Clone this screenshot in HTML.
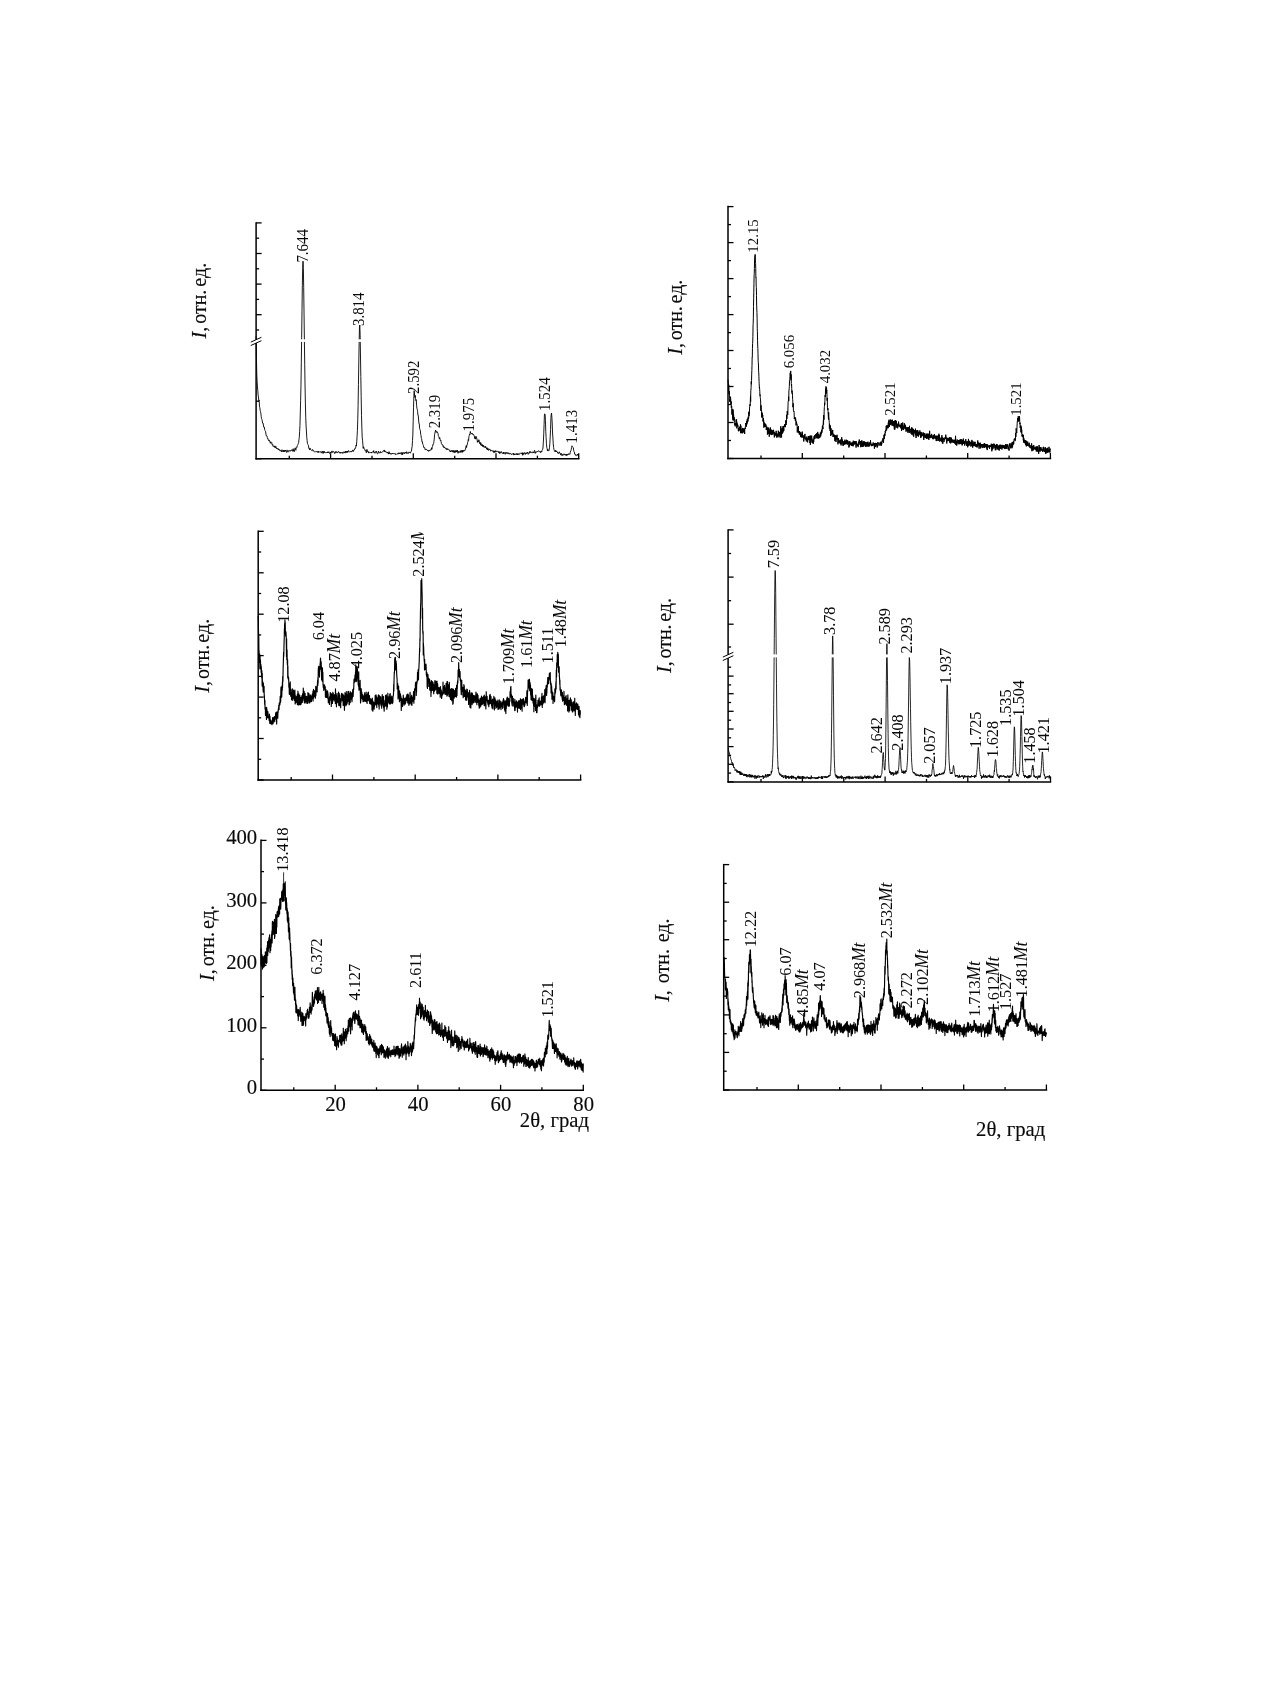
<!DOCTYPE html>
<html lang="ru"><head><meta charset="utf-8"><title>XRD</title>
<style>
html,body{margin:0;padding:0;background:#fff}
body{width:1270px;height:1683px;overflow:hidden}
svg{display:block;filter:blur(0.3px)}
text{font-family:"Liberation Serif","DejaVu Serif",serif;fill:#0a0a0a}
.yt,.tk{stroke:#0a0a0a;stroke-width:0.15px}
</style></head><body>
<svg width="1270" height="1683" viewBox="0 0 1270 1683">
<defs><clipPath id="c3"><rect x="250" y="532.2" width="340" height="260"/></clipPath></defs>
<rect width="1270" height="1683" fill="#fff"/>
<line x1="256.1" y1="222.2" x2="256.1" y2="459.4" stroke="#000" stroke-width="1.5"/>
<line x1="255.4" y1="458.7" x2="579.5" y2="458.7" stroke="#000" stroke-width="1.5"/>
<line x1="256.1" y1="222.9" x2="261.6" y2="222.9" stroke="#000" stroke-width="1.3"/>
<line x1="256.1" y1="238.2" x2="259.1" y2="238.2" stroke="#000" stroke-width="1.3"/>
<line x1="256.1" y1="253.5" x2="261.6" y2="253.5" stroke="#000" stroke-width="1.3"/>
<line x1="256.1" y1="268.8" x2="259.1" y2="268.8" stroke="#000" stroke-width="1.3"/>
<line x1="256.1" y1="284.1" x2="261.6" y2="284.1" stroke="#000" stroke-width="1.3"/>
<line x1="256.1" y1="299.4" x2="259.1" y2="299.4" stroke="#000" stroke-width="1.3"/>
<line x1="256.1" y1="314.7" x2="261.6" y2="314.7" stroke="#000" stroke-width="1.3"/>
<line x1="256.1" y1="330.0" x2="259.1" y2="330.0" stroke="#000" stroke-width="1.3"/>
<line x1="256.1" y1="401.2" x2="259.1" y2="401.2" stroke="#000" stroke-width="1.3"/>
<line x1="256.1" y1="458.7" x2="261.6" y2="458.7" stroke="#000" stroke-width="1.3"/>
<line x1="289.3" y1="458.7" x2="289.3" y2="455.7" stroke="#000" stroke-width="1.3"/>
<line x1="330.6" y1="458.7" x2="330.6" y2="453.2" stroke="#000" stroke-width="1.3"/>
<line x1="372.0" y1="458.7" x2="372.0" y2="455.7" stroke="#000" stroke-width="1.3"/>
<line x1="413.3" y1="458.7" x2="413.3" y2="453.2" stroke="#000" stroke-width="1.3"/>
<line x1="454.7" y1="458.7" x2="454.7" y2="455.7" stroke="#000" stroke-width="1.3"/>
<line x1="496.0" y1="458.7" x2="496.0" y2="453.2" stroke="#000" stroke-width="1.3"/>
<line x1="537.4" y1="458.7" x2="537.4" y2="455.7" stroke="#000" stroke-width="1.3"/>
<line x1="578.7" y1="458.7" x2="578.7" y2="453.2" stroke="#000" stroke-width="1.3"/>
<polyline fill="none" stroke="#000" stroke-width="0.9" stroke-linejoin="round" points="256.10,336.3 256.44,357.7 256.78,374.1 257.12,381.4 257.46,386.9 257.80,390.6 258.14,395.2 258.48,397.1 258.82,400.7 259.16,400.0 259.50,406.9 259.84,407.2 260.18,410.5 260.52,411.7 260.86,413.4 261.20,416.4 261.54,418.6 261.88,419.2 262.22,420.8 262.56,423.2 262.90,422.9 263.24,423.5 263.58,426.9 263.92,426.7 264.26,426.9 264.60,429.2 264.94,430.7 265.28,431.0 265.62,431.7 265.96,434.2 266.30,435.9 266.64,435.6 266.98,435.9 267.32,437.7 267.66,438.7 268.00,438.4 268.34,439.7 268.68,440.8 269.02,440.2 269.36,440.2 269.70,441.7 270.04,442.1 270.38,443.3 270.72,441.7 271.06,442.7 271.40,443.0 271.74,442.6 272.08,444.5 272.42,445.2 272.76,444.5 273.10,446.6 273.44,446.4 273.78,446.5 274.12,446.6 274.46,447.3 274.80,445.8 275.14,447.6 275.48,447.8 275.82,446.3 276.16,448.1 276.50,447.9 276.84,448.9 277.18,448.2 277.52,448.8 277.86,449.3 278.20,448.6 278.54,449.9 278.88,449.5 279.22,450.1 279.56,449.6 279.90,450.9 280.24,450.7 280.58,450.3 280.92,451.0 281.26,451.5 281.60,452.0 281.94,449.7 282.28,451.5 282.62,451.2 282.96,450.9 283.30,450.3 283.64,451.9 283.98,450.2 284.32,451.4 284.66,452.0 285.00,450.0 285.34,450.9 285.68,450.2 286.02,451.3 286.36,452.2 286.70,452.5 287.04,449.9 287.38,450.7 287.72,451.6 288.06,452.2 288.40,451.4 288.74,450.5 289.08,451.3 289.42,451.0 289.76,450.8 290.10,450.2 290.44,451.1 290.78,451.0 291.12,450.7 291.46,450.5 291.80,449.7 292.14,450.2 292.48,451.3 292.82,450.2 293.16,448.7 293.50,451.0 293.84,450.2 294.18,451.8 294.52,449.5 294.86,448.9 295.20,447.9 295.54,449.7 295.88,450.3 296.22,447.3 296.56,447.0 296.90,447.4 297.24,445.7 297.58,445.4 297.92,444.4 298.26,443.7 298.60,442.9 298.94,439.8 299.28,437.5 299.62,431.6 299.96,425.6 300.30,413.0 300.64,400.2 300.98,385.5 301.32,362.2 301.66,337.2 302.00,310.3 302.34,285.6 302.68,267.3 303.02,261.2 303.36,268.5 303.70,287.5 304.04,312.9 304.38,340.0 304.72,364.8 305.06,386.1 305.40,403.9 305.74,417.3 306.08,426.0 306.42,431.0 306.76,437.2 307.10,440.5 307.44,443.4 307.78,444.4 308.12,444.6 308.46,445.4 308.80,448.3 309.14,448.0 309.48,449.3 309.82,450.0 310.16,448.2 310.50,449.4 310.84,449.8 311.18,450.1 311.52,450.4 311.86,450.3 312.20,450.5 312.54,449.5 312.88,450.6 313.22,450.4 313.56,451.1 313.90,450.8 314.24,451.6 314.58,451.9 314.92,451.6 315.26,451.7 315.60,451.6 315.94,451.3 316.28,451.6 316.62,451.4 316.96,452.1 317.30,451.9 317.64,452.3 317.98,451.1 318.32,452.6 318.66,451.5 319.00,451.6 319.34,452.0 319.68,451.8 320.02,452.3 320.36,451.8 320.70,451.5 321.04,451.7 321.38,453.1 321.72,452.3 322.06,451.5 322.40,452.3 322.74,451.3 323.08,453.5 323.42,451.4 323.76,452.8 324.10,452.7 324.44,451.4 324.78,452.6 325.12,453.0 325.46,452.7 325.80,452.6 326.14,453.0 326.48,452.5 326.82,452.6 327.16,452.3 327.50,453.0 327.84,451.8 328.18,452.9 328.52,452.1 328.86,451.7 329.20,452.7 329.54,453.5 329.88,453.1 330.22,452.1 330.56,452.9 330.90,452.1 331.24,452.4 331.58,452.5 331.92,450.9 332.26,452.6 332.60,451.8 332.94,452.0 333.28,451.5 333.62,451.4 333.96,451.8 334.30,453.0 334.64,453.5 334.98,452.4 335.32,453.1 335.66,452.2 336.00,451.2 336.34,452.5 336.68,452.7 337.02,452.1 337.36,452.6 337.70,452.7 338.04,451.8 338.38,451.4 338.72,452.2 339.06,452.2 339.40,452.1 339.74,453.0 340.08,453.4 340.42,452.0 340.76,452.7 341.10,452.9 341.44,452.7 341.78,452.9 342.12,452.0 342.46,452.7 342.80,453.5 343.14,452.7 343.48,451.8 343.82,452.6 344.16,453.0 344.50,452.4 344.84,451.7 345.18,453.1 345.52,451.2 345.86,452.4 346.20,452.0 346.54,451.2 346.88,452.8 347.22,452.2 347.56,451.1 347.90,452.3 348.24,451.5 348.58,450.5 348.92,451.3 349.26,451.9 349.60,452.1 349.94,451.7 350.28,451.5 350.62,451.8 350.96,451.2 351.30,452.1 351.64,451.3 351.98,451.3 352.32,451.3 352.66,450.1 353.00,450.1 353.34,451.5 353.68,450.4 354.02,449.7 354.36,449.9 354.70,448.9 355.04,449.0 355.38,447.7 355.72,447.7 356.06,445.1 356.40,445.9 356.74,441.7 357.08,436.3 357.42,430.6 357.76,419.8 358.10,405.4 358.44,384.4 358.78,364.1 359.12,343.9 359.46,327.2 359.80,325.0 360.14,335.3 360.48,355.0 360.82,376.4 361.16,396.3 361.50,415.3 361.84,427.1 362.18,437.1 362.52,440.2 362.86,444.3 363.20,448.4 363.54,446.8 363.88,447.6 364.22,448.9 364.56,449.4 364.90,450.5 365.24,450.3 365.58,450.0 365.92,450.9 366.26,452.8 366.60,452.0 366.94,449.4 367.28,451.3 367.62,451.0 367.96,452.1 368.30,451.6 368.64,453.1 368.98,452.5 369.32,452.6 369.66,452.2 370.00,452.1 370.34,452.4 370.68,453.0 371.02,452.6 371.36,452.0 371.70,453.1 372.04,452.5 372.38,452.3 372.72,451.7 373.06,452.0 373.40,452.0 373.74,450.6 374.08,453.1 374.42,452.8 374.76,452.4 375.10,453.2 375.44,452.8 375.78,452.8 376.12,451.0 376.46,452.4 376.80,452.9 377.14,453.6 377.48,453.8 377.82,453.5 378.16,451.8 378.50,451.2 378.84,452.9 379.18,452.6 379.52,453.2 379.86,452.5 380.20,452.7 380.54,451.5 380.88,452.7 381.22,452.1 381.56,452.5 381.90,452.4 382.24,451.8 382.58,451.8 382.92,451.3 383.26,451.5 383.60,451.0 383.94,450.0 384.28,450.0 384.62,451.8 384.96,450.8 385.30,451.9 385.64,451.9 385.98,451.6 386.32,451.8 386.66,452.6 387.00,452.9 387.34,453.2 387.68,452.1 388.02,452.6 388.36,453.0 388.70,454.1 389.04,451.7 389.38,453.5 389.72,452.9 390.06,453.6 390.40,453.0 390.74,453.6 391.08,454.4 391.42,453.7 391.76,453.7 392.10,453.8 392.44,453.1 392.78,453.9 393.12,453.5 393.46,453.1 393.80,453.6 394.14,453.5 394.48,454.1 394.82,453.7 395.16,453.4 395.50,454.6 395.84,454.3 396.18,454.5 396.52,454.1 396.86,453.7 397.20,453.5 397.54,453.6 397.88,454.3 398.22,453.8 398.56,452.8 398.90,453.7 399.24,452.9 399.58,453.8 399.92,452.9 400.26,452.9 400.60,453.7 400.94,453.5 401.28,452.5 401.62,453.9 401.96,454.8 402.30,452.5 402.64,454.5 402.98,452.9 403.32,453.0 403.66,453.1 404.00,452.3 404.34,454.0 404.68,453.4 405.02,452.6 405.36,452.8 405.70,452.0 406.04,452.7 406.38,453.5 406.72,451.7 407.06,452.5 407.40,452.8 407.74,453.3 408.08,453.8 408.42,452.3 408.76,452.0 409.10,452.7 409.44,452.1 409.78,452.0 410.12,452.8 410.46,453.1 410.80,451.9 411.14,451.3 411.48,451.1 411.82,448.0 412.16,446.6 412.50,440.4 412.84,435.0 413.18,421.6 413.52,407.2 413.86,396.3 414.20,390.7 414.54,395.4 414.88,397.4 415.22,395.3 415.56,398.7 415.90,400.6 416.24,399.7 416.58,405.2 416.92,408.2 417.26,409.3 417.60,411.7 417.94,415.4 418.28,415.4 418.62,420.0 418.96,423.8 419.30,423.8 419.64,428.7 419.98,429.6 420.32,430.2 420.66,434.2 421.00,435.4 421.34,438.4 421.68,438.7 422.02,442.1 422.36,441.9 422.70,444.0 423.04,444.3 423.38,445.5 423.72,447.5 424.06,447.5 424.40,447.6 424.74,447.5 425.08,449.8 425.42,449.8 425.76,449.4 426.10,450.0 426.44,449.4 426.78,449.5 427.12,449.8 427.46,450.7 427.80,450.7 428.14,450.0 428.48,451.3 428.82,451.1 429.16,450.6 429.50,451.1 429.84,450.0 430.18,450.0 430.52,450.2 430.86,449.5 431.20,449.8 431.54,447.8 431.88,449.3 432.22,446.9 432.56,446.5 432.90,444.4 433.24,444.6 433.58,443.6 433.92,441.5 434.26,439.1 434.60,434.4 434.94,432.9 435.28,431.4 435.62,430.1 435.96,432.2 436.30,431.5 436.64,431.6 436.98,432.6 437.32,431.8 437.66,432.6 438.00,433.4 438.34,435.6 438.68,436.4 439.02,437.5 439.36,438.8 439.70,437.5 440.04,439.1 440.38,440.5 440.72,440.0 441.06,441.5 441.40,443.5 441.74,444.3 442.08,444.8 442.42,444.6 442.76,444.9 443.10,446.5 443.44,445.8 443.78,446.8 444.12,448.0 444.46,447.0 444.80,447.2 445.14,448.0 445.48,448.8 445.82,448.9 446.16,449.0 446.50,449.5 446.84,448.1 447.18,448.9 447.52,449.8 447.86,449.2 448.20,449.1 448.54,449.3 448.88,449.7 449.22,450.3 449.56,449.9 449.90,450.9 450.24,452.0 450.58,450.8 450.92,451.9 451.26,451.3 451.60,450.4 451.94,451.1 452.28,450.6 452.62,451.9 452.96,450.6 453.30,452.4 453.64,451.9 453.98,450.2 454.32,452.1 454.66,452.7 455.00,451.1 455.34,452.4 455.68,450.5 456.02,451.9 456.36,450.6 456.70,452.1 457.04,450.6 457.38,450.0 457.72,452.0 458.06,453.3 458.40,451.4 458.74,452.3 459.08,451.8 459.42,451.5 459.76,452.1 460.10,452.7 460.44,450.7 460.78,451.9 461.12,451.6 461.46,450.4 461.80,452.3 462.14,452.5 462.48,450.3 462.82,452.1 463.16,450.7 463.50,450.4 463.84,451.3 464.18,450.2 464.52,450.0 464.86,450.5 465.20,449.9 465.54,449.2 465.88,446.9 466.22,445.7 466.56,447.5 466.90,445.0 467.24,444.9 467.58,442.6 467.92,442.0 468.26,439.5 468.60,440.5 468.94,436.3 469.28,435.5 469.62,434.0 469.96,434.5 470.30,431.5 470.64,433.0 470.98,432.9 471.32,433.7 471.66,433.9 472.00,433.1 472.34,434.1 472.68,433.8 473.02,434.9 473.36,434.7 473.70,434.6 474.04,435.6 474.38,436.4 474.72,438.6 475.06,436.5 475.40,437.7 475.74,439.2 476.08,436.4 476.42,437.2 476.76,438.1 477.10,439.6 477.44,442.3 477.78,440.9 478.12,442.1 478.46,441.2 478.80,439.7 479.14,440.2 479.48,443.5 479.82,443.2 480.16,442.3 480.50,444.7 480.84,442.8 481.18,445.4 481.52,445.9 481.86,444.4 482.20,444.4 482.54,446.3 482.88,445.0 483.22,446.9 483.56,445.5 483.90,447.3 484.24,447.0 484.58,446.8 484.92,446.7 485.26,447.8 485.60,446.3 485.94,447.8 486.28,447.9 486.62,448.9 486.96,447.6 487.30,450.0 487.64,448.6 487.98,448.2 488.32,450.2 488.66,450.5 489.00,449.3 489.34,448.9 489.68,449.7 490.02,449.3 490.36,449.7 490.70,451.2 491.04,450.5 491.38,450.4 491.72,450.6 492.06,450.5 492.40,451.2 492.74,451.3 493.08,450.5 493.42,451.0 493.76,452.6 494.10,451.3 494.44,451.0 494.78,452.6 495.12,451.3 495.46,450.6 495.80,451.9 496.14,450.9 496.48,451.2 496.82,451.9 497.16,451.6 497.50,451.3 497.84,451.5 498.18,451.5 498.52,452.7 498.86,451.5 499.20,451.7 499.54,453.5 499.88,451.8 500.22,453.2 500.56,453.1 500.90,452.2 501.24,451.5 501.58,452.7 501.92,452.9 502.26,453.2 502.60,452.7 502.94,453.8 503.28,453.6 503.62,452.1 503.96,453.8 504.30,453.0 504.64,452.6 504.98,452.8 505.32,454.3 505.66,453.8 506.00,452.1 506.34,453.3 506.68,453.2 507.02,453.3 507.36,453.1 507.70,452.6 508.04,454.1 508.38,452.8 508.72,453.4 509.06,453.3 509.40,453.3 509.74,454.2 510.08,454.1 510.42,453.5 510.76,453.4 511.10,453.7 511.44,454.6 511.78,454.1 512.12,454.2 512.46,453.9 512.80,454.0 513.14,454.3 513.48,453.1 513.82,455.1 514.16,453.8 514.50,453.9 514.84,455.0 515.18,454.4 515.52,454.3 515.86,453.9 516.20,453.4 516.54,454.4 516.88,455.0 517.22,453.7 517.56,455.0 517.90,453.6 518.24,453.6 518.58,454.5 518.92,454.2 519.26,454.5 519.60,453.7 519.94,453.5 520.28,452.9 520.62,453.3 520.96,453.3 521.30,453.1 521.64,454.1 521.98,453.5 522.32,452.6 522.66,455.3 523.00,453.0 523.34,452.9 523.68,454.4 524.02,454.3 524.36,452.8 524.70,452.6 525.04,452.8 525.38,454.4 525.72,453.2 526.06,452.8 526.40,453.2 526.74,453.9 527.08,452.3 527.42,452.8 527.76,452.2 528.10,454.4 528.44,454.1 528.78,453.5 529.12,452.8 529.46,453.2 529.80,451.4 530.14,452.9 530.48,451.8 530.82,451.8 531.16,452.1 531.50,452.3 531.84,452.9 532.18,452.9 532.52,452.6 532.86,451.7 533.20,452.7 533.54,452.2 533.88,453.0 534.22,451.5 534.56,450.3 534.90,451.7 535.24,453.4 535.58,452.2 535.92,451.7 536.26,452.4 536.60,452.0 536.94,452.0 537.28,451.2 537.62,451.6 537.96,451.6 538.30,451.0 538.64,450.6 538.98,451.4 539.32,451.9 539.66,451.6 540.00,451.5 540.34,451.6 540.68,452.8 541.02,451.1 541.36,451.5 541.70,452.0 542.04,450.4 542.38,449.9 542.72,449.2 543.06,447.0 543.40,441.1 543.74,433.8 544.08,424.6 544.42,415.0 544.76,413.8 545.10,414.6 545.44,420.4 545.78,431.2 546.12,437.6 546.46,443.8 546.80,447.8 547.14,448.7 547.48,450.8 547.82,449.3 548.16,450.5 548.50,450.7 548.84,451.0 549.18,449.7 549.52,447.2 549.86,443.2 550.20,436.8 550.54,429.6 550.88,418.9 551.22,414.2 551.56,413.1 551.90,417.7 552.24,424.0 552.58,434.0 552.92,438.0 553.26,443.9 553.60,447.3 553.94,449.5 554.28,450.5 554.62,451.1 554.96,451.8 555.30,450.3 555.64,451.5 555.98,450.8 556.32,451.8 556.66,451.0 557.00,451.3 557.34,452.0 557.68,453.1 558.02,452.9 558.36,452.8 558.70,453.6 559.04,452.3 559.38,451.8 559.72,453.0 560.06,453.3 560.40,454.3 560.74,455.0 561.08,453.1 561.42,455.4 561.76,455.0 562.10,454.6 562.44,454.4 562.78,455.7 563.12,454.4 563.46,454.2 563.80,454.6 564.14,453.8 564.48,454.9 564.82,454.6 565.16,454.9 565.50,455.0 565.84,454.2 566.18,455.6 566.52,454.3 566.86,455.4 567.20,454.0 567.54,455.1 567.88,454.4 568.22,454.9 568.56,454.4 568.90,453.5 569.24,453.9 569.58,454.4 569.92,454.3 570.26,452.4 570.60,451.0 570.94,450.5 571.28,449.4 571.62,447.4 571.96,445.8 572.30,446.4 572.64,446.7 572.98,447.5 573.32,447.8 573.66,450.3 574.00,451.5 574.34,451.9 574.68,454.2 575.02,454.2 575.36,454.2 575.70,455.5 576.04,455.2 576.38,455.3 576.72,455.6 577.06,455.3 577.40,454.0 577.74,454.8 578.08,455.6 578.42,454.6"/>
<rect x="262" y="339.3" width="318" height="2.6" fill="#fff"/>
<rect x="254.1" y="339.7" width="4" height="3.4" fill="#fff"/>
<line x1="250.8" y1="342.1" x2="261.4" y2="337.3" stroke="#000" stroke-width="1.0"/>
<line x1="250.8" y1="345.5" x2="261.4" y2="340.7" stroke="#000" stroke-width="1.0"/>
<text class="pl" transform="translate(307.5,262.6) rotate(-90) scale(1,1.05)" font-size="14.9">7.644</text>
<text class="pl" transform="translate(364.2,326.0) rotate(-90) scale(1,1.05)" font-size="14.9">3.814</text>
<text class="pl" transform="translate(418.5,394.0) rotate(-90) scale(1,1.05)" font-size="14.9">2.592</text>
<text class="pl" transform="translate(439.5,428.3) rotate(-90) scale(1,1.05)" font-size="14.9">2.319</text>
<text class="pl" transform="translate(474.3,431.4) rotate(-90) scale(1,1.05)" font-size="14.9">1.975</text>
<text class="pl" transform="translate(549.9,410.9) rotate(-90) scale(1,1.05)" font-size="14.9">1.524</text>
<text class="pl" transform="translate(576.5,443.4) rotate(-90) scale(1,1.05)" font-size="14.9">1.413</text>
<text class="yt" transform="translate(205.8,338.5) rotate(-90) scale(0.94,1)" font-size="21.3" word-spacing="-2.14"><tspan font-style="italic">I</tspan>, отн. ед.</text>
<line x1="728.0" y1="205.8" x2="728.0" y2="459.2" stroke="#000" stroke-width="1.5"/>
<line x1="727.2" y1="458.5" x2="1051.2" y2="458.5" stroke="#000" stroke-width="1.5"/>
<line x1="728.0" y1="206.6" x2="733.5" y2="206.6" stroke="#000" stroke-width="1.3"/>
<line x1="728.0" y1="224.6" x2="731.0" y2="224.6" stroke="#000" stroke-width="1.3"/>
<line x1="728.0" y1="242.6" x2="733.5" y2="242.6" stroke="#000" stroke-width="1.3"/>
<line x1="728.0" y1="260.6" x2="731.0" y2="260.6" stroke="#000" stroke-width="1.3"/>
<line x1="728.0" y1="278.6" x2="733.5" y2="278.6" stroke="#000" stroke-width="1.3"/>
<line x1="728.0" y1="296.6" x2="731.0" y2="296.6" stroke="#000" stroke-width="1.3"/>
<line x1="728.0" y1="314.6" x2="733.5" y2="314.6" stroke="#000" stroke-width="1.3"/>
<line x1="728.0" y1="332.6" x2="731.0" y2="332.6" stroke="#000" stroke-width="1.3"/>
<line x1="728.0" y1="350.5" x2="733.5" y2="350.5" stroke="#000" stroke-width="1.3"/>
<line x1="728.0" y1="368.5" x2="731.0" y2="368.5" stroke="#000" stroke-width="1.3"/>
<line x1="728.0" y1="386.5" x2="733.5" y2="386.5" stroke="#000" stroke-width="1.3"/>
<line x1="728.0" y1="404.5" x2="731.0" y2="404.5" stroke="#000" stroke-width="1.3"/>
<line x1="728.0" y1="422.5" x2="733.5" y2="422.5" stroke="#000" stroke-width="1.3"/>
<line x1="728.0" y1="440.5" x2="731.0" y2="440.5" stroke="#000" stroke-width="1.3"/>
<line x1="728.0" y1="458.5" x2="733.5" y2="458.5" stroke="#000" stroke-width="1.3"/>
<line x1="761.0" y1="458.5" x2="761.0" y2="455.5" stroke="#000" stroke-width="1.3"/>
<line x1="802.3" y1="458.5" x2="802.3" y2="453.0" stroke="#000" stroke-width="1.3"/>
<line x1="843.7" y1="458.5" x2="843.7" y2="455.5" stroke="#000" stroke-width="1.3"/>
<line x1="885.0" y1="458.5" x2="885.0" y2="453.0" stroke="#000" stroke-width="1.3"/>
<line x1="926.4" y1="458.5" x2="926.4" y2="455.5" stroke="#000" stroke-width="1.3"/>
<line x1="967.7" y1="458.5" x2="967.7" y2="453.0" stroke="#000" stroke-width="1.3"/>
<line x1="1009.1" y1="458.5" x2="1009.1" y2="455.5" stroke="#000" stroke-width="1.3"/>
<line x1="1050.4" y1="458.5" x2="1050.4" y2="453.0" stroke="#000" stroke-width="1.3"/>
<polyline fill="none" stroke="#000" stroke-width="1.0" stroke-linejoin="round" points="728.00,379.7 728.15,381.3 728.30,382.2 728.45,385.0 728.60,391.3 728.75,384.7 728.90,392.2 729.05,394.1 729.20,391.1 729.35,391.3 729.50,395.2 729.65,398.1 729.80,401.5 729.95,399.3 730.10,402.1 730.25,398.0 730.40,397.9 730.55,396.7 730.70,399.1 730.85,402.0 731.00,404.3 731.15,401.4 731.30,407.7 731.45,406.3 731.60,405.9 731.75,406.5 731.90,414.5 732.05,410.7 732.20,408.9 732.35,409.6 732.50,417.4 732.65,412.0 732.80,417.1 732.95,419.8 733.10,409.5 733.25,420.6 733.40,415.8 733.55,414.2 733.70,416.0 733.85,419.2 734.00,419.2 734.15,419.8 734.30,417.4 734.45,422.7 734.60,423.6 734.75,424.8 734.90,423.1 735.05,425.6 735.20,426.4 735.35,423.5 735.50,424.2 735.65,423.9 735.80,424.1 735.95,425.1 736.10,419.5 736.25,423.0 736.40,425.1 736.55,419.5 736.70,421.3 736.85,428.4 737.00,422.7 737.15,424.3 737.30,426.4 737.45,424.8 737.60,424.2 737.75,425.2 737.90,425.6 738.05,425.5 738.20,427.4 738.35,430.8 738.50,428.3 738.65,431.3 738.80,429.5 738.95,430.0 739.10,429.6 739.25,427.9 739.40,429.7 739.55,429.6 739.70,426.7 739.85,430.9 740.00,430.7 740.15,430.4 740.30,428.6 740.45,424.3 740.60,433.2 740.75,430.0 740.90,425.7 741.05,431.8 741.20,429.0 741.35,432.0 741.50,430.4 741.65,433.1 741.80,431.2 741.95,431.3 742.10,431.0 742.25,433.3 742.40,427.9 742.55,433.1 742.70,432.0 742.85,429.3 743.00,430.3 743.15,429.3 743.30,430.2 743.45,432.0 743.60,428.4 743.75,431.3 743.90,432.4 744.05,430.8 744.20,432.6 744.35,428.9 744.50,430.4 744.65,434.0 744.80,428.5 744.95,427.9 745.10,428.0 745.25,429.0 745.40,426.1 745.55,426.4 745.70,423.0 745.85,424.2 746.00,423.9 746.15,423.2 746.30,424.5 746.45,426.6 746.60,423.8 746.75,421.2 746.90,424.3 747.05,423.6 747.20,419.4 747.35,422.5 747.50,419.0 747.65,419.4 747.80,418.5 747.95,421.5 748.10,416.8 748.25,417.2 748.40,417.6 748.55,418.9 748.70,418.3 748.85,411.7 749.00,416.2 749.15,412.8 749.30,413.9 749.45,412.2 749.60,406.8 749.75,406.8 749.90,404.4 750.05,404.3 750.20,405.8 750.35,399.8 750.50,395.9 750.65,401.7 750.80,390.4 750.95,390.4 751.10,387.6 751.25,381.4 751.40,384.2 751.55,380.7 751.70,374.1 751.85,370.5 752.00,365.7 752.15,357.1 752.30,357.3 752.45,348.4 752.60,343.5 752.75,341.1 752.90,336.2 753.05,325.1 753.20,323.3 753.35,317.9 753.50,306.6 753.65,298.7 753.80,292.2 753.95,283.7 754.10,275.9 754.25,273.6 754.40,268.5 754.55,261.0 754.70,258.0 754.85,255.4 755.00,254.5 755.15,254.3 755.30,254.5 755.45,263.1 755.60,263.4 755.75,268.7 755.90,277.9 756.05,277.6 756.20,286.1 756.35,287.3 756.50,295.4 756.65,305.1 756.80,309.0 756.95,312.4 757.10,318.2 757.25,328.8 757.40,331.3 757.55,340.8 757.70,345.0 757.85,348.4 758.00,353.7 758.15,360.2 758.30,362.6 758.45,364.0 758.60,370.9 758.75,372.7 758.90,376.2 759.05,381.3 759.20,383.6 759.35,388.0 759.50,387.5 759.65,389.2 759.80,391.7 759.95,395.6 760.10,394.6 760.25,397.6 760.40,398.1 760.55,399.9 760.70,403.0 760.85,410.8 761.00,405.3 761.15,408.2 761.30,409.0 761.45,409.5 761.60,411.1 761.75,416.9 761.90,412.4 762.05,417.9 762.20,416.4 762.35,413.5 762.50,414.9 762.65,416.1 762.80,415.3 762.95,421.4 763.10,420.3 763.25,421.1 763.40,418.1 763.55,422.1 763.70,420.4 763.85,427.7 764.00,422.3 764.15,423.7 764.30,424.4 764.45,422.9 764.60,423.5 764.75,423.9 764.90,427.0 765.05,423.9 765.20,425.5 765.35,426.9 765.50,425.6 765.65,423.8 765.80,424.5 765.95,426.4 766.10,425.5 766.25,429.9 766.40,428.1 766.55,428.3 766.70,426.5 766.85,429.9 767.00,428.3 767.15,427.2 767.30,428.1 767.45,434.6 767.60,428.6 767.75,428.2 767.90,432.5 768.05,431.9 768.20,429.9 768.35,433.5 768.50,427.8 768.65,430.0 768.80,427.7 768.95,434.0 769.10,431.4 769.25,436.7 769.40,432.5 769.55,432.7 769.70,429.5 769.85,429.5 770.00,431.0 770.15,433.9 770.30,430.1 770.45,427.5 770.60,434.1 770.75,434.3 770.90,430.7 771.05,433.5 771.20,434.9 771.35,435.1 771.50,429.7 771.65,433.0 771.80,431.4 771.95,434.9 772.10,433.2 772.25,430.7 772.40,433.4 772.55,434.4 772.70,430.2 772.85,430.6 773.00,432.0 773.15,432.8 773.30,432.3 773.45,429.8 773.60,430.4 773.75,433.5 773.90,434.4 774.05,431.8 774.20,434.0 774.35,437.4 774.50,433.3 774.65,432.8 774.80,432.4 774.95,434.7 775.10,434.2 775.25,434.3 775.40,433.1 775.55,434.7 775.70,434.7 775.85,433.6 776.00,436.2 776.15,430.8 776.30,435.3 776.45,433.6 776.60,435.5 776.75,437.6 776.90,434.0 777.05,433.5 777.20,433.8 777.35,436.6 777.50,436.9 777.65,434.1 777.80,435.0 777.95,437.3 778.10,434.8 778.25,430.7 778.40,432.0 778.55,432.6 778.70,434.3 778.85,432.4 779.00,436.2 779.15,432.4 779.30,436.4 779.45,431.9 779.60,435.9 779.75,433.5 779.90,435.9 780.05,436.9 780.20,437.8 780.35,434.9 780.50,431.1 780.65,430.9 780.80,426.2 780.95,435.3 781.10,434.8 781.25,434.2 781.40,429.6 781.55,437.5 781.70,430.3 781.85,433.3 782.00,428.0 782.15,429.9 782.30,433.6 782.45,433.0 782.60,428.4 782.75,430.3 782.90,432.6 783.05,426.1 783.20,431.4 783.35,426.2 783.50,430.6 783.65,428.4 783.80,430.8 783.95,427.2 784.10,427.2 784.25,426.9 784.40,425.2 784.55,426.3 784.70,424.2 784.85,424.8 785.00,427.1 785.15,424.4 785.30,427.1 785.45,425.7 785.60,425.5 785.75,420.3 785.90,423.3 786.05,425.0 786.20,423.1 786.35,423.1 786.50,423.0 786.65,414.8 786.80,419.0 786.95,417.9 787.10,415.0 787.25,411.0 787.40,413.4 787.55,411.2 787.70,415.0 787.85,411.8 788.00,405.8 788.15,402.3 788.30,400.8 788.45,400.7 788.60,396.7 788.75,401.0 788.90,390.5 789.05,390.6 789.20,388.4 789.35,386.4 789.50,380.3 789.65,379.5 789.80,378.3 789.95,376.7 790.10,372.9 790.25,372.7 790.40,373.7 790.55,378.1 790.70,370.9 790.85,376.7 791.00,380.3 791.15,374.5 791.30,383.6 791.45,385.6 791.60,384.4 791.75,388.9 791.90,392.5 792.05,390.7 792.20,393.9 792.35,392.8 792.50,395.8 792.65,399.7 792.80,401.2 792.95,407.2 793.10,404.3 793.25,403.4 793.40,410.1 793.55,411.6 793.70,411.6 793.85,411.5 794.00,411.1 794.15,412.5 794.30,419.0 794.45,418.1 794.60,417.3 794.75,419.0 794.90,417.9 795.05,417.3 795.20,419.2 795.35,420.9 795.50,417.8 795.65,418.9 795.80,418.9 795.95,422.4 796.10,425.4 796.25,421.5 796.40,422.4 796.55,421.9 796.70,424.9 796.85,423.8 797.00,424.6 797.15,424.8 797.30,432.5 797.45,427.8 797.60,427.0 797.75,427.8 797.90,431.0 798.05,431.5 798.20,430.4 798.35,426.0 798.50,432.5 798.65,433.0 798.80,432.6 798.95,432.3 799.10,431.7 799.25,434.3 799.40,431.3 799.55,434.5 799.70,431.6 799.85,432.1 800.00,432.2 800.15,432.2 800.30,432.6 800.45,435.3 800.60,437.1 800.75,432.8 800.90,432.3 801.05,437.0 801.20,434.1 801.35,435.5 801.50,435.4 801.65,437.1 801.80,433.7 801.95,437.8 802.10,437.3 802.25,431.6 802.40,435.8 802.55,435.2 802.70,437.1 802.85,436.4 803.00,435.2 803.15,436.1 803.30,437.6 803.45,437.1 803.60,436.8 803.75,441.5 803.90,438.4 804.05,435.4 804.20,437.8 804.35,438.3 804.50,435.9 804.65,438.1 804.80,436.4 804.95,433.9 805.10,439.1 805.25,439.5 805.40,439.5 805.55,438.2 805.70,437.4 805.85,439.1 806.00,439.5 806.15,440.5 806.30,441.4 806.45,440.4 806.60,437.9 806.75,439.0 806.90,436.5 807.05,440.5 807.20,440.3 807.35,441.5 807.50,440.3 807.65,442.4 807.80,438.2 807.95,440.2 808.10,439.2 808.25,439.3 808.40,436.5 808.55,438.4 808.70,436.1 808.85,439.2 809.00,438.6 809.15,440.1 809.30,436.6 809.45,439.0 809.60,439.5 809.75,435.8 809.90,443.0 810.05,440.9 810.20,438.7 810.35,444.9 810.50,442.6 810.65,435.6 810.80,439.6 810.95,439.0 811.10,440.2 811.25,438.4 811.40,439.7 811.55,440.3 811.70,435.6 811.85,440.4 812.00,442.7 812.15,440.3 812.30,442.2 812.45,442.9 812.60,440.5 812.75,440.6 812.90,440.6 813.05,438.7 813.20,443.9 813.35,440.4 813.50,440.5 813.65,441.0 813.80,441.8 813.95,436.4 814.10,436.8 814.25,438.7 814.40,439.2 814.55,435.7 814.70,435.1 814.85,438.9 815.00,438.5 815.15,436.4 815.30,436.2 815.45,435.4 815.60,434.2 815.75,434.8 815.90,436.8 816.05,436.1 816.20,438.3 816.35,434.0 816.50,433.3 816.65,437.7 816.80,434.9 816.95,436.2 817.10,436.9 817.25,434.5 817.40,434.0 817.55,437.5 817.70,431.9 817.85,438.3 818.00,433.7 818.15,438.6 818.30,437.6 818.45,437.4 818.60,437.9 818.75,437.1 818.90,434.1 819.05,438.2 819.20,436.8 819.35,437.3 819.50,436.0 819.65,435.5 819.80,437.6 819.95,437.5 820.10,435.9 820.25,432.8 820.40,433.0 820.55,432.6 820.70,436.5 820.85,435.0 821.00,433.8 821.15,433.0 821.30,431.4 821.45,434.1 821.60,429.8 821.75,429.7 821.90,432.7 822.05,431.7 822.20,429.5 822.35,426.3 822.50,425.5 822.65,429.3 822.80,427.4 822.95,428.9 823.10,423.5 823.25,423.2 823.40,419.9 823.55,424.6 823.70,415.1 823.85,419.0 824.00,419.7 824.15,411.2 824.30,407.8 824.45,406.5 824.60,402.9 824.75,404.7 824.90,400.8 825.05,396.0 825.20,395.0 825.35,397.0 825.50,390.6 825.65,388.7 825.80,393.7 825.95,386.4 826.10,387.8 826.25,393.4 826.40,390.9 826.55,387.5 826.70,390.9 826.85,390.2 827.00,396.2 827.15,400.7 827.30,397.9 827.45,407.9 827.60,409.3 827.75,410.1 827.90,408.1 828.05,411.7 828.20,414.7 828.35,417.3 828.50,419.5 828.65,412.3 828.80,417.2 828.95,417.3 829.10,420.4 829.25,422.7 829.40,428.5 829.55,423.9 829.70,427.0 829.85,426.0 830.00,426.4 830.15,431.0 830.30,425.4 830.45,429.9 830.60,433.5 830.75,436.0 830.90,429.0 831.05,428.6 831.20,428.4 831.35,430.6 831.50,431.9 831.65,432.3 831.80,435.0 831.95,432.4 832.10,434.0 832.25,430.4 832.40,432.7 832.55,434.0 832.70,429.9 832.85,435.1 833.00,436.9 833.15,435.6 833.30,436.1 833.45,435.9 833.60,433.8 833.75,436.5 833.90,435.5 834.05,437.0 834.20,437.1 834.35,437.4 834.50,434.8 834.65,437.4 834.80,441.1 834.95,440.3 835.10,437.6 835.25,436.8 835.40,440.2 835.55,438.5 835.70,435.2 835.85,437.9 836.00,442.0 836.15,435.8 836.30,439.2 836.45,437.8 836.60,439.2 836.75,438.6 836.90,437.9 837.05,434.8 837.20,439.3 837.35,439.9 837.50,439.6 837.65,438.0 837.80,438.9 837.95,444.3 838.10,438.2 838.25,439.4 838.40,438.1 838.55,440.1 838.70,441.0 838.85,442.9 839.00,441.1 839.15,440.8 839.30,441.5 839.45,442.0 839.60,440.9 839.75,441.0 839.90,443.4 840.05,439.9 840.20,441.1 840.35,439.6 840.50,440.4 840.65,444.1 840.80,440.2 840.95,442.4 841.10,445.4 841.25,442.6 841.40,441.4 841.55,440.3 841.70,437.2 841.85,440.1 842.00,440.2 842.15,443.6 842.30,443.2 842.45,439.6 842.60,443.1 842.75,440.9 842.90,445.3 843.05,445.8 843.20,443.4 843.35,441.5 843.50,445.4 843.65,443.9 843.80,444.4 843.95,443.4 844.10,442.0 844.25,443.9 844.40,441.1 844.55,444.6 844.70,442.9 844.85,439.7 845.00,443.5 845.15,442.6 845.30,442.0 845.45,442.6 845.60,444.2 845.75,440.8 845.90,440.9 846.05,444.1 846.20,443.2 846.35,439.8 846.50,443.1 846.65,439.9 846.80,444.2 846.95,443.4 847.10,443.8 847.25,440.3 847.40,441.6 847.55,444.5 847.70,440.5 847.85,443.9 848.00,442.6 848.15,443.3 848.30,441.6 848.45,444.1 848.60,443.8 848.75,444.6 848.90,447.5 849.05,442.8 849.20,443.3 849.35,441.4 849.50,446.3 849.65,442.6 849.80,444.6 849.95,441.3 850.10,442.9 850.25,444.4 850.40,444.2 850.55,442.9 850.70,445.0 850.85,443.7 851.00,445.3 851.15,443.1 851.30,444.7 851.45,442.7 851.60,445.8 851.75,443.6 851.90,443.7 852.05,442.6 852.20,445.4 852.35,443.9 852.50,443.3 852.65,446.0 852.80,442.3 852.95,445.4 853.10,446.3 853.25,440.7 853.40,445.3 853.55,444.7 853.70,444.1 853.85,444.3 854.00,441.6 854.15,444.6 854.30,444.1 854.45,441.2 854.60,443.4 854.75,441.7 854.90,443.9 855.05,442.2 855.20,444.0 855.35,441.3 855.50,442.5 855.65,443.1 855.80,443.4 855.95,445.8 856.10,447.6 856.25,441.2 856.40,445.3 856.55,443.4 856.70,443.3 856.85,443.3 857.00,443.6 857.15,443.7 857.30,445.3 857.45,446.1 857.60,444.5 857.75,444.0 857.90,444.9 858.05,444.7 858.20,447.1 858.35,442.3 858.50,441.6 858.65,443.5 858.80,444.5 858.95,443.6 859.10,444.3 859.25,439.5 859.40,442.6 859.55,442.8 859.70,441.6 859.85,442.9 860.00,443.5 860.15,444.6 860.30,442.3 860.45,441.0 860.60,444.6 860.75,447.2 860.90,444.2 861.05,444.1 861.20,442.2 861.35,444.3 861.50,446.6 861.65,440.6 861.80,445.7 861.95,440.6 862.10,446.5 862.25,445.4 862.40,443.5 862.55,444.6 862.70,446.8 862.85,442.2 863.00,446.0 863.15,445.0 863.30,444.1 863.45,446.5 863.60,441.3 863.75,443.9 863.90,442.1 864.05,444.0 864.20,445.0 864.35,441.4 864.50,444.6 864.65,444.6 864.80,443.1 864.95,444.0 865.10,446.0 865.25,444.7 865.40,446.9 865.55,442.4 865.70,442.0 865.85,446.2 866.00,441.9 866.15,446.2 866.30,444.2 866.45,445.3 866.60,443.6 866.75,446.6 866.90,446.5 867.05,446.3 867.20,445.1 867.35,442.0 867.50,445.9 867.65,444.4 867.80,446.5 867.95,441.7 868.10,445.0 868.25,443.5 868.40,444.2 868.55,445.8 868.70,445.7 868.85,446.7 869.00,445.1 869.15,445.3 869.30,444.9 869.45,442.4 869.60,446.2 869.75,443.0 869.90,443.5 870.05,445.1 870.20,443.2 870.35,443.6 870.50,440.2 870.65,442.9 870.80,442.5 870.95,443.3 871.10,445.3 871.25,443.9 871.40,444.1 871.55,444.5 871.70,446.1 871.85,446.2 872.00,445.1 872.15,444.0 872.30,445.9 872.45,443.9 872.60,444.1 872.75,444.9 872.90,443.6 873.05,442.6 873.20,442.4 873.35,443.9 873.50,444.8 873.65,445.5 873.80,443.1 873.95,444.8 874.10,444.5 874.25,443.7 874.40,448.7 874.55,443.3 874.70,443.1 874.85,444.8 875.00,447.1 875.15,443.9 875.30,446.8 875.45,442.9 875.60,443.9 875.75,444.3 875.90,444.2 876.05,444.7 876.20,444.4 876.35,444.3 876.50,443.0 876.65,445.5 876.80,444.7 876.95,445.1 877.10,447.5 877.25,445.6 877.40,445.1 877.55,447.1 877.70,444.0 877.85,442.2 878.00,443.8 878.15,442.7 878.30,444.4 878.45,444.4 878.60,444.7 878.75,445.2 878.90,445.8 879.05,445.5 879.20,445.0 879.35,444.2 879.50,443.8 879.65,444.5 879.80,444.0 879.95,442.5 880.10,443.5 880.25,445.2 880.40,444.1 880.55,442.5 880.70,444.1 880.85,444.6 881.00,441.6 881.15,446.0 881.30,445.0 881.45,442.6 881.60,444.6 881.75,443.0 881.90,443.4 882.05,440.7 882.20,441.1 882.35,441.4 882.50,441.4 882.65,440.3 882.80,438.4 882.95,439.0 883.10,441.4 883.25,439.7 883.40,442.9 883.55,442.0 883.70,438.7 883.85,439.0 884.00,434.8 884.15,438.8 884.30,438.9 884.45,434.9 884.60,433.7 884.75,433.9 884.90,435.7 885.05,435.7 885.20,431.1 885.35,431.6 885.50,432.7 885.65,431.5 885.80,429.9 885.95,430.9 886.10,427.5 886.25,425.8 886.40,429.6 886.55,429.4 886.70,430.2 886.85,426.5 887.00,425.1 887.15,426.8 887.30,426.2 887.45,426.2 887.60,425.7 887.75,428.4 887.90,426.0 888.05,428.0 888.20,423.4 888.35,422.5 888.50,426.4 888.65,420.7 888.80,421.6 888.95,421.4 889.10,419.7 889.25,424.5 889.40,427.0 889.55,424.5 889.70,425.0 889.85,422.3 890.00,420.9 890.15,424.1 890.30,420.3 890.45,419.5 890.60,421.0 890.75,425.1 890.90,423.7 891.05,422.2 891.20,420.5 891.35,420.0 891.50,423.6 891.65,422.8 891.80,421.3 891.95,425.5 892.10,421.6 892.25,419.6 892.40,422.6 892.55,425.5 892.70,424.8 892.85,425.3 893.00,421.6 893.15,424.4 893.30,423.8 893.45,423.0 893.60,421.1 893.75,426.3 893.90,424.0 894.05,422.6 894.20,425.5 894.35,429.4 894.50,420.7 894.65,424.6 894.80,429.6 894.95,428.2 895.10,422.0 895.25,423.2 895.40,420.0 895.55,424.3 895.70,421.1 895.85,422.2 896.00,427.6 896.15,422.0 896.30,420.8 896.45,424.8 896.60,425.2 896.75,425.4 896.90,427.5 897.05,423.5 897.20,424.8 897.35,426.6 897.50,424.4 897.65,428.3 897.80,427.5 897.95,425.6 898.10,425.2 898.25,425.7 898.40,426.4 898.55,421.6 898.70,423.1 898.85,424.2 899.00,424.1 899.15,424.1 899.30,424.7 899.45,426.2 899.60,425.1 899.75,426.9 899.90,426.9 900.05,426.1 900.20,425.4 900.35,424.8 900.50,428.1 900.65,425.1 900.80,427.0 900.95,428.3 901.10,427.2 901.25,423.3 901.40,425.1 901.55,430.9 901.70,423.4 901.85,429.5 902.00,424.6 902.15,427.1 902.30,429.3 902.45,424.9 902.60,429.2 902.75,422.5 902.90,426.9 903.05,425.9 903.20,428.2 903.35,429.0 903.50,429.9 903.65,429.9 903.80,426.7 903.95,425.7 904.10,428.6 904.25,426.6 904.40,423.4 904.55,423.3 904.70,427.0 904.85,427.1 905.00,428.2 905.15,428.5 905.30,424.8 905.45,428.8 905.60,425.9 905.75,429.2 905.90,428.3 906.05,431.7 906.20,429.3 906.35,427.5 906.50,428.1 906.65,428.8 906.80,430.0 906.95,430.5 907.10,427.2 907.25,427.0 907.40,430.7 907.55,429.2 907.70,431.5 907.85,430.4 908.00,432.9 908.15,430.9 908.30,427.1 908.45,428.8 908.60,430.9 908.75,427.7 908.90,429.9 909.05,431.4 909.20,432.3 909.35,431.9 909.50,425.8 909.65,432.7 909.80,428.6 909.95,430.6 910.10,428.9 910.25,432.5 910.40,430.5 910.55,431.2 910.70,431.7 910.85,430.7 911.00,429.7 911.15,433.9 911.30,432.3 911.45,432.7 911.60,427.7 911.75,427.3 911.90,434.7 912.05,432.8 912.20,427.9 912.35,432.3 912.50,431.7 912.65,429.7 912.80,430.4 912.95,435.3 913.10,430.3 913.25,432.8 913.40,430.3 913.55,428.9 913.70,436.7 913.85,433.4 914.00,431.1 914.15,431.4 914.30,431.6 914.45,430.1 914.60,433.1 914.75,433.5 914.90,431.5 915.05,432.3 915.20,429.9 915.35,433.0 915.50,428.7 915.65,432.4 915.80,435.4 915.95,432.1 916.10,438.0 916.25,430.6 916.40,432.3 916.55,432.8 916.70,434.7 916.85,435.3 917.00,433.3 917.15,430.1 917.30,435.9 917.45,434.4 917.60,434.7 917.75,430.1 917.90,434.2 918.05,433.0 918.20,435.2 918.35,436.7 918.50,431.8 918.65,433.2 918.80,433.5 918.95,432.0 919.10,434.6 919.25,434.6 919.40,431.9 919.55,432.0 919.70,434.2 919.85,430.4 920.00,434.4 920.15,435.5 920.30,435.5 920.45,432.1 920.60,437.3 920.75,437.9 920.90,431.9 921.05,437.4 921.20,436.7 921.35,435.9 921.50,432.9 921.65,436.3 921.80,432.3 921.95,434.6 922.10,436.1 922.25,435.6 922.40,434.1 922.55,435.4 922.70,434.5 922.85,435.3 923.00,433.4 923.15,432.7 923.30,433.9 923.45,432.7 923.60,437.1 923.75,439.9 923.90,436.4 924.05,437.3 924.20,433.2 924.35,435.0 924.50,433.2 924.65,436.5 924.80,435.5 924.95,433.5 925.10,438.0 925.25,435.3 925.40,436.9 925.55,437.1 925.70,438.1 925.85,437.9 926.00,435.6 926.15,435.2 926.30,434.4 926.45,433.7 926.60,438.8 926.75,434.6 926.90,438.2 927.05,434.1 927.20,434.3 927.35,437.4 927.50,435.4 927.65,434.2 927.80,438.6 927.95,433.4 928.10,434.2 928.25,437.0 928.40,438.5 928.55,435.7 928.70,434.3 928.85,439.9 929.00,435.8 929.15,434.7 929.30,436.1 929.45,438.0 929.60,430.8 929.75,434.0 929.90,437.3 930.05,437.0 930.20,436.1 930.35,435.8 930.50,437.2 930.65,438.1 930.80,435.2 930.95,435.0 931.10,437.6 931.25,435.7 931.40,433.9 931.55,436.0 931.70,434.4 931.85,437.5 932.00,438.0 932.15,435.4 932.30,436.1 932.45,437.2 932.60,438.9 932.75,438.5 932.90,437.3 933.05,437.5 933.20,439.3 933.35,438.1 933.50,438.3 933.65,435.1 933.80,437.5 933.95,437.9 934.10,437.3 934.25,434.7 934.40,434.0 934.55,438.4 934.70,438.5 934.85,437.6 935.00,435.8 935.15,436.6 935.30,437.3 935.45,438.8 935.60,437.7 935.75,436.1 935.90,436.7 936.05,435.5 936.20,440.9 936.35,436.4 936.50,440.3 936.65,438.3 936.80,441.1 936.95,436.0 937.10,439.2 937.25,436.3 937.40,436.4 937.55,436.7 937.70,435.7 937.85,436.5 938.00,437.6 938.15,441.0 938.30,437.3 938.45,435.4 938.60,439.2 938.75,440.6 938.90,433.7 939.05,439.0 939.20,435.8 939.35,435.0 939.50,439.4 939.65,440.9 939.80,441.6 939.95,438.5 940.10,437.8 940.25,439.0 940.40,439.6 940.55,440.2 940.70,441.0 940.85,439.4 941.00,439.8 941.15,439.2 941.30,437.5 941.45,440.0 941.60,441.5 941.75,440.3 941.90,435.2 942.05,441.7 942.20,437.5 942.35,443.1 942.50,442.8 942.65,440.3 942.80,443.8 942.95,437.7 943.10,438.8 943.25,438.0 943.40,439.8 943.55,439.3 943.70,439.6 943.85,439.5 944.00,441.9 944.15,439.3 944.30,438.5 944.45,439.5 944.60,440.1 944.75,440.1 944.90,437.5 945.05,438.5 945.20,438.8 945.35,437.7 945.50,436.5 945.65,438.3 945.80,434.7 945.95,438.9 946.10,437.1 946.25,438.8 946.40,439.2 946.55,442.8 946.70,443.0 946.85,443.5 947.00,439.8 947.15,438.8 947.30,441.1 947.45,437.9 947.60,439.5 947.75,438.4 947.90,439.7 948.05,441.1 948.20,437.9 948.35,440.4 948.50,440.2 948.65,440.3 948.80,440.8 948.95,439.2 949.10,439.8 949.25,439.1 949.40,437.3 949.55,442.6 949.70,441.3 949.85,441.3 950.00,439.0 950.15,437.1 950.30,440.6 950.45,438.6 950.60,443.4 950.75,443.3 950.90,439.4 951.05,442.7 951.20,441.6 951.35,440.2 951.50,437.7 951.65,441.5 951.80,442.0 951.95,442.1 952.10,439.6 952.25,440.7 952.40,440.8 952.55,440.8 952.70,439.7 952.85,442.7 953.00,441.8 953.15,440.2 953.30,441.6 953.45,442.6 953.60,441.5 953.75,441.5 953.90,442.4 954.05,439.7 954.20,442.3 954.35,439.9 954.50,441.5 954.65,443.3 954.80,440.4 954.95,443.2 955.10,442.4 955.25,443.7 955.40,438.7 955.55,435.8 955.70,439.8 955.85,445.0 956.00,442.0 956.15,441.1 956.30,441.6 956.45,442.4 956.60,441.3 956.75,445.6 956.90,441.9 957.05,439.4 957.20,439.5 957.35,441.6 957.50,441.8 957.65,443.2 957.80,443.5 957.95,443.6 958.10,440.1 958.25,442.6 958.40,440.8 958.55,442.2 958.70,440.2 958.85,444.2 959.00,444.4 959.15,442.6 959.30,440.4 959.45,443.9 959.60,442.6 959.75,439.8 959.90,443.3 960.05,443.7 960.20,443.0 960.35,439.2 960.50,443.4 960.65,443.9 960.80,441.3 960.95,444.1 961.10,443.2 961.25,444.0 961.40,439.4 961.55,441.9 961.70,443.2 961.85,439.9 962.00,442.6 962.15,445.4 962.30,439.8 962.45,444.9 962.60,444.0 962.75,441.0 962.90,441.2 963.05,441.1 963.20,443.1 963.35,438.6 963.50,443.8 963.65,440.1 963.80,442.0 963.95,441.9 964.10,444.0 964.25,441.0 964.40,441.3 964.55,444.8 964.70,445.6 964.85,442.7 965.00,442.2 965.15,443.3 965.30,443.0 965.45,442.9 965.60,441.2 965.75,439.1 965.90,443.3 966.05,442.8 966.20,444.9 966.35,444.8 966.50,445.8 966.65,442.1 966.80,444.2 966.95,440.9 967.10,443.5 967.25,443.9 967.40,441.8 967.55,442.9 967.70,447.3 967.85,441.7 968.00,444.9 968.15,442.6 968.30,445.3 968.45,438.9 968.60,441.0 968.75,442.8 968.90,446.1 969.05,443.0 969.20,441.2 969.35,442.6 969.50,444.7 969.65,440.8 969.80,443.5 969.95,443.1 970.10,442.8 970.25,444.2 970.40,442.2 970.55,444.5 970.70,444.6 970.85,446.5 971.00,444.2 971.15,443.6 971.30,441.8 971.45,442.8 971.60,441.6 971.75,446.1 971.90,439.9 972.05,444.6 972.20,444.7 972.35,445.0 972.50,443.2 972.65,447.7 972.80,443.4 972.95,441.3 973.10,442.9 973.25,442.8 973.40,446.2 973.55,444.0 973.70,442.5 973.85,442.6 974.00,443.9 974.15,443.4 974.30,444.0 974.45,445.9 974.60,441.9 974.75,443.2 974.90,444.7 975.05,441.8 975.20,445.4 975.35,446.7 975.50,444.7 975.65,445.9 975.80,444.0 975.95,444.6 976.10,445.1 976.25,444.6 976.40,446.8 976.55,444.0 976.70,446.3 976.85,444.1 977.00,447.5 977.15,447.2 977.30,445.5 977.45,442.6 977.60,443.4 977.75,440.4 977.90,446.3 978.05,444.1 978.20,443.6 978.35,444.9 978.50,442.5 978.65,444.1 978.80,445.2 978.95,446.5 979.10,448.7 979.25,443.2 979.40,446.5 979.55,444.0 979.70,443.3 979.85,445.7 980.00,445.0 980.15,442.6 980.30,445.1 980.45,448.4 980.60,443.9 980.75,443.9 980.90,447.3 981.05,445.7 981.20,444.1 981.35,446.2 981.50,444.5 981.65,444.1 981.80,446.1 981.95,444.0 982.10,446.8 982.25,448.1 982.40,444.4 982.55,444.4 982.70,444.3 982.85,445.5 983.00,444.2 983.15,445.7 983.30,446.9 983.45,443.8 983.60,446.0 983.75,447.5 983.90,447.0 984.05,444.1 984.20,447.8 984.35,444.1 984.50,447.4 984.65,443.1 984.80,446.8 984.95,445.3 985.10,445.2 985.25,445.1 985.40,444.2 985.55,446.6 985.70,446.1 985.85,447.2 986.00,444.5 986.15,447.1 986.30,447.6 986.45,444.4 986.60,448.0 986.75,448.5 986.90,444.0 987.05,444.5 987.20,450.1 987.35,446.6 987.50,445.9 987.65,444.6 987.80,447.2 987.95,445.4 988.10,446.8 988.25,446.5 988.40,447.0 988.55,447.3 988.70,445.8 988.85,447.0 989.00,447.2 989.15,445.8 989.30,445.1 989.45,446.7 989.60,448.9 989.75,446.0 989.90,445.6 990.05,446.8 990.20,445.6 990.35,446.5 990.50,446.3 990.65,445.5 990.80,447.0 990.95,445.0 991.10,445.2 991.25,443.7 991.40,445.1 991.55,446.8 991.70,448.3 991.85,451.3 992.00,446.2 992.15,445.4 992.30,449.6 992.45,444.1 992.60,447.9 992.75,446.9 992.90,449.1 993.05,446.1 993.20,446.8 993.35,443.7 993.50,445.5 993.65,446.4 993.80,445.5 993.95,445.3 994.10,448.2 994.25,444.1 994.40,443.8 994.55,444.0 994.70,445.2 994.85,444.9 995.00,445.9 995.15,445.2 995.30,450.2 995.45,445.3 995.60,445.9 995.75,447.4 995.90,450.2 996.05,446.2 996.20,445.7 996.35,448.2 996.50,445.9 996.65,444.1 996.80,444.1 996.95,445.9 997.10,444.4 997.25,448.4 997.40,447.4 997.55,449.4 997.70,447.1 997.85,446.2 998.00,447.9 998.15,448.3 998.30,445.4 998.45,449.6 998.60,447.2 998.75,448.2 998.90,446.0 999.05,448.6 999.20,450.6 999.35,446.7 999.50,445.4 999.65,447.3 999.80,447.3 999.95,448.1 1000.10,444.5 1000.25,448.7 1000.40,447.5 1000.55,446.6 1000.70,445.1 1000.85,447.4 1001.00,448.8 1001.15,447.9 1001.30,447.9 1001.45,447.2 1001.60,447.6 1001.75,444.9 1001.90,449.5 1002.05,448.8 1002.20,446.7 1002.35,447.2 1002.50,444.9 1002.65,445.7 1002.80,447.8 1002.95,446.0 1003.10,445.3 1003.25,446.6 1003.40,448.1 1003.55,445.4 1003.70,447.8 1003.85,448.0 1004.00,448.1 1004.15,447.9 1004.30,447.2 1004.45,446.6 1004.60,448.6 1004.75,445.6 1004.90,449.1 1005.05,445.0 1005.20,446.7 1005.35,447.4 1005.50,444.1 1005.65,447.8 1005.80,448.8 1005.95,445.3 1006.10,446.7 1006.25,448.2 1006.40,448.2 1006.55,448.5 1006.70,444.4 1006.85,446.6 1007.00,448.8 1007.15,444.5 1007.30,444.8 1007.45,446.6 1007.60,446.6 1007.75,444.4 1007.90,445.1 1008.05,446.4 1008.20,446.8 1008.35,449.6 1008.50,448.1 1008.65,446.9 1008.80,446.5 1008.95,447.7 1009.10,450.7 1009.25,445.9 1009.40,444.9 1009.55,444.3 1009.70,446.2 1009.85,444.3 1010.00,443.0 1010.15,444.7 1010.30,444.6 1010.45,447.4 1010.60,448.3 1010.75,444.9 1010.90,444.8 1011.05,447.3 1011.20,445.4 1011.35,444.7 1011.50,446.6 1011.65,443.5 1011.80,446.0 1011.95,448.3 1012.10,442.2 1012.25,445.3 1012.40,443.9 1012.55,447.3 1012.70,445.6 1012.85,442.3 1013.00,443.2 1013.15,441.8 1013.30,444.8 1013.45,441.2 1013.60,442.2 1013.75,443.7 1013.90,440.9 1014.05,439.5 1014.20,438.9 1014.35,438.7 1014.50,439.8 1014.65,439.1 1014.80,439.9 1014.95,438.5 1015.10,441.1 1015.25,438.8 1015.40,439.4 1015.55,434.9 1015.70,432.9 1015.85,436.9 1016.00,434.3 1016.15,428.4 1016.30,430.3 1016.45,431.3 1016.60,431.7 1016.75,433.0 1016.90,429.2 1017.05,426.1 1017.20,423.2 1017.35,421.1 1017.50,420.3 1017.65,418.2 1017.80,419.8 1017.95,421.6 1018.10,419.9 1018.25,416.2 1018.40,420.1 1018.55,421.3 1018.70,418.5 1018.85,418.5 1019.00,419.5 1019.15,421.1 1019.30,416.0 1019.45,419.1 1019.60,417.5 1019.75,422.5 1019.90,424.2 1020.05,422.7 1020.20,427.9 1020.35,425.9 1020.50,426.8 1020.65,427.2 1020.80,425.4 1020.95,432.2 1021.10,429.8 1021.25,426.7 1021.40,432.5 1021.55,433.3 1021.70,429.6 1021.85,433.0 1022.00,436.5 1022.15,435.1 1022.30,434.8 1022.45,435.3 1022.60,436.5 1022.75,434.3 1022.90,435.9 1023.05,437.7 1023.20,437.6 1023.35,440.5 1023.50,435.1 1023.65,442.6 1023.80,438.3 1023.95,438.3 1024.10,439.8 1024.25,442.1 1024.40,440.1 1024.55,443.2 1024.70,443.2 1024.85,441.6 1025.00,441.5 1025.15,441.8 1025.30,442.7 1025.45,440.1 1025.60,445.1 1025.75,443.1 1025.90,443.7 1026.05,442.3 1026.20,442.6 1026.35,446.4 1026.50,440.8 1026.65,444.6 1026.80,443.1 1026.95,441.8 1027.10,445.8 1027.25,443.3 1027.40,446.0 1027.55,444.4 1027.70,441.6 1027.85,445.0 1028.00,443.4 1028.15,445.0 1028.30,445.0 1028.45,446.3 1028.60,445.8 1028.75,445.3 1028.90,444.9 1029.05,443.6 1029.20,442.7 1029.35,446.5 1029.50,444.3 1029.65,445.5 1029.80,447.4 1029.95,447.8 1030.10,447.9 1030.25,446.9 1030.40,447.7 1030.55,447.5 1030.70,447.3 1030.85,445.1 1031.00,447.5 1031.15,448.6 1031.30,447.1 1031.45,447.4 1031.60,443.4 1031.75,445.8 1031.90,451.2 1032.05,445.9 1032.20,448.4 1032.35,450.3 1032.50,449.2 1032.65,448.0 1032.80,447.7 1032.95,445.8 1033.10,450.5 1033.25,448.1 1033.40,449.8 1033.55,445.6 1033.70,445.0 1033.85,445.0 1034.00,449.4 1034.15,447.7 1034.30,447.8 1034.45,448.7 1034.60,448.4 1034.75,448.5 1034.90,447.3 1035.05,446.8 1035.20,448.6 1035.35,450.0 1035.50,447.6 1035.65,448.7 1035.80,448.0 1035.95,449.3 1036.10,446.8 1036.25,451.6 1036.40,451.4 1036.55,448.9 1036.70,448.6 1036.85,446.2 1037.00,450.2 1037.15,449.1 1037.30,449.2 1037.45,446.5 1037.60,450.1 1037.75,451.8 1037.90,447.4 1038.05,448.7 1038.20,451.0 1038.35,450.2 1038.50,450.2 1038.65,453.9 1038.80,452.3 1038.95,449.5 1039.10,445.0 1039.25,449.0 1039.40,447.2 1039.55,447.4 1039.70,451.3 1039.85,447.7 1040.00,449.2 1040.15,451.6 1040.30,448.3 1040.45,448.6 1040.60,447.7 1040.75,448.8 1040.90,447.0 1041.05,449.8 1041.20,448.5 1041.35,450.2 1041.50,450.5 1041.65,449.4 1041.80,449.8 1041.95,449.0 1042.10,450.4 1042.25,451.0 1042.40,450.3 1042.55,451.8 1042.70,450.1 1042.85,449.7 1043.00,450.6 1043.15,447.4 1043.30,449.1 1043.45,446.8 1043.60,450.2 1043.75,451.3 1043.90,448.0 1044.05,448.8 1044.20,449.0 1044.35,451.7 1044.50,450.6 1044.65,452.0 1044.80,451.0 1044.95,451.1 1045.10,447.2 1045.25,447.0 1045.40,452.1 1045.55,453.7 1045.70,448.3 1045.85,448.5 1046.00,452.0 1046.15,453.4 1046.30,448.6 1046.45,449.3 1046.60,451.8 1046.75,450.8 1046.90,450.8 1047.05,451.6 1047.20,448.6 1047.35,449.0 1047.50,452.7 1047.65,447.8 1047.80,451.6 1047.95,449.6 1048.10,452.4 1048.25,450.2 1048.40,450.0 1048.55,452.1 1048.70,450.4 1048.85,450.4 1049.00,446.8 1049.15,451.3 1049.30,450.2 1049.45,452.1 1049.60,449.9 1049.75,448.8 1049.90,452.6 1050.05,450.6 1050.20,450.2 1050.35,448.5"/>
<text class="pl" transform="translate(758.4,252.7) rotate(-90) scale(1,1.0)" font-size="14.9">12.15</text>
<text class="pl" transform="translate(793.8,368.3) rotate(-90) scale(1,1.0)" font-size="14.9">6.056</text>
<text class="pl" transform="translate(829.8,383.3) rotate(-90) scale(1,1.0)" font-size="14.9">4.032</text>
<text class="pl" transform="translate(894.8,415.8) rotate(-90) scale(1,1.0)" font-size="14.9">2.521</text>
<text class="pl" transform="translate(1021.1,415.8) rotate(-90) scale(1,1.0)" font-size="14.9">1.521</text>
<text class="yt" transform="translate(681.7,354.7) rotate(-90) scale(0.94,1)" font-size="21.3" word-spacing="-2.46"><tspan font-style="italic">I</tspan>, отн. ед.</text>
<line x1="258.2" y1="530.5" x2="258.2" y2="780.8" stroke="#000" stroke-width="1.5"/>
<line x1="257.4" y1="780.0" x2="581.4" y2="780.0" stroke="#000" stroke-width="1.5"/>
<line x1="258.2" y1="531.3" x2="263.7" y2="531.3" stroke="#000" stroke-width="1.3"/>
<line x1="258.2" y1="552.0" x2="261.2" y2="552.0" stroke="#000" stroke-width="1.3"/>
<line x1="258.2" y1="572.8" x2="263.7" y2="572.8" stroke="#000" stroke-width="1.3"/>
<line x1="258.2" y1="593.5" x2="261.2" y2="593.5" stroke="#000" stroke-width="1.3"/>
<line x1="258.2" y1="614.2" x2="263.7" y2="614.2" stroke="#000" stroke-width="1.3"/>
<line x1="258.2" y1="634.9" x2="261.2" y2="634.9" stroke="#000" stroke-width="1.3"/>
<line x1="258.2" y1="655.6" x2="263.7" y2="655.6" stroke="#000" stroke-width="1.3"/>
<line x1="258.2" y1="676.4" x2="261.2" y2="676.4" stroke="#000" stroke-width="1.3"/>
<line x1="258.2" y1="697.1" x2="263.7" y2="697.1" stroke="#000" stroke-width="1.3"/>
<line x1="258.2" y1="717.8" x2="261.2" y2="717.8" stroke="#000" stroke-width="1.3"/>
<line x1="258.2" y1="738.5" x2="263.7" y2="738.5" stroke="#000" stroke-width="1.3"/>
<line x1="258.2" y1="759.3" x2="261.2" y2="759.3" stroke="#000" stroke-width="1.3"/>
<line x1="258.2" y1="780.0" x2="263.7" y2="780.0" stroke="#000" stroke-width="1.3"/>
<line x1="291.2" y1="780.0" x2="291.2" y2="777.0" stroke="#000" stroke-width="1.3"/>
<line x1="332.5" y1="780.0" x2="332.5" y2="774.5" stroke="#000" stroke-width="1.3"/>
<line x1="373.9" y1="780.0" x2="373.9" y2="777.0" stroke="#000" stroke-width="1.3"/>
<line x1="415.2" y1="780.0" x2="415.2" y2="774.5" stroke="#000" stroke-width="1.3"/>
<line x1="456.6" y1="780.0" x2="456.6" y2="777.0" stroke="#000" stroke-width="1.3"/>
<line x1="497.9" y1="780.0" x2="497.9" y2="774.5" stroke="#000" stroke-width="1.3"/>
<line x1="539.2" y1="780.0" x2="539.2" y2="777.0" stroke="#000" stroke-width="1.3"/>
<line x1="580.6" y1="780.0" x2="580.6" y2="774.5" stroke="#000" stroke-width="1.3"/>
<g clip-path="url(#c3)">
<polyline fill="none" stroke="#000" stroke-width="1.15" stroke-linejoin="round" points="258.20,615.9 258.34,620.0 258.48,630.8 258.62,635.6 258.76,634.7 258.90,650.7 259.04,650.2 259.18,655.3 259.32,662.5 259.46,656.8 259.60,653.7 259.74,657.8 259.88,668.8 260.02,655.3 260.16,663.1 260.30,664.7 260.44,659.7 260.58,665.3 260.72,669.1 260.86,664.2 261.00,667.2 261.14,672.6 261.28,666.6 261.42,670.3 261.56,677.3 261.70,674.6 261.84,670.6 261.98,676.8 262.12,685.9 262.26,673.2 262.40,683.9 262.54,684.3 262.68,681.6 262.82,687.2 262.96,682.5 263.10,690.8 263.24,692.0 263.38,683.0 263.52,687.0 263.66,689.2 263.80,688.4 263.94,692.4 264.08,686.2 264.22,696.6 264.36,695.4 264.50,698.9 264.64,703.1 264.78,705.0 264.92,700.4 265.06,709.1 265.20,708.5 265.34,707.1 265.48,715.5 265.62,707.7 265.76,708.1 265.90,712.1 266.04,708.1 266.18,714.0 266.32,712.5 266.46,719.4 266.60,707.4 266.74,708.7 266.88,715.2 267.02,709.6 267.16,716.1 267.30,711.5 267.44,714.4 267.58,717.7 267.72,714.7 267.86,711.6 268.00,713.4 268.14,717.9 268.28,716.3 268.42,717.5 268.56,717.1 268.70,717.9 268.84,717.0 268.98,715.9 269.12,720.5 269.26,719.7 269.40,714.0 269.54,718.9 269.68,721.4 269.82,723.5 269.96,716.1 270.10,719.8 270.24,721.1 270.38,722.0 270.52,719.7 270.66,723.7 270.80,721.3 270.94,722.1 271.08,721.0 271.22,722.9 271.36,721.8 271.50,723.0 271.64,722.2 271.78,723.2 271.92,724.6 272.06,721.5 272.20,720.2 272.34,721.2 272.48,720.5 272.62,717.5 272.76,721.3 272.90,719.9 273.04,723.7 273.18,720.8 273.32,722.4 273.46,721.7 273.60,718.9 273.74,717.4 273.88,717.9 274.02,718.0 274.16,720.3 274.30,717.4 274.44,717.6 274.58,716.5 274.72,721.8 274.86,717.5 275.00,718.8 275.14,717.3 275.28,718.6 275.42,716.4 275.56,715.1 275.70,712.9 275.84,714.0 275.98,718.2 276.12,719.2 276.26,712.0 276.40,716.6 276.54,717.4 276.68,724.1 276.82,713.6 276.96,713.9 277.10,712.2 277.24,717.1 277.38,717.6 277.52,713.8 277.66,717.3 277.80,718.2 277.94,710.8 278.08,712.8 278.22,711.0 278.36,708.7 278.50,708.4 278.64,708.5 278.78,705.3 278.92,707.5 279.06,709.6 279.20,703.3 279.34,704.6 279.48,702.5 279.62,705.1 279.76,702.8 279.90,704.8 280.04,700.3 280.18,696.4 280.32,702.6 280.46,699.5 280.60,702.0 280.74,700.0 280.88,689.6 281.02,687.1 281.16,696.5 281.30,693.3 281.44,686.9 281.58,691.8 281.72,697.1 281.86,693.8 282.00,685.8 282.14,688.5 282.28,690.3 282.42,681.9 282.56,687.5 282.70,676.4 282.84,681.8 282.98,680.1 283.12,668.6 283.26,664.5 283.40,659.5 283.54,652.4 283.68,657.1 283.82,653.4 283.96,646.9 284.10,641.8 284.24,637.7 284.38,629.8 284.52,628.3 284.66,623.4 284.80,627.5 284.94,619.8 285.08,627.2 285.22,622.3 285.36,632.1 285.50,634.2 285.64,635.6 285.78,636.3 285.92,631.8 286.06,634.1 286.20,636.8 286.34,644.3 286.48,656.5 286.62,638.8 286.76,659.5 286.90,649.9 287.04,649.8 287.18,659.0 287.32,664.6 287.46,660.2 287.60,659.6 287.74,678.0 287.88,666.0 288.02,677.4 288.16,677.7 288.30,676.6 288.44,679.9 288.58,677.3 288.72,680.2 288.86,687.3 289.00,683.2 289.14,685.3 289.28,693.5 289.42,694.5 289.56,693.1 289.70,693.6 289.84,689.5 289.98,691.4 290.12,689.0 290.26,681.9 290.40,692.5 290.54,693.3 290.68,696.2 290.82,688.9 290.96,696.3 291.10,692.3 291.24,689.6 291.38,693.2 291.52,699.4 291.66,694.3 291.80,696.3 291.94,692.8 292.08,697.7 292.22,700.5 292.36,694.3 292.50,697.9 292.64,688.9 292.78,697.7 292.92,692.7 293.06,698.9 293.20,696.8 293.34,693.1 293.48,697.4 293.62,690.4 293.76,696.7 293.90,693.3 294.04,697.2 294.18,693.9 294.32,700.4 294.46,698.2 294.60,698.1 294.74,692.2 294.88,690.1 295.02,695.1 295.16,704.0 295.30,695.2 295.44,702.3 295.58,702.9 295.72,696.8 295.86,697.9 296.00,702.7 296.14,697.6 296.28,697.1 296.42,696.6 296.56,699.5 296.70,697.8 296.84,702.0 296.98,698.0 297.12,701.1 297.26,694.7 297.40,704.7 297.54,696.0 297.68,695.9 297.82,693.2 297.96,691.2 298.10,694.1 298.24,698.3 298.38,695.5 298.52,705.0 298.66,694.4 298.80,693.9 298.94,699.6 299.08,701.2 299.22,696.3 299.36,702.8 299.50,704.7 299.64,700.5 299.78,695.2 299.92,703.3 300.06,698.8 300.20,699.5 300.34,703.3 300.48,698.0 300.62,704.7 300.76,697.3 300.90,702.2 301.04,701.4 301.18,704.0 301.32,700.9 301.46,701.3 301.60,697.2 301.74,697.1 301.88,695.7 302.02,699.0 302.16,695.6 302.30,702.4 302.44,698.3 302.58,693.9 302.72,695.1 302.86,700.8 303.00,694.6 303.14,697.6 303.28,688.1 303.42,698.2 303.56,698.3 303.70,696.8 303.84,698.8 303.98,694.0 304.12,691.2 304.26,694.2 304.40,703.0 304.54,700.0 304.68,701.5 304.82,697.1 304.96,701.1 305.10,693.4 305.24,699.6 305.38,696.2 305.52,697.5 305.66,701.3 305.80,702.9 305.94,696.7 306.08,697.7 306.22,703.1 306.36,701.8 306.50,696.3 306.64,699.6 306.78,697.2 306.92,701.2 307.06,700.3 307.20,700.2 307.34,698.2 307.48,696.9 307.62,703.4 307.76,702.0 307.90,692.6 308.04,699.6 308.18,700.7 308.32,696.8 308.46,697.0 308.60,697.3 308.74,700.7 308.88,693.4 309.02,699.7 309.16,702.7 309.30,700.8 309.44,702.3 309.58,698.7 309.72,702.9 309.86,699.9 310.00,701.6 310.14,694.9 310.28,701.7 310.42,695.2 310.56,698.4 310.70,700.7 310.84,697.6 310.98,696.3 311.12,697.2 311.26,701.5 311.40,701.6 311.54,699.2 311.68,696.4 311.82,695.7 311.96,698.4 312.10,698.9 312.24,694.1 312.38,694.3 312.52,698.3 312.66,698.8 312.80,696.4 312.94,691.2 313.08,701.1 313.22,696.9 313.36,698.2 313.50,689.4 313.64,692.8 313.78,694.3 313.92,697.1 314.06,691.2 314.20,691.6 314.34,690.5 314.48,694.4 314.62,695.8 314.76,696.1 314.90,691.2 315.04,694.4 315.18,695.5 315.32,698.3 315.46,696.0 315.60,693.9 315.74,686.4 315.88,695.8 316.02,691.0 316.16,690.7 316.30,688.5 316.44,689.0 316.58,688.3 316.72,687.0 316.86,686.6 317.00,691.7 317.14,692.0 317.28,685.9 317.42,683.7 317.56,681.2 317.70,679.9 317.84,685.6 317.98,677.2 318.12,682.9 318.26,670.4 318.40,667.8 318.54,667.5 318.68,666.4 318.82,671.0 318.96,675.4 319.10,666.6 319.24,670.4 319.38,673.8 319.52,677.1 319.66,667.8 319.80,669.7 319.94,669.6 320.08,663.6 320.22,665.3 320.36,660.6 320.50,658.1 320.64,659.5 320.78,666.9 320.92,669.0 321.06,667.0 321.20,661.7 321.34,671.4 321.48,669.3 321.62,679.9 321.76,671.1 321.90,667.2 322.04,671.7 322.18,671.9 322.32,681.3 322.46,667.9 322.60,676.7 322.74,677.8 322.88,672.3 323.02,684.3 323.16,685.9 323.30,687.3 323.44,687.8 323.58,685.3 323.72,690.3 323.86,684.8 324.00,687.2 324.14,688.3 324.28,687.6 324.42,688.6 324.56,684.8 324.70,686.9 324.84,686.5 324.98,688.7 325.12,690.0 325.26,686.7 325.40,696.9 325.54,697.2 325.68,693.5 325.82,692.8 325.96,689.6 326.10,693.2 326.24,693.1 326.38,697.5 326.52,694.8 326.66,697.4 326.80,697.1 326.94,693.3 327.08,691.0 327.22,691.4 327.36,690.9 327.50,693.8 327.64,698.1 327.78,691.8 327.92,695.4 328.06,693.8 328.20,699.7 328.34,702.8 328.48,700.4 328.62,698.3 328.76,699.5 328.90,702.6 329.04,698.0 329.18,698.2 329.32,701.0 329.46,704.4 329.60,696.7 329.74,701.1 329.88,700.3 330.02,696.6 330.16,695.0 330.30,692.6 330.44,692.7 330.58,696.0 330.72,698.8 330.86,695.2 331.00,696.2 331.14,694.8 331.28,706.4 331.42,693.9 331.56,693.8 331.70,702.0 331.84,694.7 331.98,703.1 332.12,695.8 332.26,701.6 332.40,703.4 332.54,696.3 332.68,696.5 332.82,692.3 332.96,699.4 333.10,695.7 333.24,693.0 333.38,698.3 333.52,698.2 333.66,696.6 333.80,695.8 333.94,701.1 334.08,696.6 334.22,694.8 334.36,697.0 334.50,699.9 334.64,697.5 334.78,696.5 334.92,694.6 335.06,695.0 335.20,694.8 335.34,703.5 335.48,688.8 335.62,697.3 335.76,698.9 335.90,695.2 336.04,695.1 336.18,701.6 336.32,704.4 336.46,706.8 336.60,699.8 336.74,697.5 336.88,701.8 337.02,693.3 337.16,696.3 337.30,702.8 337.44,699.5 337.58,699.3 337.72,698.6 337.86,698.3 338.00,697.8 338.14,701.8 338.28,701.5 338.42,701.8 338.56,692.1 338.70,705.0 338.84,703.8 338.98,705.6 339.12,698.4 339.26,693.6 339.40,696.9 339.54,695.6 339.68,705.7 339.82,698.5 339.96,698.6 340.10,703.3 340.24,703.6 340.38,705.7 340.52,700.8 340.66,707.7 340.80,703.3 340.94,698.5 341.08,702.3 341.22,694.8 341.36,694.5 341.50,695.6 341.64,693.3 341.78,695.4 341.92,694.3 342.06,694.9 342.20,693.9 342.34,700.8 342.48,695.1 342.62,696.8 342.76,695.9 342.90,694.2 343.04,694.3 343.18,705.5 343.32,698.5 343.46,702.3 343.60,699.1 343.74,695.6 343.88,698.8 344.02,698.0 344.16,696.7 344.30,701.5 344.44,710.3 344.58,701.0 344.72,703.3 344.86,703.1 345.00,692.7 345.14,703.9 345.28,693.9 345.42,704.4 345.56,699.0 345.70,699.8 345.84,705.8 345.98,703.0 346.12,694.9 346.26,691.6 346.40,697.2 346.54,704.8 346.68,701.3 346.82,703.3 346.96,702.2 347.10,703.7 347.24,696.1 347.38,694.6 347.52,697.7 347.66,701.8 347.80,695.3 347.94,691.6 348.08,697.0 348.22,701.0 348.36,699.1 348.50,696.4 348.64,695.5 348.78,691.3 348.92,698.6 349.06,704.8 349.20,697.1 349.34,704.4 349.48,695.6 349.62,695.9 349.76,697.8 349.90,699.4 350.04,693.2 350.18,702.7 350.32,698.2 350.46,691.7 350.60,699.3 350.74,697.7 350.88,694.2 351.02,696.6 351.16,699.2 351.30,697.7 351.44,695.6 351.58,692.8 351.72,696.0 351.86,698.9 352.00,701.8 352.14,696.8 352.28,697.9 352.42,697.4 352.56,694.5 352.70,689.7 352.84,693.1 352.98,694.0 353.12,696.4 353.26,693.6 353.40,689.8 353.54,688.3 353.68,689.5 353.82,685.2 353.96,681.1 354.10,679.0 354.24,682.9 354.38,681.7 354.52,679.6 354.66,679.2 354.80,681.1 354.94,675.4 355.08,676.8 355.22,674.6 355.36,678.5 355.50,671.9 355.64,677.6 355.78,664.7 355.92,681.8 356.06,677.0 356.20,668.6 356.34,673.2 356.48,681.2 356.62,673.8 356.76,667.6 356.90,672.2 357.04,666.5 357.18,674.6 357.32,674.4 357.46,668.7 357.60,676.5 357.74,678.3 357.88,681.6 358.02,677.6 358.16,684.8 358.30,684.4 358.44,683.7 358.58,686.1 358.72,671.7 358.86,686.7 359.00,690.2 359.14,684.4 359.28,688.8 359.42,684.0 359.56,686.7 359.70,687.6 359.84,685.6 359.98,689.3 360.12,680.3 360.26,689.5 360.40,696.5 360.54,703.0 360.68,691.7 360.82,701.2 360.96,693.3 361.10,688.5 361.24,689.6 361.38,692.1 361.52,693.3 361.66,696.5 361.80,692.1 361.94,694.4 362.08,698.7 362.22,695.6 362.36,696.5 362.50,697.7 362.64,699.3 362.78,699.7 362.92,694.7 363.06,701.7 363.20,695.5 363.34,699.6 363.48,697.8 363.62,701.3 363.76,698.9 363.90,700.9 364.04,698.6 364.18,696.7 364.32,697.8 364.46,697.3 364.60,694.3 364.74,692.7 364.88,698.9 365.02,701.5 365.16,695.3 365.30,700.4 365.44,697.8 365.58,699.6 365.72,701.2 365.86,699.6 366.00,697.4 366.14,692.0 366.28,698.1 366.42,698.0 366.56,701.8 366.70,695.2 366.84,696.9 366.98,700.0 367.12,703.4 367.26,694.7 367.40,700.7 367.54,696.4 367.68,694.8 367.82,692.8 367.96,694.1 368.10,699.6 368.24,694.1 368.38,692.1 368.52,694.6 368.66,700.1 368.80,700.9 368.94,700.4 369.08,701.0 369.22,700.2 369.36,696.9 369.50,695.5 369.64,703.4 369.78,699.4 369.92,700.6 370.06,698.4 370.20,701.3 370.34,703.9 370.48,698.9 370.62,701.6 370.76,701.4 370.90,703.9 371.04,702.1 371.18,701.9 371.32,699.6 371.46,701.8 371.60,699.6 371.74,705.0 371.88,701.4 372.02,709.9 372.16,698.3 372.30,698.1 372.44,705.3 372.58,706.2 372.72,700.5 372.86,711.2 373.00,703.2 373.14,708.1 373.28,703.2 373.42,706.1 373.56,707.5 373.70,702.1 373.84,704.0 373.98,704.8 374.12,709.2 374.26,706.8 374.40,707.2 374.54,704.8 374.68,705.6 374.82,705.0 374.96,702.3 375.10,697.5 375.24,695.4 375.38,702.9 375.52,704.2 375.66,701.9 375.80,700.2 375.94,700.0 376.08,694.9 376.22,704.9 376.36,696.2 376.50,704.9 376.64,697.6 376.78,707.6 376.92,701.7 377.06,699.0 377.20,699.8 377.34,698.3 377.48,703.8 377.62,699.2 377.76,700.9 377.90,697.5 378.04,701.5 378.18,695.4 378.32,697.9 378.46,704.6 378.60,694.9 378.74,702.6 378.88,706.6 379.02,701.5 379.16,709.1 379.30,703.5 379.44,701.9 379.58,695.7 379.72,698.0 379.86,698.5 380.00,702.9 380.14,701.7 380.28,700.7 380.42,697.2 380.56,702.2 380.70,704.2 380.84,696.7 380.98,704.9 381.12,705.8 381.26,703.5 381.40,702.3 381.54,700.6 381.68,708.2 381.82,700.1 381.96,704.8 382.10,701.3 382.24,694.6 382.38,698.7 382.52,699.7 382.66,702.4 382.80,700.4 382.94,699.3 383.08,702.8 383.22,706.0 383.36,696.3 383.50,700.3 383.64,707.8 383.78,704.6 383.92,700.3 384.06,709.6 384.20,711.1 384.34,703.6 384.48,704.5 384.62,703.3 384.76,704.1 384.90,706.3 385.04,703.0 385.18,702.8 385.32,700.6 385.46,695.6 385.60,702.1 385.74,706.0 385.88,700.4 386.02,700.2 386.16,702.7 386.30,694.7 386.44,696.0 386.58,701.5 386.72,700.7 386.86,709.3 387.00,696.6 387.14,701.2 387.28,696.5 387.42,706.9 387.56,699.3 387.70,703.3 387.84,693.2 387.98,697.3 388.12,702.3 388.26,698.3 388.40,697.6 388.54,701.9 388.68,699.3 388.82,698.9 388.96,699.6 389.10,696.8 389.24,703.8 389.38,702.4 389.52,698.9 389.66,697.9 389.80,694.1 389.94,695.9 390.08,704.1 390.22,693.6 390.36,699.1 390.50,703.6 390.64,702.3 390.78,700.2 390.92,700.5 391.06,697.3 391.20,699.0 391.34,697.7 391.48,702.2 391.62,700.6 391.76,696.1 391.90,703.5 392.04,701.7 392.18,702.8 392.32,703.7 392.46,701.9 392.60,700.3 392.74,702.8 392.88,702.5 393.02,696.6 393.16,696.4 393.30,695.8 393.44,694.9 393.58,690.4 393.72,684.2 393.86,691.0 394.00,682.1 394.14,677.1 394.28,672.2 394.42,673.3 394.56,670.8 394.70,658.9 394.84,659.3 394.98,657.7 395.12,659.6 395.26,662.4 395.40,657.4 395.54,669.6 395.68,666.7 395.82,668.4 395.96,667.1 396.10,661.1 396.24,670.2 396.38,663.5 396.52,667.5 396.66,674.2 396.80,675.2 396.94,678.1 397.08,678.4 397.22,689.0 397.36,685.9 397.50,685.4 397.64,683.4 397.78,684.9 397.92,691.8 398.06,698.9 398.20,689.3 398.34,693.0 398.48,689.7 398.62,686.0 398.76,697.5 398.90,696.2 399.04,697.5 399.18,693.8 399.32,694.5 399.46,701.7 399.60,690.9 399.74,699.2 399.88,700.6 400.02,697.2 400.16,696.5 400.30,700.0 400.44,693.9 400.58,698.8 400.72,698.4 400.86,695.9 401.00,700.2 401.14,703.0 401.28,710.4 401.42,698.0 401.56,703.2 401.70,704.9 401.84,701.9 401.98,701.7 402.12,704.5 402.26,704.9 402.40,699.1 402.54,706.6 402.68,702.0 402.82,701.3 402.96,698.8 403.10,703.6 403.24,695.1 403.38,698.5 403.52,700.5 403.66,697.3 403.80,699.9 403.94,702.7 404.08,705.2 404.22,701.4 404.36,701.0 404.50,703.7 404.64,702.5 404.78,698.5 404.92,704.0 405.06,701.6 405.20,698.8 405.34,703.9 405.48,702.4 405.62,698.0 405.76,702.8 405.90,697.9 406.04,698.6 406.18,696.8 406.32,700.1 406.46,697.4 406.60,700.6 406.74,694.9 406.88,698.2 407.02,694.6 407.16,697.3 407.30,697.5 407.44,699.1 407.58,696.0 407.72,702.9 407.86,693.9 408.00,701.7 408.14,697.6 408.28,701.2 408.42,694.8 408.56,698.8 408.70,699.9 408.84,705.3 408.98,700.4 409.12,705.1 409.26,701.2 409.40,703.6 409.54,698.3 409.68,699.5 409.82,701.4 409.96,693.5 410.10,692.4 410.24,698.1 410.38,703.2 410.52,700.9 410.66,696.9 410.80,699.7 410.94,698.0 411.08,700.2 411.22,704.8 411.36,697.0 411.50,697.1 411.64,695.2 411.78,698.2 411.92,705.2 412.06,702.5 412.20,698.6 412.34,699.4 412.48,697.2 412.62,701.1 412.76,699.3 412.90,699.0 413.04,701.2 413.18,698.1 413.32,698.8 413.46,693.0 413.60,691.6 413.74,695.2 413.88,703.2 414.02,693.2 414.16,696.0 414.30,696.2 414.44,691.1 414.58,688.8 414.72,699.3 414.86,690.4 415.00,689.4 415.14,690.3 415.28,689.7 415.42,683.3 415.56,682.7 415.70,686.9 415.84,684.8 415.98,686.3 416.12,681.8 416.26,695.4 416.40,688.0 416.54,691.9 416.68,683.0 416.82,684.5 416.96,681.9 417.10,682.3 417.24,681.8 417.38,679.1 417.52,672.3 417.66,674.9 417.80,677.0 417.94,680.4 418.08,669.8 418.22,672.6 418.36,679.3 418.50,679.5 418.64,670.2 418.78,670.0 418.92,667.8 419.06,663.9 419.20,662.2 419.34,656.6 419.48,653.2 419.62,648.0 419.76,651.4 419.90,638.7 420.04,640.8 420.18,626.8 420.32,621.2 420.46,611.0 420.60,606.2 420.74,604.4 420.88,597.7 421.02,580.6 421.16,592.4 421.30,580.9 421.44,580.7 421.58,583.7 421.72,578.7 421.86,583.4 422.00,591.6 422.14,594.6 422.28,618.4 422.42,611.9 422.56,608.0 422.70,629.5 422.84,632.3 422.98,634.0 423.12,631.5 423.26,655.0 423.40,643.2 423.54,646.3 423.68,647.6 423.82,655.0 423.96,654.4 424.10,658.5 424.24,661.1 424.38,659.2 424.52,670.0 424.66,659.3 424.80,669.1 424.94,667.4 425.08,666.9 425.22,669.4 425.36,667.4 425.50,666.2 425.64,665.4 425.78,665.5 425.92,664.0 426.06,664.7 426.20,668.8 426.34,675.1 426.48,673.9 426.62,676.5 426.76,674.1 426.90,672.5 427.04,678.6 427.18,687.3 427.32,674.6 427.46,688.4 427.60,675.1 427.74,674.3 427.88,674.5 428.02,674.5 428.16,681.8 428.30,679.1 428.44,679.3 428.58,678.0 428.72,682.8 428.86,686.4 429.00,682.5 429.14,681.1 429.28,679.3 429.42,681.9 429.56,679.1 429.70,689.4 429.84,682.5 429.98,690.3 430.12,682.4 430.26,690.4 430.40,689.6 430.54,689.7 430.68,687.7 430.82,684.2 430.96,696.5 431.10,680.9 431.24,692.7 431.38,684.7 431.52,680.6 431.66,688.7 431.80,690.3 431.94,690.4 432.08,681.3 432.22,683.1 432.36,687.9 432.50,688.1 432.64,690.3 432.78,687.2 432.92,682.0 433.06,684.4 433.20,688.6 433.34,684.4 433.48,684.0 433.62,691.9 433.76,693.8 433.90,686.5 434.04,687.4 434.18,687.2 434.32,691.2 434.46,685.2 434.60,685.1 434.74,684.7 434.88,680.5 435.02,689.1 435.16,690.2 435.30,685.6 435.44,685.1 435.58,684.0 435.72,684.4 435.86,681.2 436.00,687.1 436.14,687.9 436.28,689.2 436.42,682.0 436.56,685.1 436.70,681.5 436.84,693.2 436.98,681.0 437.12,687.4 437.26,693.6 437.40,683.2 437.54,690.0 437.68,684.0 437.82,694.1 437.96,689.3 438.10,688.4 438.24,688.4 438.38,692.7 438.52,690.4 438.66,691.5 438.80,691.3 438.94,687.3 439.08,689.5 439.22,693.5 439.36,691.0 439.50,690.9 439.64,690.1 439.78,688.1 439.92,689.5 440.06,689.6 440.20,697.2 440.34,689.2 440.48,686.5 440.62,691.5 440.76,689.3 440.90,689.2 441.04,694.9 441.18,692.1 441.32,690.3 441.46,695.3 441.60,698.5 441.74,697.6 441.88,694.5 442.02,694.3 442.16,693.0 442.30,695.1 442.44,692.2 442.58,693.5 442.72,691.8 442.86,694.4 443.00,682.1 443.14,692.3 443.28,690.2 443.42,690.1 443.56,693.3 443.70,686.9 443.84,688.5 443.98,691.1 444.12,690.0 444.26,692.8 444.40,690.7 444.54,685.3 444.68,693.1 444.82,690.4 444.96,691.7 445.10,694.5 445.24,694.0 445.38,692.6 445.52,687.8 445.66,689.9 445.80,694.2 445.94,692.9 446.08,683.3 446.22,686.2 446.36,689.1 446.50,690.0 446.64,686.0 446.78,692.9 446.92,696.1 447.06,681.5 447.20,695.7 447.34,695.6 447.48,681.6 447.62,684.5 447.76,690.3 447.90,689.3 448.04,688.3 448.18,691.3 448.32,693.9 448.46,688.7 448.60,684.8 448.74,691.5 448.88,694.3 449.02,696.5 449.16,695.9 449.30,682.4 449.44,687.4 449.58,691.7 449.72,689.4 449.86,694.0 450.00,694.1 450.14,697.7 450.28,698.2 450.42,691.1 450.56,699.5 450.70,689.0 450.84,689.4 450.98,689.8 451.12,690.3 451.26,696.4 451.40,699.8 451.54,688.5 451.68,697.8 451.82,700.8 451.96,697.1 452.10,689.8 452.24,697.7 452.38,698.3 452.52,688.9 452.66,693.5 452.80,704.3 452.94,696.8 453.08,697.8 453.22,703.2 453.36,689.1 453.50,691.2 453.64,698.2 453.78,694.5 453.92,698.4 454.06,696.5 454.20,690.4 454.34,697.2 454.48,696.0 454.62,691.3 454.76,691.3 454.90,691.2 455.04,694.7 455.18,696.6 455.32,695.6 455.46,693.2 455.60,688.4 455.74,692.1 455.88,692.0 456.02,691.1 456.16,689.3 456.30,697.0 456.44,697.1 456.58,685.4 456.72,693.8 456.86,690.7 457.00,695.6 457.14,684.9 457.28,688.8 457.42,682.7 457.56,681.7 457.70,680.7 457.84,683.1 457.98,678.0 458.12,669.9 458.26,676.9 458.40,671.5 458.54,670.8 458.68,662.5 458.82,668.4 458.96,675.0 459.10,676.2 459.24,673.2 459.38,669.3 459.52,677.0 459.66,671.3 459.80,677.6 459.94,673.9 460.08,671.5 460.22,680.3 460.36,679.9 460.50,681.3 460.64,678.7 460.78,680.2 460.92,690.0 461.06,688.8 461.20,694.5 461.34,694.7 461.48,685.1 461.62,688.4 461.76,680.4 461.90,689.5 462.04,687.8 462.18,691.5 462.32,689.3 462.46,688.5 462.60,687.3 462.74,687.6 462.88,695.3 463.02,692.3 463.16,697.7 463.30,692.8 463.44,689.3 463.58,688.4 463.72,696.3 463.86,684.5 464.00,691.8 464.14,691.7 464.28,685.9 464.42,696.4 464.56,692.5 464.70,691.5 464.84,689.4 464.98,692.1 465.12,691.5 465.26,695.3 465.40,690.4 465.54,699.9 465.68,691.1 465.82,693.8 465.96,692.0 466.10,698.0 466.24,693.4 466.38,700.3 466.52,698.7 466.66,697.1 466.80,689.0 466.94,693.3 467.08,693.8 467.22,695.1 467.36,689.5 467.50,696.8 467.64,696.4 467.78,694.6 467.92,695.7 468.06,694.5 468.20,700.2 468.34,692.7 468.48,694.0 468.62,704.5 468.76,694.6 468.90,695.8 469.04,692.9 469.18,694.6 469.32,696.5 469.46,691.1 469.60,690.3 469.74,695.9 469.88,707.1 470.02,697.4 470.16,707.4 470.30,703.4 470.44,702.0 470.58,695.3 470.72,699.9 470.86,708.1 471.00,693.0 471.14,697.5 471.28,701.8 471.42,700.1 471.56,696.9 471.70,695.1 471.84,701.4 471.98,692.7 472.12,704.6 472.26,696.9 472.40,693.4 472.54,698.8 472.68,698.7 472.82,697.5 472.96,695.2 473.10,697.2 473.24,703.0 473.38,699.5 473.52,702.4 473.66,699.2 473.80,695.4 473.94,695.9 474.08,697.8 474.22,696.9 474.36,697.9 474.50,698.9 474.64,701.0 474.78,700.7 474.92,695.9 475.06,702.4 475.20,702.2 475.34,698.6 475.48,700.3 475.62,698.8 475.76,699.4 475.90,692.3 476.04,692.1 476.18,700.9 476.32,696.4 476.46,702.2 476.60,703.0 476.74,699.7 476.88,704.7 477.02,695.6 477.16,698.9 477.30,693.7 477.44,699.4 477.58,702.3 477.72,698.9 477.86,699.6 478.00,695.2 478.14,699.6 478.28,699.0 478.42,702.3 478.56,699.6 478.70,703.6 478.84,705.8 478.98,703.7 479.12,705.2 479.26,708.2 479.40,707.2 479.54,700.2 479.68,700.9 479.82,707.6 479.96,702.9 480.10,698.6 480.24,698.2 480.38,704.7 480.52,699.6 480.66,706.3 480.80,705.6 480.94,699.3 481.08,699.8 481.22,698.0 481.36,703.2 481.50,696.1 481.64,702.3 481.78,699.6 481.92,704.7 482.06,698.5 482.20,697.5 482.34,703.4 482.48,698.7 482.62,703.9 482.76,700.7 482.90,699.5 483.04,699.3 483.18,699.8 483.32,696.8 483.46,702.9 483.60,699.3 483.74,696.0 483.88,703.5 484.02,701.0 484.16,705.4 484.30,695.1 484.44,704.7 484.58,701.8 484.72,705.8 484.86,701.4 485.00,699.3 485.14,698.6 485.28,701.6 485.42,696.8 485.56,701.5 485.70,699.3 485.84,709.0 485.98,703.1 486.12,700.7 486.26,691.7 486.40,700.8 486.54,699.6 486.68,699.2 486.82,699.2 486.96,697.7 487.10,696.3 487.24,700.6 487.38,700.8 487.52,702.0 487.66,702.2 487.80,703.4 487.94,700.3 488.08,704.8 488.22,700.4 488.36,702.6 488.50,700.8 488.64,702.5 488.78,706.7 488.92,703.9 489.06,703.1 489.20,703.7 489.34,700.8 489.48,699.0 489.62,695.2 489.76,701.9 489.90,703.9 490.04,703.2 490.18,694.3 490.32,696.7 490.46,698.6 490.60,698.0 490.74,702.4 490.88,703.5 491.02,696.5 491.16,703.4 491.30,702.6 491.44,701.6 491.58,705.7 491.72,703.7 491.86,700.3 492.00,707.9 492.14,707.6 492.28,707.4 492.42,705.7 492.56,699.0 492.70,704.8 492.84,708.8 492.98,703.2 493.12,701.7 493.26,703.6 493.40,701.7 493.54,702.1 493.68,701.4 493.82,696.4 493.96,700.2 494.10,701.0 494.24,702.3 494.38,709.9 494.52,702.2 494.66,699.0 494.80,702.1 494.94,697.8 495.08,708.4 495.22,701.0 495.36,702.8 495.50,703.7 495.64,705.2 495.78,700.1 495.92,703.5 496.06,702.6 496.20,703.4 496.34,706.2 496.48,701.6 496.62,707.8 496.76,703.2 496.90,706.4 497.04,702.3 497.18,703.9 497.32,701.7 497.46,705.8 497.60,704.1 497.74,701.2 497.88,700.1 498.02,709.4 498.16,704.5 498.30,705.0 498.44,706.8 498.58,704.1 498.72,706.4 498.86,702.9 499.00,705.5 499.14,708.9 499.28,699.8 499.42,703.6 499.56,701.2 499.70,708.0 499.84,702.9 499.98,705.8 500.12,704.9 500.26,701.0 500.40,703.5 500.54,703.1 500.68,707.5 500.82,704.8 500.96,709.6 501.10,706.5 501.24,706.4 501.38,707.2 501.52,706.3 501.66,705.0 501.80,701.9 501.94,704.2 502.08,704.4 502.22,705.7 502.36,703.2 502.50,702.5 502.64,708.6 502.78,705.3 502.92,704.5 503.06,700.5 503.20,700.3 503.34,699.8 503.48,698.5 503.62,702.3 503.76,702.8 503.90,699.7 504.04,702.3 504.18,707.5 504.32,700.7 504.46,706.4 504.60,709.9 504.74,708.2 504.88,708.0 505.02,711.2 505.16,709.5 505.30,706.8 505.44,703.8 505.58,700.8 505.72,702.6 505.86,713.6 506.00,703.5 506.14,703.5 506.28,708.5 506.42,703.6 506.56,705.8 506.70,698.6 506.84,701.3 506.98,700.2 507.12,698.5 507.26,697.0 507.40,698.7 507.54,704.9 507.68,702.8 507.82,703.4 507.96,698.1 508.10,706.1 508.24,699.3 508.38,700.9 508.52,702.5 508.66,698.6 508.80,701.7 508.94,706.1 509.08,703.7 509.22,702.3 509.36,706.0 509.50,700.3 509.64,700.2 509.78,701.5 509.92,701.1 510.06,691.6 510.20,697.4 510.34,694.5 510.48,690.9 510.62,687.4 510.76,689.3 510.90,686.4 511.04,694.8 511.18,696.8 511.32,694.4 511.46,695.6 511.60,695.6 511.74,702.9 511.88,698.3 512.02,704.3 512.16,705.1 512.30,706.0 512.44,696.2 512.58,697.9 512.72,702.2 512.86,702.0 513.00,699.9 513.14,699.8 513.28,698.5 513.42,702.7 513.56,701.3 513.70,705.9 513.84,702.7 513.98,704.2 514.12,704.9 514.26,706.4 514.40,703.7 514.54,705.0 514.68,710.6 514.82,699.2 514.96,707.0 515.10,710.5 515.24,706.3 515.38,701.9 515.52,707.4 515.66,704.8 515.80,705.5 515.94,704.2 516.08,702.8 516.22,705.7 516.36,700.8 516.50,706.8 516.64,705.1 516.78,701.9 516.92,703.9 517.06,707.1 517.20,703.7 517.34,706.8 517.48,712.1 517.62,704.2 517.76,705.6 517.90,702.7 518.04,704.7 518.18,701.5 518.32,707.9 518.46,700.9 518.60,704.7 518.74,701.0 518.88,704.3 519.02,701.1 519.16,700.6 519.30,708.3 519.44,708.3 519.58,705.1 519.72,703.4 519.86,704.4 520.00,701.3 520.14,704.3 520.28,707.8 520.42,698.7 520.56,709.6 520.70,702.6 520.84,706.9 520.98,704.9 521.12,700.5 521.26,699.9 521.40,707.6 521.54,707.0 521.68,700.1 521.82,708.8 521.96,700.9 522.10,711.2 522.24,699.3 522.38,703.4 522.52,700.7 522.66,699.7 522.80,704.2 522.94,700.4 523.08,700.5 523.22,703.9 523.36,698.6 523.50,700.9 523.64,703.8 523.78,705.2 523.92,705.3 524.06,706.6 524.20,702.0 524.34,706.7 524.48,703.8 524.62,701.6 524.76,704.5 524.90,705.3 525.04,701.1 525.18,699.8 525.32,702.5 525.46,700.5 525.60,697.4 525.74,700.4 525.88,699.1 526.02,699.5 526.16,699.9 526.30,702.9 526.44,697.3 526.58,699.5 526.72,701.7 526.86,690.8 527.00,702.6 527.14,699.0 527.28,705.5 527.42,698.8 527.56,690.9 527.70,691.6 527.84,689.6 527.98,689.4 528.12,680.1 528.26,684.3 528.40,680.0 528.54,680.1 528.68,681.9 528.82,681.0 528.96,688.0 529.10,682.0 529.24,685.8 529.38,679.2 529.52,680.2 529.66,690.7 529.80,683.4 529.94,682.4 530.08,683.0 530.22,685.8 530.36,684.8 530.50,685.6 530.64,695.0 530.78,691.3 530.92,693.8 531.06,699.7 531.20,691.8 531.34,692.6 531.48,688.6 531.62,698.6 531.76,696.8 531.90,689.9 532.04,700.4 532.18,700.5 532.32,689.0 532.46,693.3 532.60,699.6 532.74,695.8 532.88,698.7 533.02,702.9 533.16,700.9 533.30,698.0 533.44,702.3 533.58,705.4 533.72,700.8 533.86,711.7 534.00,705.0 534.14,704.6 534.28,698.6 534.42,700.4 534.56,699.7 534.70,706.0 534.84,699.5 534.98,706.5 535.12,705.2 535.26,699.8 535.40,701.2 535.54,710.4 535.68,699.4 535.82,695.1 535.96,700.9 536.10,703.7 536.24,705.9 536.38,705.4 536.52,712.6 536.66,707.8 536.80,705.0 536.94,712.6 537.08,709.7 537.22,706.1 537.36,708.1 537.50,707.5 537.64,704.8 537.78,704.2 537.92,700.4 538.06,704.0 538.20,701.5 538.34,705.9 538.48,704.3 538.62,699.8 538.76,703.1 538.90,702.8 539.04,698.3 539.18,697.9 539.32,701.9 539.46,706.2 539.60,702.2 539.74,703.6 539.88,705.9 540.02,704.5 540.16,701.5 540.30,703.8 540.44,701.9 540.58,701.1 540.72,702.1 540.86,702.0 541.00,704.2 541.14,703.5 541.28,704.6 541.42,696.9 541.56,700.7 541.70,701.4 541.84,697.0 541.98,693.3 542.12,701.2 542.26,707.4 542.40,697.2 542.54,700.6 542.68,704.6 542.82,697.8 542.96,696.7 543.10,696.5 543.24,699.4 543.38,703.2 543.52,702.1 543.66,698.3 543.80,701.9 543.94,695.4 544.08,697.8 544.22,698.7 544.36,697.1 544.50,701.6 544.64,695.3 544.78,689.6 544.92,699.9 545.06,702.8 545.20,697.8 545.34,693.8 545.48,693.2 545.62,694.8 545.76,688.0 545.90,693.2 546.04,690.5 546.18,685.4 546.32,690.3 546.46,690.2 546.60,695.5 546.74,688.1 546.88,693.1 547.02,685.6 547.16,684.9 547.30,687.0 547.44,681.8 547.58,684.2 547.72,677.5 547.86,678.2 548.00,679.0 548.14,681.7 548.28,679.2 548.42,677.5 548.56,683.7 548.70,677.7 548.84,680.5 548.98,678.5 549.12,679.7 549.26,675.2 549.40,673.3 549.54,674.9 549.68,673.3 549.82,675.5 549.96,675.5 550.10,675.9 550.24,672.6 550.38,682.0 550.52,684.1 550.66,681.8 550.80,684.2 550.94,685.6 551.08,692.9 551.22,683.5 551.36,689.2 551.50,692.6 551.64,686.1 551.78,690.5 551.92,699.2 552.06,690.9 552.20,694.9 552.34,692.4 552.48,696.3 552.62,695.1 552.76,698.0 552.90,692.7 553.04,703.4 553.18,698.4 553.32,698.2 553.46,696.3 553.60,698.4 553.74,696.4 553.88,699.5 554.02,697.2 554.16,696.5 554.30,700.4 554.44,700.6 554.58,701.8 554.72,698.2 554.86,688.9 555.00,694.4 555.14,693.5 555.28,689.8 555.42,692.0 555.56,692.2 555.70,686.3 555.84,684.7 555.98,681.5 556.12,689.0 556.26,671.8 556.40,669.7 556.54,677.0 556.68,662.8 556.82,667.8 556.96,664.0 557.10,667.5 557.24,655.2 557.38,654.1 557.52,656.2 557.66,654.8 557.80,652.4 557.94,653.5 558.08,659.5 558.22,665.2 558.36,654.6 558.50,672.1 558.64,668.4 558.78,666.4 558.92,667.6 559.06,670.5 559.20,666.8 559.34,676.1 559.48,677.1 559.62,679.2 559.76,684.4 559.90,680.1 560.04,690.1 560.18,687.4 560.32,689.9 560.46,691.4 560.60,692.3 560.74,695.0 560.88,695.8 561.02,694.3 561.16,691.2 561.30,692.0 561.44,689.9 561.58,695.7 561.72,693.4 561.86,695.1 562.00,697.7 562.14,693.9 562.28,699.6 562.42,692.4 562.56,701.1 562.70,699.3 562.84,696.0 562.98,700.0 563.12,700.4 563.26,696.2 563.40,698.3 563.54,699.9 563.68,698.0 563.82,697.3 563.96,691.2 564.10,700.1 564.24,701.7 564.38,704.6 564.52,703.0 564.66,697.7 564.80,698.4 564.94,697.6 565.08,704.2 565.22,701.3 565.36,703.3 565.50,700.7 565.64,696.7 565.78,702.0 565.92,696.3 566.06,695.6 566.20,698.6 566.34,701.7 566.48,705.2 566.62,702.2 566.76,701.2 566.90,703.6 567.04,705.3 567.18,704.4 567.32,698.7 567.46,699.2 567.60,710.9 567.74,697.2 567.88,694.9 568.02,701.1 568.16,700.8 568.30,700.4 568.44,708.8 568.58,708.2 568.72,702.6 568.86,712.1 569.00,703.3 569.14,704.8 569.28,701.3 569.42,700.2 569.56,703.6 569.70,710.7 569.84,703.2 569.98,700.7 570.12,700.0 570.26,705.7 570.40,697.9 570.54,701.7 570.68,699.6 570.82,702.0 570.96,699.5 571.10,700.7 571.24,699.8 571.38,704.5 571.52,710.2 571.66,705.1 571.80,703.1 571.94,702.3 572.08,706.9 572.22,707.2 572.36,712.0 572.50,706.2 572.64,711.9 572.78,703.9 572.92,710.3 573.06,709.1 573.20,704.9 573.34,701.7 573.48,707.4 573.62,707.1 573.76,709.4 573.90,708.6 574.04,710.9 574.18,702.0 574.32,709.0 574.46,706.1 574.60,706.6 574.74,698.2 574.88,706.7 575.02,706.6 575.16,707.7 575.30,715.4 575.44,706.5 575.58,707.6 575.72,709.9 575.86,709.2 576.00,703.8 576.14,703.9 576.28,706.9 576.42,702.8 576.56,708.4 576.70,706.2 576.84,703.6 576.98,708.6 577.12,708.6 577.26,709.5 577.40,709.1 577.54,709.5 577.68,708.1 577.82,704.1 577.96,706.6 578.10,706.4 578.24,706.4 578.38,709.9 578.52,714.8 578.66,711.3 578.80,710.9 578.94,711.0 579.08,706.3 579.22,716.5 579.36,712.4 579.50,714.9 579.64,714.1 579.78,713.2 579.92,717.7 580.06,710.3 580.20,714.4 580.34,711.2 580.48,711.1"/>
</g>
<g clip-path="url(#c3)">
<text class="pl" transform="translate(289.0,622.8) rotate(-90) scale(1,1.05)" font-size="16.2">12.08</text>
<text class="pl" transform="translate(323.5,640.3) rotate(-90) scale(1,1.05)" font-size="16.2">6.04</text>
<text class="pl" transform="translate(340.0,681.6) rotate(-90) scale(1,1.05)" font-size="16.2">4.87<tspan font-style="italic" font-size="17.3">Mt</tspan></text>
<text class="pl" transform="translate(362.0,668.4) rotate(-90) scale(1,1.05)" font-size="16.2">4.025</text>
<text class="pl" transform="translate(400.0,659.0) rotate(-90) scale(1,1.05)" font-size="16.2">2.96<tspan font-style="italic" font-size="17.3">Mt</tspan></text>
<text class="pl" transform="translate(424.2,576.7) rotate(-90) scale(1,1.05)" font-size="16.2">2.524<tspan font-style="italic" font-size="17.3">Mt</tspan></text>
<text class="pl" transform="translate(461.6,663.1) rotate(-90) scale(1,1.05)" font-size="16.2">2.096<tspan font-style="italic" font-size="17.3">Mt</tspan></text>
<text class="pl" transform="translate(514.0,684.3) rotate(-90) scale(1,1.05)" font-size="16.2">1.709<tspan font-style="italic" font-size="17.3">Mt</tspan></text>
<text class="pl" transform="translate(531.7,667.9) rotate(-90) scale(1,1.05)" font-size="16.2">1.61<tspan font-style="italic" font-size="17.3">Mt</tspan></text>
<text class="pl" transform="translate(552.6,663.4) rotate(-90) scale(1,1.05)" font-size="16.2">1.511</text>
<text class="pl" transform="translate(566.4,647.4) rotate(-90) scale(1,1.05)" font-size="16.2">1.48<tspan font-style="italic" font-size="17.3">Mt</tspan></text>
</g>
<text class="yt" transform="translate(209.4,692.7) rotate(-90) scale(0.94,1)" font-size="21.3" word-spacing="-3.09"><tspan font-style="italic">I</tspan>, отн. ед.</text>
<line x1="728.1" y1="529.2" x2="728.1" y2="782.6" stroke="#000" stroke-width="1.5"/>
<line x1="727.4" y1="781.9" x2="1051.2" y2="781.9" stroke="#000" stroke-width="1.5"/>
<line x1="728.1" y1="529.9" x2="733.6" y2="529.9" stroke="#000" stroke-width="1.3"/>
<line x1="728.1" y1="553.5" x2="731.1" y2="553.5" stroke="#000" stroke-width="1.3"/>
<line x1="728.1" y1="577.1" x2="733.6" y2="577.1" stroke="#000" stroke-width="1.3"/>
<line x1="728.1" y1="600.7" x2="731.1" y2="600.7" stroke="#000" stroke-width="1.3"/>
<line x1="728.1" y1="624.2" x2="733.6" y2="624.2" stroke="#000" stroke-width="1.3"/>
<line x1="728.1" y1="647.0" x2="731.1" y2="647.0" stroke="#000" stroke-width="1.3"/>
<line x1="728.1" y1="781.9" x2="733.6" y2="781.9" stroke="#000" stroke-width="1.3"/>
<line x1="728.1" y1="773.1" x2="731.1" y2="773.1" stroke="#000" stroke-width="1.3"/>
<line x1="728.1" y1="764.3" x2="733.6" y2="764.3" stroke="#000" stroke-width="1.3"/>
<line x1="728.1" y1="755.4" x2="731.1" y2="755.4" stroke="#000" stroke-width="1.3"/>
<line x1="728.1" y1="746.6" x2="733.6" y2="746.6" stroke="#000" stroke-width="1.3"/>
<line x1="728.1" y1="737.8" x2="731.1" y2="737.8" stroke="#000" stroke-width="1.3"/>
<line x1="728.1" y1="729.0" x2="733.6" y2="729.0" stroke="#000" stroke-width="1.3"/>
<line x1="728.1" y1="720.2" x2="731.1" y2="720.2" stroke="#000" stroke-width="1.3"/>
<line x1="728.1" y1="711.3" x2="733.6" y2="711.3" stroke="#000" stroke-width="1.3"/>
<line x1="728.1" y1="702.5" x2="731.1" y2="702.5" stroke="#000" stroke-width="1.3"/>
<line x1="728.1" y1="693.7" x2="733.6" y2="693.7" stroke="#000" stroke-width="1.3"/>
<line x1="728.1" y1="684.9" x2="731.1" y2="684.9" stroke="#000" stroke-width="1.3"/>
<line x1="728.1" y1="676.1" x2="733.6" y2="676.1" stroke="#000" stroke-width="1.3"/>
<line x1="728.1" y1="667.2" x2="731.1" y2="667.2" stroke="#000" stroke-width="1.3"/>
<line x1="761.0" y1="781.9" x2="761.0" y2="778.9" stroke="#000" stroke-width="1.3"/>
<line x1="802.4" y1="781.9" x2="802.4" y2="776.4" stroke="#000" stroke-width="1.3"/>
<line x1="843.8" y1="781.9" x2="843.8" y2="778.9" stroke="#000" stroke-width="1.3"/>
<line x1="885.1" y1="781.9" x2="885.1" y2="776.4" stroke="#000" stroke-width="1.3"/>
<line x1="926.5" y1="781.9" x2="926.5" y2="778.9" stroke="#000" stroke-width="1.3"/>
<line x1="967.8" y1="781.9" x2="967.8" y2="776.4" stroke="#000" stroke-width="1.3"/>
<line x1="1009.1" y1="781.9" x2="1009.1" y2="778.9" stroke="#000" stroke-width="1.3"/>
<line x1="1050.5" y1="781.9" x2="1050.5" y2="776.4" stroke="#000" stroke-width="1.3"/>
<polyline fill="none" stroke="#000" stroke-width="0.85" stroke-linejoin="round" points="728.10,748.6 728.30,748.4 728.50,749.5 728.70,751.0 728.90,751.6 729.10,752.3 729.30,752.4 729.50,752.8 729.70,754.8 729.90,754.9 730.10,756.8 730.30,757.1 730.50,757.1 730.70,758.7 730.90,759.7 731.10,760.0 731.30,759.9 731.50,761.4 731.70,762.1 731.90,763.0 732.10,763.5 732.30,762.4 732.50,763.6 732.70,764.9 732.90,763.6 733.10,766.0 733.30,765.1 733.50,765.9 733.70,767.7 733.90,766.9 734.10,767.1 734.30,767.9 734.50,767.9 734.70,767.8 734.90,768.8 735.10,770.6 735.30,769.9 735.50,769.7 735.70,769.8 735.90,770.5 736.10,770.6 736.30,769.6 736.50,770.9 736.70,770.8 736.90,772.3 737.10,770.9 737.30,772.3 737.50,770.5 737.70,771.9 737.90,771.2 738.10,771.2 738.30,772.7 738.50,771.4 738.70,772.3 738.90,771.9 739.10,772.9 739.30,773.0 739.50,771.1 739.70,773.5 739.90,772.6 740.10,774.8 740.30,774.0 740.50,774.2 740.70,771.6 740.90,775.0 741.10,773.7 741.30,772.7 741.50,774.1 741.70,775.0 741.90,772.8 742.10,774.9 742.30,773.9 742.50,773.8 742.70,774.0 742.90,773.7 743.10,774.6 743.30,774.7 743.50,775.4 743.70,775.7 743.90,774.4 744.10,775.9 744.30,773.9 744.50,775.4 744.70,774.1 744.90,774.5 745.10,775.5 745.30,774.5 745.50,775.5 745.70,774.0 745.90,774.6 746.10,775.7 746.30,776.4 746.50,774.4 746.70,776.6 746.90,775.6 747.10,777.2 747.30,775.2 747.50,775.1 747.70,775.8 747.90,774.7 748.10,775.7 748.30,775.6 748.50,776.7 748.70,776.0 748.90,774.7 749.10,774.7 749.30,775.0 749.50,774.2 749.70,774.2 749.90,777.5 750.10,775.2 750.30,776.9 750.50,775.3 750.70,775.6 750.90,774.6 751.10,777.0 751.30,775.7 751.50,777.3 751.70,775.5 751.90,777.1 752.10,777.3 752.30,774.9 752.50,776.5 752.70,775.3 752.90,775.3 753.10,776.3 753.30,776.8 753.50,777.3 753.70,776.0 753.90,777.0 754.10,776.7 754.30,776.3 754.50,775.5 754.70,776.3 754.90,778.7 755.10,775.6 755.30,776.2 755.50,775.6 755.70,777.4 755.90,777.8 756.10,777.4 756.30,778.6 756.50,776.3 756.70,777.7 756.90,775.8 757.10,777.7 757.30,777.6 757.50,775.9 757.70,777.2 757.90,775.6 758.10,775.4 758.30,775.4 758.50,775.6 758.70,775.6 758.90,776.4 759.10,777.9 759.30,776.3 759.50,775.8 759.70,777.0 759.90,776.3 760.10,776.6 760.30,776.8 760.50,776.9 760.70,776.0 760.90,776.3 761.10,777.3 761.30,776.2 761.50,776.3 761.70,776.7 761.90,776.8 762.10,776.2 762.30,776.9 762.50,776.5 762.70,775.4 762.90,777.0 763.10,775.8 763.30,778.9 763.50,776.7 763.70,776.2 763.90,777.1 764.10,777.6 764.30,777.6 764.50,776.6 764.70,777.2 764.90,776.9 765.10,776.4 765.30,775.1 765.50,776.3 765.70,774.2 765.90,775.5 766.10,777.7 766.30,776.3 766.50,776.1 766.70,775.4 766.90,775.4 767.10,775.5 767.30,774.9 767.50,774.1 767.70,776.7 767.90,777.1 768.10,775.2 768.30,776.3 768.50,774.6 768.70,775.8 768.90,774.3 769.10,776.0 769.30,775.2 769.50,774.0 769.70,775.5 769.90,776.0 770.10,774.5 770.30,774.3 770.50,774.1 770.70,773.9 770.90,774.5 771.10,774.2 771.30,771.0 771.50,773.1 771.70,771.2 771.90,771.7 772.10,769.4 772.30,767.8 772.50,763.7 772.70,758.8 772.90,754.2 773.10,746.6 773.30,735.7 773.50,721.9 773.70,704.4 773.90,685.1 774.10,661.3 774.30,638.3 774.50,614.1 774.70,594.7 774.90,578.8 775.10,570.5 775.30,571.3 775.50,579.1 775.70,592.5 775.90,616.5 776.10,638.6 776.30,662.7 776.50,683.7 776.70,705.0 776.90,722.6 777.10,733.9 777.30,747.0 777.50,753.3 777.70,759.4 777.90,764.2 778.10,768.8 778.30,767.7 778.50,770.1 778.70,771.6 778.90,772.8 779.10,772.8 779.30,773.7 779.50,772.9 779.70,774.6 779.90,775.2 780.10,773.7 780.30,774.1 780.50,775.3 780.70,775.4 780.90,775.7 781.10,774.5 781.30,775.3 781.50,775.3 781.70,776.9 781.90,775.8 782.10,775.6 782.30,775.4 782.50,776.2 782.70,777.2 782.90,775.1 783.10,776.5 783.30,776.8 783.50,778.1 783.70,777.1 783.90,777.7 784.10,776.7 784.30,775.6 784.50,775.6 784.70,776.2 784.90,776.9 785.10,776.6 785.30,776.5 785.50,778.3 785.70,775.0 785.90,776.1 786.10,778.9 786.30,777.2 786.50,776.5 786.70,776.1 786.90,777.7 787.10,777.6 787.30,777.8 787.50,776.1 787.70,777.2 787.90,777.0 788.10,777.5 788.30,775.9 788.50,777.7 788.70,778.5 788.90,776.1 789.10,778.0 789.30,778.6 789.50,778.0 789.70,777.2 789.90,777.4 790.10,776.9 790.30,777.5 790.50,776.5 790.70,777.4 790.90,776.7 791.10,776.2 791.30,778.6 791.50,775.9 791.70,778.8 791.90,775.6 792.10,778.2 792.30,777.6 792.50,776.1 792.70,777.0 792.90,776.6 793.10,776.7 793.30,778.2 793.50,776.5 793.70,775.9 793.90,778.4 794.10,777.8 794.30,777.5 794.50,777.3 794.70,778.1 794.90,777.8 795.10,777.4 795.30,777.0 795.50,778.4 795.70,778.7 795.90,777.9 796.10,779.9 796.30,777.7 796.50,777.7 796.70,778.8 796.90,777.8 797.10,777.8 797.30,777.3 797.50,777.9 797.70,776.2 797.90,777.0 798.10,776.7 798.30,775.8 798.50,778.5 798.70,777.3 798.90,776.9 799.10,777.9 799.30,776.6 799.50,778.3 799.70,778.7 799.90,776.4 800.10,778.6 800.30,777.8 800.50,778.5 800.70,777.8 800.90,776.9 801.10,776.3 801.30,776.7 801.50,777.2 801.70,778.5 801.90,778.1 802.10,777.9 802.30,778.8 802.50,776.1 802.70,776.7 802.90,776.7 803.10,777.7 803.30,776.3 803.50,777.2 803.70,778.7 803.90,778.4 804.10,778.9 804.30,777.2 804.50,776.8 804.70,777.9 804.90,776.9 805.10,777.6 805.30,777.5 805.50,778.1 805.70,778.8 805.90,778.8 806.10,778.4 806.30,777.5 806.50,778.2 806.70,777.4 806.90,776.9 807.10,776.4 807.30,777.2 807.50,778.1 807.70,778.2 807.90,777.7 808.10,778.1 808.30,777.2 808.50,779.0 808.70,777.8 808.90,777.4 809.10,778.2 809.30,777.6 809.50,778.0 809.70,778.9 809.90,777.0 810.10,777.5 810.30,777.5 810.50,777.7 810.70,779.2 810.90,778.4 811.10,778.8 811.30,775.6 811.50,778.1 811.70,777.9 811.90,778.1 812.10,777.7 812.30,777.2 812.50,778.3 812.70,777.6 812.90,777.7 813.10,777.2 813.30,777.5 813.50,778.1 813.70,778.4 813.90,777.7 814.10,777.8 814.30,777.5 814.50,778.4 814.70,777.4 814.90,777.5 815.10,777.8 815.30,777.4 815.50,777.9 815.70,779.0 815.90,777.7 816.10,778.9 816.30,778.4 816.50,777.8 816.70,778.3 816.90,778.9 817.10,777.0 817.30,778.3 817.50,778.7 817.70,777.1 817.90,778.8 818.10,778.2 818.30,777.0 818.50,778.1 818.70,776.5 818.90,776.7 819.10,776.5 819.30,777.9 819.50,777.4 819.70,777.0 819.90,777.1 820.10,777.6 820.30,777.4 820.50,777.2 820.70,777.7 820.90,776.8 821.10,777.2 821.30,778.5 821.50,777.9 821.70,776.1 821.90,778.8 822.10,776.9 822.30,778.9 822.50,777.6 822.70,778.3 822.90,776.1 823.10,776.9 823.30,777.0 823.50,777.0 823.70,776.8 823.90,777.0 824.10,777.3 824.30,776.9 824.50,777.2 824.70,777.7 824.90,776.0 825.10,777.2 825.30,776.6 825.50,777.2 825.70,777.8 825.90,776.1 826.10,776.9 826.30,777.9 826.50,778.0 826.70,776.7 826.90,777.8 827.10,777.3 827.30,777.0 827.50,776.5 827.70,777.1 827.90,777.3 828.10,776.2 828.30,777.0 828.50,775.6 828.70,775.4 828.90,776.7 829.10,775.9 829.30,775.2 829.50,775.9 829.70,775.9 829.90,775.0 830.10,775.5 830.30,772.9 830.50,771.3 830.70,770.0 830.90,764.2 831.10,759.0 831.30,746.9 831.50,733.6 831.70,716.6 831.90,695.9 832.10,675.8 832.30,654.2 832.50,640.9 832.70,635.9 832.90,640.8 833.10,655.9 833.30,674.1 833.50,695.8 833.70,716.0 833.90,735.1 834.10,748.4 834.30,758.4 834.50,765.1 834.70,768.4 834.90,772.3 835.10,773.7 835.30,775.5 835.50,775.3 835.70,774.7 835.90,775.4 836.10,777.3 836.30,775.1 836.50,775.1 836.70,776.6 836.90,777.6 837.10,776.6 837.30,775.8 837.50,778.5 837.70,776.2 837.90,777.6 838.10,778.1 838.30,777.1 838.50,777.5 838.70,778.3 838.90,776.1 839.10,777.8 839.30,778.1 839.50,778.2 839.70,776.9 839.90,777.6 840.10,776.9 840.30,776.9 840.50,776.3 840.70,777.9 840.90,777.5 841.10,778.3 841.30,775.5 841.50,776.7 841.70,777.7 841.90,778.8 842.10,776.9 842.30,776.1 842.50,777.0 842.70,777.4 842.90,778.1 843.10,778.4 843.30,778.1 843.50,777.5 843.70,779.2 843.90,777.0 844.10,777.5 844.30,778.0 844.50,777.2 844.70,777.4 844.90,778.1 845.10,776.9 845.30,777.4 845.50,777.5 845.70,779.4 845.90,778.2 846.10,777.1 846.30,778.2 846.50,776.8 846.70,777.9 846.90,776.3 847.10,778.2 847.30,777.5 847.50,776.6 847.70,778.0 847.90,778.3 848.10,777.9 848.30,777.8 848.50,776.6 848.70,778.3 848.90,775.9 849.10,777.2 849.30,779.2 849.50,776.6 849.70,776.2 849.90,776.9 850.10,777.9 850.30,777.6 850.50,778.4 850.70,777.7 850.90,776.8 851.10,778.4 851.30,777.2 851.50,778.2 851.70,778.7 851.90,778.0 852.10,778.6 852.30,776.7 852.50,777.3 852.70,777.8 852.90,776.7 853.10,778.7 853.30,778.6 853.50,778.0 853.70,778.1 853.90,777.5 854.10,776.8 854.30,777.2 854.50,777.4 854.70,777.8 854.90,777.5 855.10,777.9 855.30,776.6 855.50,777.0 855.70,777.8 855.90,778.4 856.10,776.4 856.30,777.9 856.50,778.2 856.70,777.6 856.90,777.7 857.10,777.3 857.30,777.6 857.50,777.3 857.70,776.5 857.90,778.7 858.10,777.9 858.30,777.2 858.50,778.7 858.70,777.4 858.90,778.1 859.10,776.3 859.30,777.1 859.50,778.5 859.70,778.8 859.90,779.1 860.10,778.7 860.30,779.0 860.50,777.1 860.70,776.5 860.90,775.7 861.10,777.7 861.30,777.4 861.50,778.8 861.70,777.4 861.90,778.9 862.10,776.4 862.30,779.0 862.50,777.5 862.70,778.7 862.90,778.4 863.10,776.9 863.30,778.3 863.50,777.1 863.70,778.3 863.90,778.1 864.10,777.9 864.30,777.5 864.50,777.4 864.70,777.6 864.90,775.7 865.10,778.3 865.30,777.5 865.50,777.7 865.70,776.8 865.90,777.8 866.10,777.2 866.30,778.8 866.50,776.4 866.70,778.5 866.90,776.9 867.10,777.8 867.30,777.3 867.50,776.8 867.70,775.9 867.90,778.1 868.10,776.1 868.30,777.1 868.50,779.0 868.70,778.6 868.90,777.7 869.10,775.7 869.30,777.4 869.50,777.5 869.70,776.8 869.90,778.5 870.10,777.7 870.30,777.7 870.50,777.4 870.70,776.4 870.90,776.7 871.10,776.7 871.30,778.4 871.50,777.5 871.70,777.8 871.90,777.7 872.10,777.7 872.30,778.7 872.50,778.1 872.70,777.6 872.90,777.5 873.10,778.5 873.30,775.9 873.50,778.4 873.70,776.9 873.90,777.7 874.10,777.1 874.30,777.4 874.50,777.1 874.70,774.8 874.90,776.4 875.10,776.6 875.30,776.2 875.50,775.8 875.70,777.7 875.90,776.4 876.10,777.3 876.30,778.1 876.50,776.3 876.70,777.0 876.90,778.1 877.10,776.9 877.30,776.8 877.50,775.4 877.70,778.1 877.90,776.8 878.10,775.9 878.30,777.7 878.50,776.6 878.70,776.9 878.90,776.4 879.10,777.5 879.30,777.4 879.50,776.3 879.70,776.8 879.90,777.9 880.10,776.8 880.30,776.2 880.50,777.6 880.70,775.9 880.90,776.3 881.10,775.0 881.30,774.9 881.50,774.5 881.70,774.3 881.90,773.0 882.10,769.4 882.30,767.1 882.50,762.5 882.70,759.1 882.90,754.4 883.10,753.0 883.30,752.5 883.50,754.5 883.70,759.5 883.90,761.4 884.10,765.7 884.30,768.2 884.50,767.9 884.70,770.1 884.90,770.2 885.10,766.1 885.30,762.6 885.50,758.5 885.70,745.2 885.90,729.1 886.10,709.7 886.30,686.7 886.50,666.0 886.70,650.2 886.90,643.7 887.10,649.8 887.30,662.9 887.50,680.4 887.70,698.8 887.90,718.0 888.10,733.5 888.30,747.7 888.50,756.1 888.70,762.2 888.90,766.0 889.10,769.1 889.30,770.4 889.50,770.2 889.70,772.9 889.90,772.1 890.10,771.2 890.30,773.1 890.50,771.9 890.70,774.2 890.90,773.9 891.10,773.4 891.30,774.9 891.50,772.4 891.70,773.4 891.90,773.0 892.10,772.5 892.30,772.2 892.50,774.1 892.70,773.1 892.90,772.5 893.10,772.9 893.30,775.7 893.50,773.3 893.70,772.7 893.90,773.1 894.10,774.6 894.30,773.2 894.50,773.1 894.70,773.2 894.90,772.8 895.10,773.0 895.30,774.3 895.50,773.0 895.70,773.1 895.90,770.8 896.10,773.7 896.30,774.5 896.50,772.5 896.70,773.4 896.90,772.1 897.10,773.1 897.30,773.1 897.50,770.9 897.70,773.4 897.90,773.3 898.10,771.7 898.30,770.1 898.50,769.5 898.70,767.3 898.90,765.2 899.10,760.6 899.30,756.3 899.50,753.1 899.70,749.7 899.90,748.1 900.10,748.6 900.30,751.6 900.50,755.7 900.70,759.8 900.90,763.9 901.10,768.1 901.30,769.0 901.50,770.4 901.70,769.8 901.90,772.7 902.10,771.8 902.30,772.7 902.50,772.7 902.70,771.8 902.90,772.7 903.10,770.6 903.30,771.7 903.50,773.5 903.70,771.5 903.90,772.5 904.10,772.1 904.30,771.4 904.50,773.2 904.70,771.8 904.90,772.4 905.10,773.4 905.30,770.4 905.50,771.3 905.70,772.0 905.90,771.0 906.10,771.7 906.30,771.0 906.50,770.2 906.70,769.7 906.90,767.6 907.10,765.3 907.30,762.5 907.50,760.2 907.70,753.4 907.90,747.2 908.10,734.6 908.30,721.1 908.50,705.9 908.70,692.8 908.90,676.7 909.10,665.1 909.30,656.9 909.50,658.9 909.70,661.3 909.90,671.4 910.10,682.7 910.30,696.9 910.50,708.5 910.70,721.6 910.90,733.0 911.10,742.8 911.30,750.7 911.50,757.4 911.70,762.3 911.90,764.6 912.10,767.2 912.30,769.1 912.50,770.5 912.70,770.9 912.90,772.1 913.10,772.3 913.30,773.1 913.50,772.2 913.70,773.2 913.90,772.7 914.10,772.0 914.30,773.0 914.50,773.8 914.70,773.4 914.90,773.2 915.10,774.6 915.30,775.2 915.50,774.8 915.70,774.9 915.90,773.4 916.10,775.0 916.30,775.9 916.50,775.7 916.70,774.8 916.90,775.7 917.10,774.7 917.30,774.6 917.50,775.3 917.70,775.4 917.90,774.6 918.10,774.9 918.30,776.0 918.50,774.8 918.70,775.3 918.90,775.5 919.10,776.1 919.30,775.3 919.50,775.6 919.70,776.4 919.90,775.1 920.10,775.0 920.30,774.4 920.50,776.1 920.70,775.2 920.90,775.1 921.10,774.2 921.30,775.3 921.50,774.9 921.70,775.4 921.90,775.4 922.10,775.7 922.30,777.0 922.50,774.9 922.70,775.7 922.90,775.4 923.10,775.6 923.30,776.0 923.50,776.6 923.70,776.0 923.90,776.2 924.10,776.5 924.30,776.1 924.50,775.6 924.70,776.0 924.90,776.1 925.10,774.8 925.30,776.7 925.50,776.2 925.70,776.6 925.90,776.4 926.10,775.1 926.30,775.6 926.50,776.1 926.70,775.2 926.90,777.1 927.10,775.2 927.30,777.5 927.50,776.4 927.70,776.6 927.90,775.2 928.10,776.0 928.30,775.9 928.50,777.3 928.70,777.8 928.90,777.6 929.10,774.3 929.30,776.2 929.50,775.2 929.70,776.1 929.90,775.8 930.10,774.9 930.30,775.2 930.50,776.6 930.70,775.9 930.90,775.4 931.10,775.8 931.30,774.6 931.50,775.4 931.70,773.8 931.90,773.6 932.10,769.6 932.30,769.6 932.50,766.8 932.70,764.3 932.90,763.5 933.10,764.3 933.30,765.7 933.50,766.6 933.70,768.8 933.90,770.5 934.10,772.1 934.30,775.2 934.50,775.0 934.70,776.2 934.90,774.9 935.10,775.7 935.30,775.3 935.50,776.2 935.70,775.6 935.90,776.7 936.10,775.5 936.30,775.1 936.50,774.3 936.70,774.8 936.90,775.9 937.10,774.8 937.30,775.2 937.50,775.7 937.70,776.1 937.90,774.2 938.10,774.8 938.30,774.0 938.50,775.0 938.70,774.8 938.90,774.9 939.10,773.8 939.30,774.3 939.50,773.3 939.70,775.1 939.90,774.1 940.10,774.0 940.30,774.6 940.50,774.9 940.70,773.9 940.90,774.3 941.10,774.4 941.30,773.9 941.50,773.3 941.70,773.4 941.90,774.5 942.10,774.0 942.30,772.9 942.50,773.3 942.70,774.1 942.90,773.5 943.10,772.7 943.30,772.3 943.50,773.2 943.70,774.2 943.90,772.6 944.10,771.9 944.30,771.6 944.50,772.7 944.70,769.9 944.90,770.2 945.10,769.2 945.30,766.6 945.50,765.2 945.70,758.6 945.90,751.2 946.10,742.1 946.30,729.3 946.50,714.6 946.70,702.8 946.90,691.2 947.10,684.8 947.30,685.9 947.50,688.7 947.70,697.4 947.90,707.5 948.10,718.8 948.30,731.2 948.50,738.9 948.70,748.1 948.90,756.0 949.10,760.6 949.30,764.0 949.50,767.0 949.70,770.2 949.90,769.6 950.10,772.8 950.30,773.5 950.50,772.7 950.70,773.2 950.90,773.7 951.10,773.2 951.30,773.9 951.50,772.1 951.70,772.5 951.90,773.1 952.10,773.0 952.30,773.5 952.50,772.4 952.70,771.7 952.90,769.5 953.10,767.9 953.30,766.9 953.50,765.5 953.70,766.1 953.90,767.7 954.10,769.0 954.30,771.4 954.50,773.0 954.70,773.4 954.90,774.2 955.10,774.8 955.30,776.3 955.50,776.7 955.70,775.1 955.90,776.6 956.10,775.9 956.30,775.2 956.50,775.8 956.70,775.6 956.90,775.6 957.10,775.1 957.30,776.3 957.50,775.1 957.70,775.8 957.90,776.7 958.10,777.7 958.30,776.3 958.50,776.5 958.70,777.0 958.90,776.3 959.10,777.5 959.30,774.8 959.50,776.8 959.70,775.9 959.90,776.6 960.10,777.5 960.30,776.6 960.50,776.2 960.70,776.6 960.90,776.2 961.10,776.6 961.30,776.2 961.50,776.0 961.70,775.5 961.90,777.0 962.10,776.3 962.30,775.6 962.50,775.6 962.70,776.6 962.90,775.9 963.10,776.7 963.30,777.4 963.50,778.9 963.70,776.8 963.90,777.7 964.10,775.4 964.30,776.1 964.50,776.7 964.70,776.9 964.90,775.4 965.10,777.3 965.30,777.0 965.50,776.8 965.70,776.9 965.90,776.2 966.10,777.3 966.30,776.7 966.50,776.3 966.70,777.0 966.90,775.8 967.10,776.3 967.30,776.3 967.50,776.8 967.70,776.3 967.90,776.7 968.10,775.6 968.30,775.7 968.50,776.9 968.70,776.6 968.90,776.0 969.10,776.8 969.30,776.8 969.50,777.3 969.70,776.9 969.90,776.0 970.10,776.6 970.30,777.4 970.50,777.0 970.70,776.1 970.90,777.5 971.10,776.1 971.30,776.4 971.50,775.2 971.70,776.6 971.90,776.8 972.10,776.4 972.30,776.5 972.50,776.0 972.70,777.0 972.90,776.1 973.10,776.9 973.30,776.8 973.50,776.5 973.70,776.7 973.90,776.7 974.10,776.3 974.30,775.3 974.50,777.6 974.70,778.0 974.90,776.5 975.10,775.7 975.30,776.4 975.50,775.1 975.70,776.4 975.90,777.0 976.10,775.8 976.30,775.3 976.50,772.6 976.70,772.4 976.90,769.7 977.10,769.1 977.30,764.3 977.50,760.0 977.70,756.2 977.90,752.6 978.10,749.4 978.30,747.3 978.50,749.0 978.70,751.6 978.90,754.4 979.10,759.0 979.30,761.6 979.50,766.3 979.70,769.7 979.90,771.5 980.10,772.2 980.30,774.4 980.50,775.5 980.70,776.0 980.90,775.1 981.10,776.0 981.30,776.2 981.50,778.6 981.70,776.9 981.90,776.2 982.10,777.3 982.30,776.3 982.50,776.5 982.70,777.8 982.90,777.6 983.10,776.9 983.30,776.1 983.50,774.4 983.70,776.8 983.90,776.0 984.10,777.5 984.30,777.6 984.50,775.8 984.70,775.8 984.90,776.4 985.10,776.8 985.30,777.5 985.50,775.8 985.70,775.1 985.90,776.5 986.10,776.3 986.30,776.6 986.50,777.8 986.70,776.3 986.90,777.5 987.10,776.5 987.30,777.1 987.50,777.4 987.70,776.6 987.90,775.5 988.10,775.9 988.30,776.6 988.50,775.5 988.70,775.6 988.90,776.3 989.10,775.9 989.30,777.2 989.50,777.2 989.70,774.7 989.90,777.1 990.10,776.1 990.30,776.5 990.50,777.7 990.70,776.7 990.90,776.4 991.10,775.7 991.30,776.7 991.50,777.0 991.70,777.5 991.90,776.2 992.10,778.0 992.30,776.4 992.50,777.9 992.70,776.5 992.90,777.6 993.10,777.5 993.30,775.4 993.50,775.5 993.70,775.0 993.90,774.8 994.10,772.3 994.30,770.4 994.50,771.5 994.70,767.1 994.90,764.8 995.10,761.5 995.30,759.8 995.50,759.5 995.70,759.8 995.90,761.2 996.10,763.6 996.30,767.7 996.50,768.6 996.70,771.9 996.90,773.1 997.10,774.1 997.30,775.8 997.50,775.4 997.70,774.4 997.90,776.9 998.10,776.5 998.30,776.7 998.50,777.4 998.70,776.5 998.90,777.6 999.10,776.4 999.30,778.4 999.50,775.7 999.70,776.6 999.90,776.3 1000.10,775.6 1000.30,775.9 1000.50,776.6 1000.70,775.3 1000.90,776.6 1001.10,777.2 1001.30,775.7 1001.50,775.7 1001.70,775.5 1001.90,776.2 1002.10,776.5 1002.30,776.0 1002.50,776.0 1002.70,776.7 1002.90,776.9 1003.10,775.7 1003.30,776.2 1003.50,776.1 1003.70,775.3 1003.90,776.6 1004.10,777.0 1004.30,776.8 1004.50,775.9 1004.70,777.5 1004.90,777.3 1005.10,776.1 1005.30,776.4 1005.50,777.3 1005.70,776.2 1005.90,777.5 1006.10,777.8 1006.30,776.6 1006.50,776.7 1006.70,776.6 1006.90,777.6 1007.10,777.3 1007.30,775.5 1007.50,775.5 1007.70,776.1 1007.90,776.2 1008.10,775.8 1008.30,777.3 1008.50,776.6 1008.70,777.5 1008.90,777.3 1009.10,775.8 1009.30,778.1 1009.50,777.7 1009.70,776.3 1009.90,775.7 1010.10,775.7 1010.30,776.8 1010.50,775.9 1010.70,776.5 1010.90,777.6 1011.10,776.1 1011.30,775.8 1011.50,776.3 1011.70,776.1 1011.90,774.9 1012.10,774.1 1012.30,774.9 1012.50,774.0 1012.70,772.7 1012.90,770.9 1013.10,767.7 1013.30,761.5 1013.50,755.8 1013.70,746.2 1013.90,738.1 1014.10,730.9 1014.30,726.8 1014.50,727.2 1014.70,731.0 1014.90,738.1 1015.10,747.1 1015.30,755.4 1015.50,761.5 1015.70,767.2 1015.90,770.4 1016.10,773.1 1016.30,772.8 1016.50,773.7 1016.70,773.4 1016.90,776.0 1017.10,775.1 1017.30,775.5 1017.50,774.0 1017.70,776.0 1017.90,775.7 1018.10,776.5 1018.30,776.6 1018.50,775.5 1018.70,775.0 1018.90,774.7 1019.10,773.5 1019.30,771.9 1019.50,769.9 1019.70,766.5 1019.90,760.6 1020.10,754.2 1020.30,747.7 1020.50,736.6 1020.70,727.7 1020.90,721.0 1021.10,715.6 1021.30,716.0 1021.50,719.5 1021.70,728.0 1021.90,736.4 1022.10,744.7 1022.30,754.9 1022.50,762.0 1022.70,766.3 1022.90,771.5 1023.10,771.0 1023.30,772.6 1023.50,774.8 1023.70,776.0 1023.90,775.4 1024.10,775.2 1024.30,775.0 1024.50,777.5 1024.70,775.6 1024.90,776.7 1025.10,776.4 1025.30,775.2 1025.50,777.0 1025.70,775.9 1025.90,776.8 1026.10,776.9 1026.30,776.4 1026.50,777.9 1026.70,777.7 1026.90,776.5 1027.10,777.3 1027.30,777.7 1027.50,778.1 1027.70,776.4 1027.90,778.3 1028.10,776.0 1028.30,775.7 1028.50,777.2 1028.70,775.9 1028.90,778.1 1029.10,775.2 1029.30,776.7 1029.50,777.2 1029.70,775.3 1029.90,777.5 1030.10,775.5 1030.30,776.9 1030.50,776.7 1030.70,776.6 1030.90,776.9 1031.10,776.5 1031.30,774.5 1031.50,773.4 1031.70,772.8 1031.90,769.6 1032.10,770.0 1032.30,766.8 1032.50,767.4 1032.70,765.4 1032.90,765.0 1033.10,766.1 1033.30,770.0 1033.50,768.6 1033.70,772.4 1033.90,776.6 1034.10,775.2 1034.30,776.4 1034.50,776.3 1034.70,777.0 1034.90,776.0 1035.10,776.8 1035.30,777.8 1035.50,776.8 1035.70,776.9 1035.90,777.8 1036.10,777.7 1036.30,777.0 1036.50,776.2 1036.70,776.0 1036.90,777.1 1037.10,776.9 1037.30,778.3 1037.50,779.3 1037.70,778.2 1037.90,776.5 1038.10,776.6 1038.30,775.6 1038.50,777.1 1038.70,777.0 1038.90,777.6 1039.10,776.0 1039.30,777.0 1039.50,776.7 1039.70,777.4 1039.90,775.3 1040.10,777.3 1040.30,776.0 1040.50,775.3 1040.70,773.5 1040.90,772.9 1041.10,771.4 1041.30,768.2 1041.50,765.3 1041.70,760.6 1041.90,758.0 1042.10,754.3 1042.30,751.9 1042.50,752.2 1042.70,754.8 1042.90,758.3 1043.10,761.6 1043.30,766.3 1043.50,768.7 1043.70,771.2 1043.90,772.7 1044.10,775.0 1044.30,775.4 1044.50,774.5 1044.70,776.3 1044.90,776.6 1045.10,776.5 1045.30,779.0 1045.50,777.4 1045.70,777.6 1045.90,777.5 1046.10,776.6 1046.30,777.2 1046.50,777.3 1046.70,777.3 1046.90,776.5 1047.10,777.4 1047.30,776.9 1047.50,776.2 1047.70,776.3 1047.90,776.8 1048.10,777.1 1048.30,776.1 1048.50,775.9 1048.70,776.4 1048.90,776.8 1049.10,778.4 1049.30,777.6 1049.50,775.4 1049.70,776.8 1049.90,777.3 1050.10,778.1 1050.30,777.2 1050.50,778.7"/>
<rect x="735" y="654.4" width="318" height="3.0" fill="#fff"/>
<rect x="726.1" y="654.7" width="4" height="3.4" fill="#fff"/>
<line x1="722.8" y1="657.1" x2="733.4" y2="652.3" stroke="#000" stroke-width="1.0"/>
<line x1="722.8" y1="660.5" x2="733.4" y2="655.7" stroke="#000" stroke-width="1.0"/>
<text class="pl" transform="translate(778.7,568.3) rotate(-90) scale(1,1.05)" font-size="16.2">7.59</text>
<text class="pl" transform="translate(835.4,634.9) rotate(-90) scale(1,1.05)" font-size="16.2">3.78</text>
<text class="pl" transform="translate(881.8,753.6) rotate(-90) scale(1,1.05)" font-size="16.2">2.642</text>
<text class="pl" transform="translate(890.0,644.6) rotate(-90) scale(1,1.05)" font-size="16.2">2.589</text>
<text class="pl" transform="translate(902.6,750.7) rotate(-90) scale(1,1.05)" font-size="16.2">2.408</text>
<text class="pl" transform="translate(912.2,653.6) rotate(-90) scale(1,1.05)" font-size="16.2">2.293</text>
<text class="pl" transform="translate(935.4,763.8) rotate(-90) scale(1,1.05)" font-size="16.2">2.057</text>
<text class="pl" transform="translate(951.4,684.2) rotate(-90) scale(1,1.05)" font-size="16.2">1.937</text>
<text class="pl" transform="translate(981.0,748.0) rotate(-90) scale(1,1.05)" font-size="16.2">1.725</text>
<text class="pl" transform="translate(997.9,757.4) rotate(-90) scale(1,1.05)" font-size="16.2">1.628</text>
<text class="pl" transform="translate(1010.6,725.9) rotate(-90) scale(1,1.05)" font-size="16.2">1.535</text>
<text class="pl" transform="translate(1023.9,716.5) rotate(-90) scale(1,1.05)" font-size="16.2">1.504</text>
<text class="pl" transform="translate(1035.0,763.7) rotate(-90) scale(1,1.05)" font-size="16.2">1.458</text>
<text class="pl" transform="translate(1049.1,753.5) rotate(-90) scale(1,1.05)" font-size="16.2">1.421</text>
<text class="yt" transform="translate(671.1,672.9) rotate(-90) scale(0.94,1)" font-size="21.3" word-spacing="-2.51"><tspan font-style="italic">I</tspan>, отн. ед.</text>
<line x1="261.0" y1="839.6" x2="261.0" y2="1091.0" stroke="#000" stroke-width="1.5"/>
<line x1="260.2" y1="1090.3" x2="584.0" y2="1090.3" stroke="#000" stroke-width="1.5"/>
<line x1="261.0" y1="840.4" x2="266.5" y2="840.4" stroke="#000" stroke-width="1.3"/>
<line x1="261.0" y1="871.6" x2="264.0" y2="871.6" stroke="#000" stroke-width="1.3"/>
<line x1="261.0" y1="902.9" x2="266.5" y2="902.9" stroke="#000" stroke-width="1.3"/>
<line x1="261.0" y1="934.1" x2="264.0" y2="934.1" stroke="#000" stroke-width="1.3"/>
<line x1="261.0" y1="965.3" x2="266.5" y2="965.3" stroke="#000" stroke-width="1.3"/>
<line x1="261.0" y1="996.6" x2="264.0" y2="996.6" stroke="#000" stroke-width="1.3"/>
<line x1="261.0" y1="1027.8" x2="266.5" y2="1027.8" stroke="#000" stroke-width="1.3"/>
<line x1="261.0" y1="1059.1" x2="264.0" y2="1059.1" stroke="#000" stroke-width="1.3"/>
<line x1="261.0" y1="1090.3" x2="266.5" y2="1090.3" stroke="#000" stroke-width="1.3"/>
<line x1="293.8" y1="1090.3" x2="293.8" y2="1087.3" stroke="#000" stroke-width="1.3"/>
<line x1="335.2" y1="1090.3" x2="335.2" y2="1084.8" stroke="#000" stroke-width="1.3"/>
<line x1="376.5" y1="1090.3" x2="376.5" y2="1087.3" stroke="#000" stroke-width="1.3"/>
<line x1="417.9" y1="1090.3" x2="417.9" y2="1084.8" stroke="#000" stroke-width="1.3"/>
<line x1="459.2" y1="1090.3" x2="459.2" y2="1087.3" stroke="#000" stroke-width="1.3"/>
<line x1="500.6" y1="1090.3" x2="500.6" y2="1084.8" stroke="#000" stroke-width="1.3"/>
<line x1="541.9" y1="1090.3" x2="541.9" y2="1087.3" stroke="#000" stroke-width="1.3"/>
<line x1="583.3" y1="1090.3" x2="583.3" y2="1084.8" stroke="#000" stroke-width="1.3"/>
<polyline fill="none" stroke="#000" stroke-width="1.15" stroke-linejoin="round" points="261.00,964.6 261.14,948.8 261.28,959.4 261.42,965.8 261.56,955.3 261.70,960.0 261.84,966.0 261.98,954.6 262.12,963.6 262.26,967.2 262.40,962.8 262.54,969.1 262.68,961.6 262.82,960.2 262.96,965.2 263.10,956.6 263.24,967.1 263.38,961.9 263.52,958.7 263.66,967.1 263.80,964.7 263.94,961.7 264.08,959.2 264.22,962.5 264.36,955.7 264.50,955.6 264.64,966.1 264.78,959.7 264.92,963.0 265.06,957.6 265.20,962.7 265.34,951.8 265.48,960.4 265.62,958.1 265.76,959.6 265.90,960.4 266.04,952.6 266.18,955.2 266.32,963.5 266.46,959.5 266.60,957.7 266.74,948.1 266.88,962.7 267.02,954.9 267.16,956.1 267.30,945.3 267.44,953.5 267.58,941.5 267.72,955.5 267.86,951.5 268.00,951.2 268.14,944.6 268.28,951.4 268.42,948.6 268.56,940.1 268.70,947.3 268.84,944.4 268.98,937.5 269.12,947.8 269.26,938.1 269.40,940.6 269.54,934.9 269.68,934.9 269.82,944.5 269.96,952.7 270.10,940.2 270.24,941.1 270.38,941.3 270.52,946.8 270.66,950.6 270.80,940.4 270.94,939.0 271.08,946.7 271.22,942.0 271.36,937.6 271.50,938.9 271.64,933.9 271.78,936.0 271.92,930.9 272.06,942.9 272.20,940.5 272.34,922.7 272.48,921.3 272.62,925.7 272.76,928.1 272.90,934.8 273.04,928.3 273.18,932.6 273.32,922.0 273.46,929.6 273.60,930.7 273.74,926.0 273.88,925.7 274.02,934.1 274.16,929.9 274.30,932.5 274.44,919.2 274.58,938.4 274.72,935.4 274.86,936.4 275.00,926.5 275.14,924.1 275.28,928.3 275.42,926.0 275.56,933.3 275.70,914.5 275.84,922.9 275.98,924.1 276.12,916.9 276.26,916.6 276.40,933.4 276.54,922.7 276.68,916.0 276.82,927.1 276.96,914.6 277.10,912.0 277.24,911.7 277.38,912.8 277.52,916.9 277.66,914.3 277.80,915.5 277.94,911.2 278.08,915.3 278.22,909.5 278.36,914.9 278.50,906.9 278.64,916.6 278.78,914.5 278.92,907.8 279.06,909.8 279.20,905.5 279.34,909.1 279.48,911.0 279.62,914.1 279.76,898.7 279.90,903.5 280.04,908.8 280.18,899.0 280.32,898.3 280.46,908.9 280.60,898.9 280.74,909.1 280.88,903.8 281.02,900.2 281.16,900.1 281.30,899.9 281.44,898.3 281.58,896.0 281.72,891.7 281.86,894.3 282.00,898.5 282.14,891.1 282.28,891.0 282.42,891.3 282.56,901.5 282.70,900.7 282.84,896.1 282.98,888.9 283.12,897.0 283.26,883.9 283.40,895.0 283.54,890.8 283.68,901.1 283.82,892.7 283.96,885.7 284.10,887.9 284.24,883.6 284.38,889.1 284.52,884.2 284.66,891.7 284.80,895.0 284.94,886.7 285.08,900.7 285.22,881.9 285.36,891.7 285.50,902.9 285.64,903.6 285.78,909.9 285.92,899.8 286.06,900.4 286.20,903.9 286.34,897.9 286.48,905.6 286.62,902.2 286.76,905.1 286.90,913.7 287.04,912.8 287.18,908.2 287.32,920.4 287.46,910.2 287.60,919.5 287.74,922.1 287.88,916.9 288.02,911.8 288.16,914.3 288.30,923.8 288.44,931.8 288.58,924.0 288.72,917.6 288.86,926.6 289.00,923.2 289.14,938.7 289.28,938.2 289.42,939.6 289.56,927.9 289.70,932.2 289.84,935.4 289.98,941.2 290.12,942.9 290.26,943.2 290.40,950.5 290.54,943.2 290.68,956.1 290.82,956.0 290.96,951.2 291.10,956.1 291.24,967.9 291.38,962.6 291.52,956.8 291.66,964.6 291.80,967.0 291.94,974.2 292.08,969.9 292.22,979.4 292.36,974.5 292.50,976.2 292.64,985.6 292.78,985.0 292.92,978.0 293.06,985.4 293.20,985.0 293.34,988.4 293.48,992.8 293.62,983.2 293.76,991.8 293.90,989.2 294.04,994.8 294.18,988.3 294.32,994.7 294.46,1000.1 294.60,994.0 294.74,998.5 294.88,987.0 295.02,994.9 295.16,996.0 295.30,999.6 295.44,1000.3 295.58,1004.8 295.72,999.7 295.86,1012.0 296.00,1012.7 296.14,1003.7 296.28,1008.1 296.42,1012.9 296.56,1005.3 296.70,1008.3 296.84,1011.1 296.98,1011.4 297.12,1009.6 297.26,1009.2 297.40,1011.8 297.54,1011.2 297.68,1015.7 297.82,1010.5 297.96,1011.0 298.10,1010.4 298.24,1020.6 298.38,1011.9 298.52,1009.5 298.66,1016.5 298.80,1011.8 298.94,1016.5 299.08,1014.5 299.22,1015.4 299.36,1014.5 299.50,1014.5 299.64,1012.6 299.78,1009.6 299.92,1013.2 300.06,1014.6 300.20,1007.4 300.34,1012.1 300.48,1014.1 300.62,1016.7 300.76,1021.3 300.90,1019.4 301.04,1019.7 301.18,1017.5 301.32,1018.7 301.46,1017.4 301.60,1020.6 301.74,1012.1 301.88,1018.6 302.02,1025.5 302.16,1017.5 302.30,1015.7 302.44,1017.7 302.58,1019.6 302.72,1024.2 302.86,1013.2 303.00,1019.4 303.14,1025.4 303.28,1022.9 303.42,1018.5 303.56,1024.3 303.70,1020.4 303.84,1018.9 303.98,1018.5 304.12,1016.2 304.26,1020.7 304.40,1019.7 304.54,1016.8 304.68,1020.0 304.82,1018.3 304.96,1017.8 305.10,1019.5 305.24,1017.9 305.38,1019.1 305.52,1018.1 305.66,1025.9 305.80,1013.7 305.94,1015.9 306.08,1019.8 306.22,1014.0 306.36,1015.8 306.50,1017.4 306.64,1016.9 306.78,1018.2 306.92,1012.7 307.06,1014.5 307.20,1010.3 307.34,1013.5 307.48,1011.6 307.62,1009.2 307.76,1012.9 307.90,1013.6 308.04,1013.9 308.18,1014.2 308.32,1017.1 308.46,1015.5 308.60,1014.7 308.74,1018.5 308.88,1014.1 309.02,1011.4 309.16,1017.1 309.30,1013.8 309.44,1007.3 309.58,1009.5 309.72,1007.2 309.86,1011.4 310.00,1008.8 310.14,1002.9 310.28,1005.0 310.42,1012.5 310.56,1008.5 310.70,1008.9 310.84,1007.8 310.98,1009.3 311.12,1014.1 311.26,1010.1 311.40,1006.8 311.54,1007.2 311.68,1010.7 311.82,1006.7 311.96,1004.3 312.10,1009.6 312.24,997.6 312.38,992.3 312.52,998.3 312.66,1000.6 312.80,1002.0 312.94,996.8 313.08,1001.7 313.22,999.5 313.36,1006.1 313.50,1006.4 313.64,1005.0 313.78,1000.7 313.92,1004.5 314.06,1002.5 314.20,1000.5 314.34,1000.9 314.48,1003.0 314.62,996.0 314.76,993.9 314.90,997.7 315.04,999.2 315.18,997.8 315.32,990.8 315.46,997.9 315.60,996.0 315.74,997.2 315.88,996.8 316.02,992.2 316.16,994.8 316.30,994.0 316.44,995.6 316.58,999.9 316.72,990.7 316.86,995.9 317.00,996.3 317.14,992.2 317.28,1000.0 317.42,987.6 317.56,1003.5 317.70,1001.8 317.84,996.5 317.98,992.7 318.12,993.9 318.26,992.5 318.40,1002.5 318.54,990.0 318.68,994.9 318.82,987.3 318.96,992.8 319.10,994.0 319.24,992.5 319.38,999.9 319.52,996.1 319.66,999.1 319.80,996.2 319.94,993.1 320.08,997.0 320.22,999.5 320.36,1000.4 320.50,995.4 320.64,991.9 320.78,993.7 320.92,993.2 321.06,996.3 321.20,996.2 321.34,997.3 321.48,998.9 321.62,994.9 321.76,999.0 321.90,997.8 322.04,1003.6 322.18,996.9 322.32,996.2 322.46,994.0 322.60,998.4 322.74,999.9 322.88,995.6 323.02,999.5 323.16,990.4 323.30,1001.1 323.44,1001.2 323.58,993.3 323.72,1007.2 323.86,1004.3 324.00,1005.2 324.14,1007.2 324.28,999.8 324.42,999.2 324.56,1009.7 324.70,1000.6 324.84,996.0 324.98,996.6 325.12,1010.9 325.26,1004.0 325.40,1005.6 325.54,1005.3 325.68,1008.4 325.82,1015.8 325.96,1008.4 326.10,1014.9 326.24,1014.1 326.38,1013.0 326.52,1012.2 326.66,1016.8 326.80,1015.3 326.94,1021.0 327.08,1022.9 327.22,1018.9 327.36,1016.1 327.50,1013.6 327.64,1016.2 327.78,1021.9 327.92,1021.2 328.06,1025.0 328.20,1017.6 328.34,1022.0 328.48,1027.3 328.62,1025.6 328.76,1021.1 328.90,1021.5 329.04,1022.1 329.18,1023.5 329.32,1033.2 329.46,1025.4 329.60,1034.2 329.74,1034.0 329.88,1029.7 330.02,1026.5 330.16,1036.4 330.30,1032.5 330.44,1032.3 330.58,1028.3 330.72,1020.5 330.86,1030.7 331.00,1032.2 331.14,1026.2 331.28,1030.8 331.42,1032.7 331.56,1028.1 331.70,1033.7 331.84,1034.3 331.98,1035.8 332.12,1034.3 332.26,1033.5 332.40,1034.8 332.54,1033.5 332.68,1040.2 332.82,1037.2 332.96,1034.6 333.10,1036.5 333.24,1040.1 333.38,1040.7 333.52,1033.5 333.66,1039.4 333.80,1040.3 333.94,1039.2 334.08,1034.9 334.22,1041.1 334.36,1035.7 334.50,1035.1 334.64,1045.5 334.78,1040.3 334.92,1040.7 335.06,1045.6 335.20,1033.9 335.34,1036.6 335.48,1034.3 335.62,1039.4 335.76,1046.2 335.90,1042.4 336.04,1044.3 336.18,1040.5 336.32,1041.5 336.46,1041.2 336.60,1049.7 336.74,1043.3 336.88,1044.7 337.02,1036.6 337.16,1044.8 337.30,1038.0 337.44,1041.9 337.58,1043.7 337.72,1043.8 337.86,1045.1 338.00,1040.5 338.14,1041.4 338.28,1045.3 338.42,1047.2 338.56,1042.1 338.70,1041.4 338.84,1041.6 338.98,1040.2 339.12,1041.4 339.26,1039.8 339.40,1039.0 339.54,1041.8 339.68,1035.3 339.82,1038.9 339.96,1039.7 340.10,1040.3 340.24,1037.9 340.38,1040.4 340.52,1041.1 340.66,1043.6 340.80,1035.1 340.94,1042.7 341.08,1039.2 341.22,1045.2 341.36,1037.1 341.50,1040.1 341.64,1041.1 341.78,1033.8 341.92,1044.9 342.06,1041.8 342.20,1038.1 342.34,1036.3 342.48,1040.7 342.62,1041.3 342.76,1039.7 342.90,1038.9 343.04,1039.7 343.18,1038.9 343.32,1028.2 343.46,1040.7 343.60,1038.8 343.74,1034.3 343.88,1036.0 344.02,1038.8 344.16,1031.8 344.30,1043.7 344.44,1036.9 344.58,1037.4 344.72,1033.0 344.86,1035.2 345.00,1038.0 345.14,1038.2 345.28,1034.5 345.42,1029.2 345.56,1032.7 345.70,1031.1 345.84,1033.6 345.98,1031.3 346.12,1040.7 346.26,1037.9 346.40,1034.3 346.54,1032.8 346.68,1034.3 346.82,1036.7 346.96,1028.6 347.10,1031.1 347.24,1031.9 347.38,1030.0 347.52,1033.5 347.66,1029.9 347.80,1033.8 347.94,1027.5 348.08,1025.8 348.22,1029.0 348.36,1020.1 348.50,1024.8 348.64,1029.5 348.78,1031.2 348.92,1021.7 349.06,1024.7 349.20,1027.0 349.34,1018.4 349.48,1026.9 349.62,1026.1 349.76,1026.7 349.90,1025.7 350.04,1019.8 350.18,1018.4 350.32,1023.4 350.46,1022.9 350.60,1033.8 350.74,1017.8 350.88,1019.0 351.02,1023.4 351.16,1022.3 351.30,1018.9 351.44,1020.3 351.58,1026.1 351.72,1023.7 351.86,1025.3 352.00,1022.8 352.14,1029.9 352.28,1019.0 352.42,1022.2 352.56,1017.8 352.70,1015.9 352.84,1015.7 352.98,1013.7 353.12,1015.6 353.26,1015.5 353.40,1012.7 353.54,1013.7 353.68,1018.2 353.82,1012.2 353.96,1020.3 354.10,1018.7 354.24,1015.3 354.38,1014.4 354.52,1019.5 354.66,1020.6 354.80,1023.4 354.94,1021.2 355.08,1016.5 355.22,1011.4 355.36,1014.2 355.50,1010.8 355.64,1015.2 355.78,1015.3 355.92,1018.1 356.06,1013.4 356.20,1019.1 356.34,1019.0 356.48,1016.9 356.62,1017.2 356.76,1015.3 356.90,1016.6 357.04,1015.5 357.18,1014.3 357.32,1016.2 357.46,1020.6 357.60,1015.5 357.74,1015.5 357.88,1017.6 358.02,1024.7 358.16,1021.1 358.30,1018.8 358.44,1021.7 358.58,1020.7 358.72,1010.5 358.86,1020.9 359.00,1022.7 359.14,1025.3 359.28,1023.9 359.42,1024.6 359.56,1016.4 359.70,1020.2 359.84,1021.8 359.98,1027.7 360.12,1018.6 360.26,1024.0 360.40,1023.8 360.54,1027.0 360.68,1023.7 360.82,1027.6 360.96,1025.2 361.10,1020.8 361.24,1020.0 361.38,1026.0 361.52,1020.4 361.66,1031.9 361.80,1030.1 361.94,1028.4 362.08,1025.8 362.22,1026.1 362.36,1029.7 362.50,1027.8 362.64,1024.2 362.78,1032.8 362.92,1027.0 363.06,1024.4 363.20,1027.7 363.34,1027.5 363.48,1034.4 363.62,1030.4 363.76,1028.3 363.90,1030.3 364.04,1031.7 364.18,1028.1 364.32,1026.2 364.46,1029.0 364.60,1030.9 364.74,1024.5 364.88,1025.6 365.02,1029.1 365.16,1030.6 365.30,1031.0 365.44,1027.1 365.58,1033.3 365.72,1026.9 365.86,1031.5 366.00,1033.1 366.14,1040.3 366.28,1037.3 366.42,1031.6 366.56,1037.9 366.70,1035.5 366.84,1037.1 366.98,1040.0 367.12,1036.7 367.26,1033.7 367.40,1037.3 367.54,1039.7 367.68,1039.3 367.82,1038.0 367.96,1038.4 368.10,1038.7 368.24,1038.9 368.38,1041.0 368.52,1043.5 368.66,1039.0 368.80,1036.5 368.94,1041.5 369.08,1037.7 369.22,1044.9 369.36,1042.5 369.50,1042.9 369.64,1034.3 369.78,1039.0 369.92,1041.2 370.06,1035.7 370.20,1039.7 370.34,1043.2 370.48,1041.8 370.62,1036.6 370.76,1042.8 370.90,1043.3 371.04,1044.1 371.18,1042.9 371.32,1042.5 371.46,1042.0 371.60,1041.9 371.74,1039.1 371.88,1045.4 372.02,1045.7 372.16,1043.9 372.30,1045.8 372.44,1047.1 372.58,1042.3 372.72,1043.4 372.86,1044.9 373.00,1047.0 373.14,1043.1 373.28,1045.6 373.42,1043.8 373.56,1044.1 373.70,1050.1 373.84,1040.4 373.98,1051.1 374.12,1045.5 374.26,1046.2 374.40,1047.0 374.54,1046.9 374.68,1049.1 374.82,1051.3 374.96,1050.1 375.10,1043.0 375.24,1047.2 375.38,1049.9 375.52,1050.5 375.66,1045.5 375.80,1053.5 375.94,1052.0 376.08,1048.4 376.22,1057.6 376.36,1046.4 376.50,1047.9 376.64,1047.9 376.78,1050.5 376.92,1046.8 377.06,1047.1 377.20,1051.7 377.34,1049.3 377.48,1052.7 377.62,1054.2 377.76,1050.2 377.90,1049.0 378.04,1050.2 378.18,1053.5 378.32,1055.4 378.46,1053.9 378.60,1048.9 378.74,1053.4 378.88,1057.7 379.02,1057.7 379.16,1051.2 379.30,1053.6 379.44,1053.8 379.58,1048.5 379.72,1053.0 379.86,1047.1 380.00,1046.3 380.14,1047.7 380.28,1045.5 380.42,1049.8 380.56,1050.7 380.70,1047.1 380.84,1047.5 380.98,1051.8 381.12,1050.0 381.26,1054.8 381.40,1052.9 381.54,1044.4 381.68,1048.6 381.82,1046.5 381.96,1046.2 382.10,1052.2 382.24,1048.5 382.38,1045.3 382.52,1052.8 382.66,1052.6 382.80,1047.4 382.94,1050.3 383.08,1047.2 383.22,1049.1 383.36,1046.8 383.50,1050.3 383.64,1052.5 383.78,1050.0 383.92,1057.2 384.06,1051.2 384.20,1054.1 384.34,1054.7 384.48,1049.9 384.62,1056.7 384.76,1053.8 384.90,1056.7 385.04,1054.4 385.18,1053.9 385.32,1058.2 385.46,1053.9 385.60,1054.4 385.74,1050.9 385.88,1053.1 386.02,1052.4 386.16,1052.5 386.30,1055.0 386.44,1049.6 386.58,1050.3 386.72,1048.9 386.86,1057.0 387.00,1050.9 387.14,1050.3 387.28,1051.3 387.42,1046.6 387.56,1057.1 387.70,1051.7 387.84,1052.6 387.98,1056.5 388.12,1050.9 388.26,1058.4 388.40,1054.2 388.54,1057.1 388.68,1048.1 388.82,1051.2 388.96,1051.9 389.10,1047.9 389.24,1055.7 389.38,1052.7 389.52,1051.0 389.66,1052.6 389.80,1053.9 389.94,1051.0 390.08,1051.8 390.22,1051.8 390.36,1054.8 390.50,1052.5 390.64,1052.3 390.78,1056.8 390.92,1051.9 391.06,1050.1 391.20,1053.3 391.34,1051.5 391.48,1050.5 391.62,1053.0 391.76,1050.9 391.90,1051.0 392.04,1054.5 392.18,1052.1 392.32,1052.0 392.46,1050.2 392.60,1053.7 392.74,1049.7 392.88,1054.5 393.02,1054.7 393.16,1050.2 393.30,1052.8 393.44,1052.9 393.58,1050.4 393.72,1051.6 393.86,1054.2 394.00,1046.0 394.14,1052.7 394.28,1052.8 394.42,1052.8 394.56,1049.5 394.70,1050.8 394.84,1051.7 394.98,1056.6 395.12,1049.7 395.26,1053.6 395.40,1052.6 395.54,1049.3 395.68,1055.4 395.82,1049.8 395.96,1046.9 396.10,1048.1 396.24,1050.9 396.38,1052.8 396.52,1046.6 396.66,1048.2 396.80,1053.9 396.94,1052.4 397.08,1049.0 397.22,1047.2 397.36,1046.2 397.50,1048.3 397.64,1053.4 397.78,1050.7 397.92,1055.0 398.06,1050.7 398.20,1046.3 398.34,1052.9 398.48,1051.1 398.62,1050.8 398.76,1053.3 398.90,1048.9 399.04,1058.3 399.18,1048.9 399.32,1051.3 399.46,1051.6 399.60,1057.1 399.74,1052.8 399.88,1048.5 400.02,1054.2 400.16,1051.2 400.30,1052.1 400.44,1050.3 400.58,1056.0 400.72,1053.5 400.86,1050.1 401.00,1049.6 401.14,1052.9 401.28,1045.4 401.42,1051.8 401.56,1043.9 401.70,1051.4 401.84,1049.4 401.98,1052.2 402.12,1050.2 402.26,1057.2 402.40,1051.8 402.54,1051.6 402.68,1053.7 402.82,1049.9 402.96,1047.0 403.10,1049.6 403.24,1051.4 403.38,1048.8 403.52,1053.0 403.66,1050.4 403.80,1055.1 403.94,1054.0 404.08,1046.0 404.22,1052.9 404.36,1051.9 404.50,1046.7 404.64,1052.5 404.78,1045.5 404.92,1048.7 405.06,1047.4 405.20,1053.2 405.34,1044.0 405.48,1050.4 405.62,1049.2 405.76,1049.4 405.90,1045.9 406.04,1059.7 406.18,1045.9 406.32,1049.9 406.46,1054.0 406.60,1050.1 406.74,1051.6 406.88,1048.7 407.02,1052.4 407.16,1051.9 407.30,1051.1 407.44,1048.0 407.58,1047.1 407.72,1047.4 407.86,1041.5 408.00,1047.6 408.14,1053.8 408.28,1046.0 408.42,1052.4 408.56,1049.9 408.70,1049.8 408.84,1046.7 408.98,1056.2 409.12,1049.0 409.26,1051.4 409.40,1051.9 409.54,1053.3 409.68,1050.0 409.82,1049.0 409.96,1047.8 410.10,1051.7 410.24,1043.4 410.38,1046.7 410.52,1044.7 410.66,1048.0 410.80,1047.5 410.94,1048.9 411.08,1046.4 411.22,1046.2 411.36,1050.2 411.50,1055.6 411.64,1047.6 411.78,1047.7 411.92,1052.8 412.06,1048.9 412.20,1043.7 412.34,1051.7 412.48,1047.8 412.62,1050.7 412.76,1046.1 412.90,1042.0 413.04,1044.4 413.18,1043.7 413.32,1045.3 413.46,1045.2 413.60,1048.7 413.74,1046.1 413.88,1043.3 414.02,1038.7 414.16,1035.0 414.30,1039.1 414.44,1035.3 414.58,1033.5 414.72,1027.7 414.86,1026.9 415.00,1025.6 415.14,1023.0 415.28,1020.2 415.42,1017.9 415.56,1021.2 415.70,1019.9 415.84,1014.1 415.98,1015.4 416.12,1014.5 416.26,1012.6 416.40,1010.1 416.54,1008.2 416.68,1004.9 416.82,1014.6 416.96,1007.0 417.10,1008.2 417.24,1013.6 417.38,1010.6 417.52,1013.2 417.66,1007.2 417.80,1010.8 417.94,1014.6 418.08,1011.1 418.22,1009.0 418.36,1015.3 418.50,1015.2 418.64,1004.6 418.78,1013.2 418.92,1010.8 419.06,1003.9 419.20,1005.3 419.34,1008.6 419.48,998.2 419.62,1005.0 419.76,1005.3 419.90,1004.5 420.04,1006.5 420.18,1002.0 420.32,1004.5 420.46,1008.0 420.60,1018.8 420.74,1011.3 420.88,1011.6 421.02,1011.6 421.16,1013.8 421.30,1007.2 421.44,1017.0 421.58,1006.8 421.72,1003.8 421.86,1005.6 422.00,1010.6 422.14,1011.1 422.28,1004.5 422.42,1011.2 422.56,1007.3 422.70,1014.5 422.84,1007.9 422.98,1015.9 423.12,1007.2 423.26,1012.5 423.40,1018.8 423.54,1017.2 423.68,1016.1 423.82,1014.8 423.96,1018.2 424.10,1020.1 424.24,1011.1 424.38,1017.9 424.52,1016.5 424.66,1010.6 424.80,1017.0 424.94,1011.5 425.08,1013.5 425.22,1016.8 425.36,1005.4 425.50,1011.8 425.64,1009.5 425.78,1012.9 425.92,1012.0 426.06,1012.8 426.20,1014.7 426.34,1016.2 426.48,1015.6 426.62,1020.7 426.76,1018.3 426.90,1018.0 427.04,1012.2 427.18,1012.8 427.32,1018.2 427.46,1010.1 427.60,1012.2 427.74,1014.6 427.88,1014.4 428.02,1016.7 428.16,1016.5 428.30,1022.3 428.44,1016.5 428.58,1011.5 428.72,1012.0 428.86,1014.7 429.00,1018.0 429.14,1021.7 429.28,1021.2 429.42,1015.7 429.56,1021.9 429.70,1025.5 429.84,1017.2 429.98,1019.0 430.12,1024.0 430.26,1023.4 430.40,1016.7 430.54,1011.7 430.68,1015.2 430.82,1022.7 430.96,1013.8 431.10,1020.1 431.24,1019.8 431.38,1017.0 431.52,1015.8 431.66,1019.9 431.80,1018.9 431.94,1026.9 432.08,1024.3 432.22,1033.4 432.36,1030.5 432.50,1026.9 432.64,1020.2 432.78,1024.6 432.92,1021.6 433.06,1025.2 433.20,1023.0 433.34,1022.9 433.48,1029.8 433.62,1022.6 433.76,1024.3 433.90,1021.8 434.04,1024.7 434.18,1030.0 434.32,1019.6 434.46,1023.1 434.60,1022.4 434.74,1025.8 434.88,1019.7 435.02,1028.9 435.16,1027.5 435.30,1027.5 435.44,1022.7 435.58,1026.7 435.72,1032.0 435.86,1028.3 436.00,1023.3 436.14,1022.9 436.28,1022.2 436.42,1033.7 436.56,1021.8 436.70,1025.4 436.84,1028.5 436.98,1021.6 437.12,1026.6 437.26,1030.7 437.40,1033.4 437.54,1030.8 437.68,1024.9 437.82,1029.6 437.96,1027.7 438.10,1028.5 438.24,1030.8 438.38,1024.8 438.52,1025.7 438.66,1034.9 438.80,1025.7 438.94,1029.4 439.08,1023.5 439.22,1028.5 439.36,1028.3 439.50,1023.1 439.64,1031.9 439.78,1027.2 439.92,1034.7 440.06,1024.5 440.20,1029.5 440.34,1034.1 440.48,1034.5 440.62,1036.4 440.76,1034.1 440.90,1032.4 441.04,1034.0 441.18,1033.1 441.32,1030.0 441.46,1033.8 441.60,1035.0 441.74,1034.3 441.88,1023.0 442.02,1031.5 442.16,1032.0 442.30,1034.4 442.44,1036.0 442.58,1037.3 442.72,1036.5 442.86,1034.5 443.00,1036.3 443.14,1030.0 443.28,1034.2 443.42,1040.4 443.56,1034.6 443.70,1029.5 443.84,1033.3 443.98,1033.9 444.12,1031.1 444.26,1035.1 444.40,1036.3 444.54,1031.0 444.68,1035.8 444.82,1025.6 444.96,1032.8 445.10,1035.0 445.24,1034.4 445.38,1035.7 445.52,1032.9 445.66,1032.2 445.80,1027.4 445.94,1031.9 446.08,1030.9 446.22,1036.8 446.36,1036.5 446.50,1035.3 446.64,1038.0 446.78,1038.7 446.92,1037.1 447.06,1032.5 447.20,1032.4 447.34,1038.4 447.48,1042.5 447.62,1037.7 447.76,1033.2 447.90,1037.2 448.04,1033.5 448.18,1030.4 448.32,1037.6 448.46,1035.1 448.60,1040.0 448.74,1026.7 448.88,1033.3 449.02,1035.7 449.16,1033.8 449.30,1034.9 449.44,1039.3 449.58,1031.1 449.72,1031.2 449.86,1032.0 450.00,1039.9 450.14,1035.4 450.28,1039.1 450.42,1034.5 450.56,1035.6 450.70,1038.2 450.84,1047.6 450.98,1036.2 451.12,1035.9 451.26,1042.3 451.40,1041.6 451.54,1030.2 451.68,1039.6 451.82,1036.8 451.96,1041.9 452.10,1040.7 452.24,1045.7 452.38,1041.6 452.52,1038.3 452.66,1042.7 452.80,1037.5 452.94,1036.8 453.08,1042.0 453.22,1037.3 453.36,1045.8 453.50,1043.6 453.64,1042.1 453.78,1045.0 453.92,1044.8 454.06,1042.8 454.20,1042.6 454.34,1041.9 454.48,1040.9 454.62,1036.2 454.76,1030.9 454.90,1034.3 455.04,1037.0 455.18,1042.4 455.32,1035.5 455.46,1039.7 455.60,1040.4 455.74,1040.9 455.88,1042.2 456.02,1040.5 456.16,1040.5 456.30,1035.2 456.44,1039.0 456.58,1039.6 456.72,1047.7 456.86,1047.0 457.00,1047.1 457.14,1042.8 457.28,1041.6 457.42,1039.9 457.56,1040.7 457.70,1036.0 457.84,1038.4 457.98,1037.2 458.12,1039.9 458.26,1051.5 458.40,1045.7 458.54,1038.4 458.68,1045.5 458.82,1040.3 458.96,1037.5 459.10,1042.7 459.24,1040.6 459.38,1038.9 459.52,1041.0 459.66,1041.4 459.80,1049.8 459.94,1041.4 460.08,1042.2 460.22,1047.2 460.36,1042.2 460.50,1043.2 460.64,1042.0 460.78,1044.5 460.92,1046.3 461.06,1042.0 461.20,1048.4 461.34,1039.3 461.48,1042.3 461.62,1040.4 461.76,1041.6 461.90,1036.6 462.04,1037.6 462.18,1039.2 462.32,1042.3 462.46,1041.5 462.60,1039.6 462.74,1039.6 462.88,1046.2 463.02,1040.2 463.16,1042.0 463.30,1043.4 463.44,1044.6 463.58,1044.4 463.72,1042.6 463.86,1047.2 464.00,1046.1 464.14,1045.0 464.28,1049.9 464.42,1041.1 464.56,1044.7 464.70,1046.5 464.84,1043.1 464.98,1047.1 465.12,1044.1 465.26,1042.2 465.40,1047.6 465.54,1043.5 465.68,1044.1 465.82,1044.7 465.96,1043.1 466.10,1041.9 466.24,1042.5 466.38,1041.4 466.52,1046.9 466.66,1043.6 466.80,1047.6 466.94,1042.0 467.08,1045.9 467.22,1041.7 467.36,1040.3 467.50,1043.5 467.64,1039.2 467.78,1047.1 467.92,1045.3 468.06,1044.9 468.20,1044.5 468.34,1046.7 468.48,1044.9 468.62,1051.0 468.76,1048.9 468.90,1046.2 469.04,1045.3 469.18,1049.1 469.32,1046.1 469.46,1048.9 469.60,1046.4 469.74,1047.9 469.88,1038.2 470.02,1046.0 470.16,1042.2 470.30,1046.4 470.44,1047.4 470.58,1047.4 470.72,1045.4 470.86,1045.0 471.00,1046.4 471.14,1047.0 471.28,1043.4 471.42,1048.9 471.56,1047.8 471.70,1046.3 471.84,1051.0 471.98,1047.0 472.12,1049.4 472.26,1050.8 472.40,1053.3 472.54,1046.5 472.68,1048.6 472.82,1043.2 472.96,1047.7 473.10,1046.8 473.24,1048.8 473.38,1042.6 473.52,1049.7 473.66,1049.3 473.80,1051.4 473.94,1048.7 474.08,1048.8 474.22,1049.1 474.36,1049.4 474.50,1044.3 474.64,1052.2 474.78,1048.0 474.92,1042.7 475.06,1049.9 475.20,1054.3 475.34,1045.8 475.48,1045.3 475.62,1041.5 475.76,1043.2 475.90,1049.9 476.04,1047.3 476.18,1051.5 476.32,1047.1 476.46,1050.7 476.60,1047.7 476.74,1053.7 476.88,1048.9 477.02,1057.1 477.16,1050.0 477.30,1049.1 477.44,1055.2 477.58,1057.4 477.72,1049.0 477.86,1045.5 478.00,1052.9 478.14,1047.9 478.28,1046.2 478.42,1053.3 478.56,1045.6 478.70,1049.3 478.84,1050.5 478.98,1051.9 479.12,1053.3 479.26,1048.7 479.40,1052.3 479.54,1052.2 479.68,1054.0 479.82,1050.8 479.96,1046.6 480.10,1044.1 480.24,1047.6 480.38,1055.9 480.52,1049.0 480.66,1046.3 480.80,1049.8 480.94,1052.0 481.08,1050.4 481.22,1047.5 481.36,1054.5 481.50,1053.2 481.64,1052.9 481.78,1047.9 481.92,1049.0 482.06,1049.0 482.20,1051.5 482.34,1052.9 482.48,1047.7 482.62,1048.0 482.76,1053.0 482.90,1053.5 483.04,1056.6 483.18,1052.8 483.32,1056.2 483.46,1047.7 483.60,1054.4 483.74,1050.2 483.88,1052.5 484.02,1054.4 484.16,1053.1 484.30,1050.5 484.44,1052.6 484.58,1044.9 484.72,1047.7 484.86,1049.0 485.00,1047.3 485.14,1049.5 485.28,1054.5 485.42,1048.0 485.56,1050.0 485.70,1049.2 485.84,1048.6 485.98,1051.7 486.12,1055.3 486.26,1049.5 486.40,1054.1 486.54,1052.4 486.68,1048.6 486.82,1046.2 486.96,1047.1 487.10,1052.3 487.24,1049.5 487.38,1055.0 487.52,1051.9 487.66,1052.8 487.80,1053.4 487.94,1057.7 488.08,1049.6 488.22,1055.5 488.36,1051.9 488.50,1054.5 488.64,1051.2 488.78,1056.0 488.92,1051.7 489.06,1056.1 489.20,1056.0 489.34,1058.0 489.48,1052.4 489.62,1050.9 489.76,1061.1 489.90,1058.5 490.04,1054.7 490.18,1054.8 490.32,1051.7 490.46,1059.1 490.60,1049.4 490.74,1055.7 490.88,1053.7 491.02,1057.0 491.16,1057.4 491.30,1051.6 491.44,1051.8 491.58,1054.7 491.72,1047.9 491.86,1057.2 492.00,1055.8 492.14,1049.3 492.28,1059.2 492.42,1053.0 492.56,1056.3 492.70,1050.3 492.84,1057.6 492.98,1052.4 493.12,1050.0 493.26,1055.9 493.40,1052.9 493.54,1052.2 493.68,1051.8 493.82,1056.5 493.96,1057.9 494.10,1055.7 494.24,1056.1 494.38,1057.9 494.52,1055.3 494.66,1060.5 494.80,1060.3 494.94,1055.4 495.08,1056.2 495.22,1064.3 495.36,1059.9 495.50,1056.9 495.64,1060.1 495.78,1058.5 495.92,1058.3 496.06,1061.0 496.20,1056.4 496.34,1056.4 496.48,1056.5 496.62,1057.3 496.76,1054.4 496.90,1060.1 497.04,1052.3 497.18,1057.3 497.32,1052.6 497.46,1052.1 497.60,1054.7 497.74,1055.4 497.88,1050.7 498.02,1053.5 498.16,1059.5 498.30,1060.9 498.44,1062.7 498.58,1061.6 498.72,1055.8 498.86,1058.9 499.00,1058.4 499.14,1056.3 499.28,1059.6 499.42,1057.1 499.56,1060.9 499.70,1059.9 499.84,1059.7 499.98,1059.2 500.12,1055.5 500.26,1054.3 500.40,1057.3 500.54,1056.2 500.68,1059.5 500.82,1052.7 500.96,1058.3 501.10,1056.3 501.24,1050.7 501.38,1057.6 501.52,1056.4 501.66,1054.7 501.80,1055.1 501.94,1058.6 502.08,1053.4 502.22,1059.6 502.36,1055.0 502.50,1057.6 502.64,1057.3 502.78,1057.6 502.92,1058.8 503.06,1054.9 503.20,1062.3 503.34,1061.6 503.48,1060.5 503.62,1059.3 503.76,1058.7 503.90,1062.4 504.04,1057.7 504.18,1057.3 504.32,1056.3 504.46,1054.9 504.60,1060.2 504.74,1059.6 504.88,1055.7 505.02,1060.6 505.16,1061.8 505.30,1064.5 505.44,1060.8 505.58,1062.0 505.72,1066.4 505.86,1055.9 506.00,1063.9 506.14,1060.3 506.28,1059.7 506.42,1055.8 506.56,1057.2 506.70,1060.7 506.84,1055.4 506.98,1054.6 507.12,1059.8 507.26,1055.9 507.40,1055.9 507.54,1052.2 507.68,1056.1 507.82,1055.7 507.96,1055.0 508.10,1055.1 508.24,1056.6 508.38,1059.2 508.52,1055.2 508.66,1058.3 508.80,1058.4 508.94,1056.0 509.08,1057.2 509.22,1054.8 509.36,1054.3 509.50,1057.4 509.64,1058.1 509.78,1060.1 509.92,1062.1 510.06,1059.4 510.20,1061.8 510.34,1057.0 510.48,1057.6 510.62,1056.7 510.76,1055.5 510.90,1061.6 511.04,1056.7 511.18,1057.7 511.32,1061.2 511.46,1056.8 511.60,1059.5 511.74,1061.8 511.88,1062.7 512.02,1060.6 512.16,1057.3 512.30,1058.6 512.44,1060.2 512.58,1058.7 512.72,1057.3 512.86,1062.3 513.00,1063.7 513.14,1060.7 513.28,1056.0 513.42,1067.7 513.56,1060.3 513.70,1061.9 513.84,1063.7 513.98,1061.2 514.12,1065.3 514.26,1062.9 514.40,1062.9 514.54,1061.2 514.68,1060.0 514.82,1063.2 514.96,1056.9 515.10,1056.6 515.24,1059.2 515.38,1059.0 515.52,1056.7 515.66,1056.9 515.80,1056.7 515.94,1062.3 516.08,1058.7 516.22,1057.9 516.36,1057.9 516.50,1061.3 516.64,1058.3 516.78,1060.1 516.92,1065.6 517.06,1061.8 517.20,1055.4 517.34,1061.4 517.48,1055.1 517.62,1057.8 517.76,1061.9 517.90,1058.5 518.04,1057.0 518.18,1062.0 518.32,1054.0 518.46,1058.9 518.60,1060.4 518.74,1060.3 518.88,1055.3 519.02,1059.7 519.16,1061.7 519.30,1053.9 519.44,1059.9 519.58,1059.4 519.72,1063.0 519.86,1062.2 520.00,1057.4 520.14,1056.7 520.28,1059.6 520.42,1054.4 520.56,1061.5 520.70,1060.8 520.84,1060.0 520.98,1057.3 521.12,1057.5 521.26,1057.5 521.40,1060.5 521.54,1063.1 521.68,1059.4 521.82,1058.7 521.96,1062.1 522.10,1060.2 522.24,1060.5 522.38,1057.0 522.52,1060.2 522.66,1059.3 522.80,1055.8 522.94,1061.1 523.08,1057.7 523.22,1060.6 523.36,1059.5 523.50,1055.4 523.64,1059.6 523.78,1066.3 523.92,1059.8 524.06,1058.0 524.20,1059.0 524.34,1058.5 524.48,1060.7 524.62,1063.9 524.76,1057.1 524.90,1053.9 525.04,1058.2 525.18,1055.7 525.32,1058.4 525.46,1062.8 525.60,1060.7 525.74,1057.2 525.88,1066.5 526.02,1060.7 526.16,1066.5 526.30,1061.5 526.44,1059.3 526.58,1060.4 526.72,1061.5 526.86,1064.4 527.00,1062.3 527.14,1063.6 527.28,1060.2 527.42,1065.7 527.56,1065.7 527.70,1061.3 527.84,1062.5 527.98,1063.0 528.12,1059.5 528.26,1057.6 528.40,1064.0 528.54,1063.0 528.68,1067.3 528.82,1063.8 528.96,1067.2 529.10,1064.9 529.24,1061.0 529.38,1068.0 529.52,1064.5 529.66,1063.0 529.80,1068.0 529.94,1061.0 530.08,1065.4 530.22,1066.6 530.36,1065.4 530.50,1066.3 530.64,1060.6 530.78,1062.8 530.92,1062.8 531.06,1061.0 531.20,1065.5 531.34,1059.4 531.48,1064.4 531.62,1061.4 531.76,1062.3 531.90,1061.8 532.04,1060.4 532.18,1065.1 532.32,1059.4 532.46,1062.7 532.60,1064.9 532.74,1061.6 532.88,1064.2 533.02,1063.6 533.16,1060.4 533.30,1065.0 533.44,1066.9 533.58,1064.2 533.72,1067.7 533.86,1061.4 534.00,1064.7 534.14,1066.6 534.28,1063.7 534.42,1064.1 534.56,1063.0 534.70,1063.2 534.84,1067.0 534.98,1071.0 535.12,1065.4 535.26,1065.8 535.40,1066.5 535.54,1063.5 535.68,1067.9 535.82,1064.5 535.96,1067.6 536.10,1063.5 536.24,1060.5 536.38,1064.7 536.52,1060.2 536.66,1067.3 536.80,1061.6 536.94,1061.5 537.08,1061.8 537.22,1065.8 537.36,1062.7 537.50,1066.9 537.64,1065.9 537.78,1062.8 537.92,1063.1 538.06,1061.8 538.20,1062.3 538.34,1059.4 538.48,1061.2 538.62,1059.3 538.76,1063.2 538.90,1062.2 539.04,1061.9 539.18,1064.1 539.32,1059.5 539.46,1064.7 539.60,1064.1 539.74,1058.2 539.88,1063.8 540.02,1064.7 540.16,1061.4 540.30,1066.4 540.44,1060.8 540.58,1062.8 540.72,1062.3 540.86,1069.1 541.00,1067.1 541.14,1061.5 541.28,1069.4 541.42,1070.8 541.56,1068.7 541.70,1060.6 541.84,1063.6 541.98,1064.6 542.12,1063.6 542.26,1064.4 542.40,1064.0 542.54,1065.1 542.68,1062.6 542.82,1059.0 542.96,1061.4 543.10,1058.9 543.24,1060.4 543.38,1064.6 543.52,1065.9 543.66,1063.4 543.80,1057.8 543.94,1058.1 544.08,1061.2 544.22,1062.1 544.36,1053.3 544.50,1052.4 544.64,1054.8 544.78,1055.1 544.92,1055.3 545.06,1052.0 545.20,1056.9 545.34,1048.4 545.48,1052.4 545.62,1053.7 545.76,1054.3 545.90,1052.5 546.04,1054.4 546.18,1051.4 546.32,1045.8 546.46,1049.5 546.60,1050.4 546.74,1045.3 546.88,1053.5 547.02,1042.5 547.16,1045.5 547.30,1048.7 547.44,1041.3 547.58,1046.9 547.72,1037.3 547.86,1035.0 548.00,1038.5 548.14,1038.7 548.28,1039.4 548.42,1038.0 548.56,1038.3 548.70,1036.2 548.84,1031.9 548.98,1028.5 549.12,1023.8 549.26,1020.4 549.40,1028.6 549.54,1030.6 549.68,1024.9 549.82,1026.7 549.96,1029.0 550.10,1024.9 550.24,1029.2 550.38,1029.6 550.52,1026.3 550.66,1036.2 550.80,1032.3 550.94,1035.0 551.08,1029.5 551.22,1028.3 551.36,1035.2 551.50,1036.3 551.64,1037.8 551.78,1039.0 551.92,1040.7 552.06,1038.9 552.20,1041.8 552.34,1045.6 552.48,1048.4 552.62,1048.2 552.76,1040.4 552.90,1042.7 553.04,1041.7 553.18,1042.0 553.32,1048.6 553.46,1043.3 553.60,1043.1 553.74,1042.8 553.88,1044.7 554.02,1044.5 554.16,1047.3 554.30,1047.6 554.44,1053.4 554.58,1050.7 554.72,1044.1 554.86,1048.5 555.00,1049.3 555.14,1051.5 555.28,1045.4 555.42,1046.4 555.56,1047.7 555.70,1051.4 555.84,1050.6 555.98,1051.3 556.12,1043.7 556.26,1044.0 556.40,1049.2 556.54,1051.9 556.68,1050.9 556.82,1052.6 556.96,1048.9 557.10,1057.8 557.24,1048.1 557.38,1053.5 557.52,1054.8 557.66,1048.7 557.80,1050.6 557.94,1052.8 558.08,1051.7 558.22,1048.9 558.36,1054.4 558.50,1052.9 558.64,1052.6 558.78,1054.4 558.92,1056.1 559.06,1054.7 559.20,1053.1 559.34,1055.2 559.48,1051.5 559.62,1052.9 559.76,1057.0 559.90,1058.5 560.04,1059.4 560.18,1053.3 560.32,1056.5 560.46,1054.5 560.60,1055.7 560.74,1057.7 560.88,1053.1 561.02,1056.2 561.16,1054.4 561.30,1056.6 561.44,1062.0 561.58,1057.0 561.72,1059.2 561.86,1060.9 562.00,1055.0 562.14,1055.1 562.28,1058.9 562.42,1057.0 562.56,1057.9 562.70,1057.7 562.84,1056.1 562.98,1053.3 563.12,1053.9 563.26,1054.5 563.40,1058.9 563.54,1059.5 563.68,1056.6 563.82,1054.0 563.96,1054.1 564.10,1056.7 564.24,1055.5 564.38,1056.9 564.52,1058.5 564.66,1062.1 564.80,1062.2 564.94,1055.5 565.08,1060.8 565.22,1057.9 565.36,1064.1 565.50,1063.8 565.64,1057.8 565.78,1063.1 565.92,1062.0 566.06,1063.0 566.20,1065.3 566.34,1062.4 566.48,1061.4 566.62,1058.3 566.76,1058.7 566.90,1060.4 567.04,1063.1 567.18,1057.8 567.32,1056.3 567.46,1065.0 567.60,1065.1 567.74,1059.7 567.88,1066.3 568.02,1062.4 568.16,1062.8 568.30,1059.0 568.44,1065.0 568.58,1060.3 568.72,1058.4 568.86,1061.0 569.00,1064.6 569.14,1066.6 569.28,1065.8 569.42,1062.4 569.56,1066.2 569.70,1063.1 569.84,1065.8 569.98,1062.8 570.12,1061.1 570.26,1061.7 570.40,1062.1 570.54,1060.4 570.68,1061.9 570.82,1060.9 570.96,1059.1 571.10,1064.2 571.24,1062.2 571.38,1061.5 571.52,1060.5 571.66,1066.1 571.80,1063.9 571.94,1060.9 572.08,1064.8 572.22,1065.1 572.36,1060.5 572.50,1061.9 572.64,1062.8 572.78,1065.3 572.92,1062.6 573.06,1064.1 573.20,1063.7 573.34,1061.1 573.48,1061.0 573.62,1063.0 573.76,1057.8 573.90,1062.9 574.04,1062.8 574.18,1065.9 574.32,1064.6 574.46,1062.2 574.60,1067.3 574.74,1066.3 574.88,1066.3 575.02,1068.8 575.16,1066.2 575.30,1063.6 575.44,1069.3 575.58,1063.7 575.72,1064.4 575.86,1063.0 576.00,1064.4 576.14,1065.3 576.28,1066.6 576.42,1062.7 576.56,1062.9 576.70,1061.2 576.84,1061.8 576.98,1065.6 577.12,1060.9 577.26,1065.7 577.40,1066.7 577.54,1065.7 577.68,1069.0 577.82,1066.6 577.96,1065.5 578.10,1064.5 578.24,1061.5 578.38,1066.1 578.52,1063.9 578.66,1062.8 578.80,1063.8 578.94,1064.0 579.08,1064.8 579.22,1060.7 579.36,1065.9 579.50,1061.2 579.64,1064.2 579.78,1065.1 579.92,1064.7 580.06,1067.1 580.20,1061.3 580.34,1065.5 580.48,1062.0 580.62,1059.3 580.76,1060.1 580.90,1064.7 581.04,1063.7 581.18,1069.3 581.32,1068.3 581.46,1062.7 581.60,1067.1 581.74,1064.6 581.88,1066.2 582.02,1070.4 582.16,1065.4 582.30,1064.0 582.44,1064.4 582.58,1066.4 582.72,1065.2 582.86,1067.9 583.00,1067.6 583.14,1072.1 583.28,1063.4"/>
<text class="pl" transform="translate(288.3,871.8) rotate(-90) scale(1,1.05)" font-size="16.2">13.418</text>
<text class="pl" transform="translate(322.3,974.7) rotate(-90) scale(1,1.05)" font-size="16.2">6.372</text>
<text class="pl" transform="translate(359.5,1000.4) rotate(-90) scale(1,1.05)" font-size="16.2">4.127</text>
<text class="pl" transform="translate(420.7,988.0) rotate(-90) scale(1,1.05)" font-size="16.2">2.611</text>
<text class="pl" transform="translate(552.7,1017.6) rotate(-90) scale(1,1.05)" font-size="16.2">1.521</text>
<text class="yt" transform="translate(214.1,980.9) rotate(-90) scale(0.94,1)" font-size="21.3" word-spacing="-2.14"><tspan font-style="italic">I</tspan>, отн. ед.</text>
<line x1="283.6" y1="872.3" x2="283.6" y2="885.0" stroke="#000" stroke-width="0.8"/>
<text class="tk" transform="translate(257.2,844.1) scale(0.95,1)" text-anchor="end" font-size="21.8">400</text>
<text class="tk" transform="translate(257.2,906.6) scale(0.95,1)" text-anchor="end" font-size="21.8">300</text>
<text class="tk" transform="translate(257.2,969.0) scale(0.95,1)" text-anchor="end" font-size="21.8">200</text>
<text class="tk" transform="translate(257.2,1031.5) scale(0.95,1)" text-anchor="end" font-size="21.8">100</text>
<text class="tk" transform="translate(257.2,1094.0) scale(0.95,1)" text-anchor="end" font-size="21.8">0</text>
<text class="tk" transform="translate(335.6,1110.6) scale(0.95,1)" text-anchor="middle" font-size="21.8">20</text>
<text class="tk" transform="translate(418.2,1110.6) scale(0.95,1)" text-anchor="middle" font-size="21.8">40</text>
<text class="tk" transform="translate(500.9,1110.6) scale(0.95,1)" text-anchor="middle" font-size="21.8">60</text>
<text class="tk" transform="translate(583.7,1110.6) scale(0.95,1)" text-anchor="middle" font-size="21.8">80</text>
<text class="tk" transform="translate(589.0,1127.2) scale(0.95,1)" text-anchor="end" font-size="21.8">2θ, град</text>
<line x1="723.7" y1="863.9" x2="723.7" y2="1090.8" stroke="#000" stroke-width="1.5"/>
<line x1="723.0" y1="1090.0" x2="1047.2" y2="1090.0" stroke="#000" stroke-width="1.5"/>
<line x1="723.7" y1="864.6" x2="729.2" y2="864.6" stroke="#000" stroke-width="1.3"/>
<line x1="723.7" y1="883.4" x2="726.7" y2="883.4" stroke="#000" stroke-width="1.3"/>
<line x1="723.7" y1="902.2" x2="729.2" y2="902.2" stroke="#000" stroke-width="1.3"/>
<line x1="723.7" y1="921.0" x2="726.7" y2="921.0" stroke="#000" stroke-width="1.3"/>
<line x1="723.7" y1="939.7" x2="729.2" y2="939.7" stroke="#000" stroke-width="1.3"/>
<line x1="723.7" y1="958.5" x2="726.7" y2="958.5" stroke="#000" stroke-width="1.3"/>
<line x1="723.7" y1="977.3" x2="729.2" y2="977.3" stroke="#000" stroke-width="1.3"/>
<line x1="723.7" y1="996.1" x2="726.7" y2="996.1" stroke="#000" stroke-width="1.3"/>
<line x1="723.7" y1="1014.9" x2="729.2" y2="1014.9" stroke="#000" stroke-width="1.3"/>
<line x1="723.7" y1="1033.7" x2="726.7" y2="1033.7" stroke="#000" stroke-width="1.3"/>
<line x1="723.7" y1="1052.4" x2="729.2" y2="1052.4" stroke="#000" stroke-width="1.3"/>
<line x1="723.7" y1="1071.2" x2="726.7" y2="1071.2" stroke="#000" stroke-width="1.3"/>
<line x1="723.7" y1="1090.0" x2="729.2" y2="1090.0" stroke="#000" stroke-width="1.3"/>
<line x1="757.0" y1="1090.0" x2="757.0" y2="1087.0" stroke="#000" stroke-width="1.3"/>
<line x1="798.3" y1="1090.0" x2="798.3" y2="1084.5" stroke="#000" stroke-width="1.3"/>
<line x1="839.7" y1="1090.0" x2="839.7" y2="1087.0" stroke="#000" stroke-width="1.3"/>
<line x1="881.0" y1="1090.0" x2="881.0" y2="1084.5" stroke="#000" stroke-width="1.3"/>
<line x1="922.4" y1="1090.0" x2="922.4" y2="1087.0" stroke="#000" stroke-width="1.3"/>
<line x1="963.7" y1="1090.0" x2="963.7" y2="1084.5" stroke="#000" stroke-width="1.3"/>
<line x1="1005.1" y1="1090.0" x2="1005.1" y2="1087.0" stroke="#000" stroke-width="1.3"/>
<line x1="1046.4" y1="1090.0" x2="1046.4" y2="1084.5" stroke="#000" stroke-width="1.3"/>
<polyline fill="none" stroke="#000" stroke-width="1.15" stroke-linejoin="round" points="723.70,958.3 723.84,957.0 723.98,958.0 724.12,957.6 724.26,961.2 724.40,963.2 724.54,972.4 724.68,976.1 724.82,977.6 724.96,977.7 725.10,980.6 725.24,979.6 725.38,989.2 725.52,979.2 725.66,990.1 725.80,985.1 725.94,986.2 726.08,982.0 726.22,988.4 726.36,998.4 726.50,988.4 726.64,988.0 726.78,990.8 726.92,993.1 727.06,994.7 727.20,989.3 727.34,988.8 727.48,990.6 727.62,995.2 727.76,991.6 727.90,1004.7 728.04,998.8 728.18,1002.0 728.32,1009.7 728.46,1002.1 728.60,1006.6 728.74,1005.9 728.88,1011.1 729.02,1007.6 729.16,1012.1 729.30,1009.0 729.44,1018.7 729.58,1011.1 729.72,1010.0 729.86,1016.0 730.00,1009.5 730.14,1022.0 730.28,1019.4 730.42,1020.2 730.56,1020.1 730.70,1024.1 730.84,1021.8 730.98,1022.1 731.12,1022.1 731.26,1025.5 731.40,1030.0 731.54,1023.3 731.68,1028.3 731.82,1028.2 731.96,1029.2 732.10,1031.7 732.24,1029.8 732.38,1024.1 732.52,1026.9 732.66,1023.8 732.80,1029.1 732.94,1026.8 733.08,1034.1 733.22,1031.7 733.36,1025.1 733.50,1036.0 733.64,1032.6 733.78,1032.2 733.92,1036.8 734.06,1038.4 734.20,1039.6 734.34,1032.8 734.48,1032.0 734.62,1038.2 734.76,1035.3 734.90,1029.9 735.04,1038.1 735.18,1033.3 735.32,1034.8 735.46,1031.3 735.60,1032.9 735.74,1032.8 735.88,1033.1 736.02,1031.5 736.16,1031.8 736.30,1034.2 736.44,1033.4 736.58,1034.5 736.72,1034.9 736.86,1035.3 737.00,1036.6 737.14,1035.7 737.28,1037.7 737.42,1035.3 737.56,1032.2 737.70,1033.4 737.84,1033.3 737.98,1030.9 738.12,1034.3 738.26,1026.3 738.40,1032.3 738.54,1033.0 738.68,1028.4 738.82,1027.3 738.96,1035.8 739.10,1031.0 739.24,1031.1 739.38,1028.0 739.52,1031.6 739.66,1027.5 739.80,1026.6 739.94,1029.2 740.08,1030.9 740.22,1028.0 740.36,1024.8 740.50,1028.1 740.64,1021.5 740.78,1031.4 740.92,1027.5 741.06,1026.5 741.20,1026.1 741.34,1027.9 741.48,1029.8 741.62,1031.3 741.76,1029.4 741.90,1023.3 742.04,1024.9 742.18,1028.3 742.32,1024.0 742.46,1026.1 742.60,1021.6 742.74,1018.6 742.88,1023.1 743.02,1023.1 743.16,1026.0 743.30,1021.5 743.44,1021.5 743.58,1025.2 743.72,1021.4 743.86,1017.5 744.00,1015.0 744.14,1019.2 744.28,1014.4 744.42,1018.2 744.56,1014.7 744.70,1014.2 744.84,1017.6 744.98,1013.6 745.12,1015.3 745.26,1009.8 745.40,1011.0 745.54,1011.7 745.68,1010.7 745.82,1013.4 745.96,1007.3 746.10,1009.6 746.24,1004.0 746.38,1003.6 746.52,996.5 746.66,1005.6 746.80,1001.2 746.94,1000.6 747.08,997.0 747.22,996.1 747.36,992.9 747.50,991.3 747.64,995.5 747.78,982.9 747.92,999.1 748.06,987.6 748.20,980.2 748.34,985.9 748.48,971.4 748.62,973.0 748.76,962.3 748.90,972.4 749.04,963.3 749.18,962.7 749.32,964.7 749.46,954.7 749.60,959.7 749.74,957.8 749.88,963.2 750.02,961.8 750.16,949.9 750.30,959.9 750.44,950.1 750.58,958.1 750.72,962.5 750.86,972.8 751.00,959.0 751.14,967.0 751.28,966.6 751.42,972.6 751.56,976.2 751.70,973.2 751.84,972.3 751.98,982.4 752.12,980.4 752.26,988.1 752.40,990.7 752.54,992.3 752.68,988.6 752.82,987.3 752.96,989.9 753.10,992.6 753.24,995.2 753.38,997.7 753.52,1000.1 753.66,1002.7 753.80,1000.6 753.94,1005.3 754.08,1006.2 754.22,1007.8 754.36,1000.8 754.50,1006.0 754.64,1001.1 754.78,1002.6 754.92,1009.3 755.06,1008.9 755.20,1004.5 755.34,1012.8 755.48,1012.8 755.62,1006.9 755.76,1008.4 755.90,1005.4 756.04,1011.8 756.18,1015.1 756.32,1014.0 756.46,1014.6 756.60,1014.2 756.74,1013.8 756.88,1011.3 757.02,1013.0 757.16,1015.7 757.30,1012.8 757.44,1013.8 757.58,1014.5 757.72,1016.5 757.86,1014.8 758.00,1018.0 758.14,1014.9 758.28,1013.1 758.42,1014.5 758.56,1015.1 758.70,1017.2 758.84,1012.0 758.98,1017.4 759.12,1017.9 759.26,1016.7 759.40,1020.6 759.54,1022.5 759.68,1016.6 759.82,1021.1 759.96,1023.1 760.10,1018.0 760.24,1015.8 760.38,1022.1 760.52,1020.0 760.66,1019.4 760.80,1027.6 760.94,1023.9 761.08,1019.6 761.22,1022.3 761.36,1022.6 761.50,1022.0 761.64,1019.6 761.78,1012.8 761.92,1018.5 762.06,1016.9 762.20,1019.6 762.34,1017.1 762.48,1015.3 762.62,1025.2 762.76,1018.8 762.90,1021.6 763.04,1018.3 763.18,1019.8 763.32,1013.7 763.46,1020.2 763.60,1021.5 763.74,1019.7 763.88,1023.1 764.02,1027.8 764.16,1018.5 764.30,1019.7 764.44,1020.0 764.58,1018.9 764.72,1022.7 764.86,1019.9 765.00,1015.3 765.14,1022.1 765.28,1019.1 765.42,1023.8 765.56,1019.6 765.70,1024.6 765.84,1020.3 765.98,1024.0 766.12,1022.9 766.26,1023.4 766.40,1023.9 766.54,1022.2 766.68,1020.3 766.82,1019.7 766.96,1020.9 767.10,1023.3 767.24,1022.4 767.38,1021.5 767.52,1025.1 767.66,1024.7 767.80,1021.6 767.94,1022.5 768.08,1018.0 768.22,1023.4 768.36,1026.4 768.50,1017.1 768.64,1023.9 768.78,1019.2 768.92,1017.3 769.06,1019.0 769.20,1017.0 769.34,1018.9 769.48,1019.9 769.62,1017.7 769.76,1020.0 769.90,1019.2 770.04,1015.7 770.18,1018.9 770.32,1019.3 770.46,1024.3 770.60,1021.5 770.74,1022.0 770.88,1019.8 771.02,1024.7 771.16,1023.8 771.30,1019.4 771.44,1021.5 771.58,1023.0 771.72,1021.6 771.86,1023.5 772.00,1022.9 772.14,1019.5 772.28,1023.1 772.42,1020.8 772.56,1020.7 772.70,1021.3 772.84,1024.9 772.98,1015.6 773.12,1020.3 773.26,1025.2 773.40,1025.0 773.54,1017.6 773.68,1016.0 773.82,1020.8 773.96,1020.3 774.10,1021.8 774.24,1024.2 774.38,1021.3 774.52,1020.7 774.66,1023.3 774.80,1023.4 774.94,1026.0 775.08,1021.5 775.22,1018.1 775.36,1020.7 775.50,1019.5 775.64,1015.2 775.78,1025.5 775.92,1021.2 776.06,1018.2 776.20,1016.5 776.34,1019.3 776.48,1027.7 776.62,1016.9 776.76,1024.0 776.90,1016.5 777.04,1019.2 777.18,1026.7 777.32,1019.5 777.46,1027.2 777.60,1018.6 777.74,1021.9 777.88,1020.2 778.02,1023.9 778.16,1028.0 778.30,1021.9 778.44,1021.1 778.58,1020.6 778.72,1029.5 778.86,1021.3 779.00,1016.5 779.14,1019.0 779.28,1013.8 779.42,1022.3 779.56,1015.2 779.70,1017.4 779.84,1017.9 779.98,1018.4 780.12,1019.8 780.26,1022.4 780.40,1020.4 780.54,1014.5 780.68,1012.6 780.82,1014.7 780.96,1016.3 781.10,1013.5 781.24,1012.3 781.38,1012.8 781.52,1011.2 781.66,1011.8 781.80,1008.6 781.94,1011.9 782.08,1006.2 782.22,1010.5 782.36,1002.1 782.50,1000.6 782.64,999.4 782.78,994.4 782.92,1004.2 783.06,1004.9 783.20,994.8 783.34,998.4 783.48,989.6 783.62,988.9 783.76,990.2 783.90,995.3 784.04,983.8 784.18,988.7 784.32,986.1 784.46,986.6 784.60,981.5 784.74,980.0 784.88,983.1 785.02,988.3 785.16,975.7 785.30,989.5 785.44,980.0 785.58,985.4 785.72,984.7 785.86,994.9 786.00,981.3 786.14,979.7 786.28,989.5 786.42,983.3 786.56,992.1 786.70,1002.6 786.84,996.9 786.98,995.7 787.12,997.0 787.26,995.7 787.40,1000.2 787.54,1003.0 787.68,1000.9 787.82,1004.4 787.96,1007.7 788.10,1008.4 788.24,1008.6 788.38,1002.7 788.52,1007.1 788.66,1008.3 788.80,1014.6 788.94,1013.6 789.08,1009.0 789.22,1014.2 789.36,1020.2 789.50,1018.2 789.64,1020.3 789.78,1025.2 789.92,1021.7 790.06,1017.6 790.20,1015.7 790.34,1018.9 790.48,1014.9 790.62,1022.9 790.76,1021.2 790.90,1019.2 791.04,1020.3 791.18,1021.6 791.32,1019.5 791.46,1017.5 791.60,1017.9 791.74,1022.1 791.88,1022.2 792.02,1024.3 792.16,1020.9 792.30,1018.6 792.44,1023.4 792.58,1015.8 792.72,1027.3 792.86,1023.9 793.00,1027.8 793.14,1018.9 793.28,1020.9 793.42,1025.0 793.56,1022.8 793.70,1023.7 793.84,1019.7 793.98,1021.1 794.12,1022.4 794.26,1019.1 794.40,1023.1 794.54,1020.9 794.68,1027.9 794.82,1023.1 794.96,1025.5 795.10,1026.3 795.24,1024.6 795.38,1027.5 795.52,1030.3 795.66,1029.3 795.80,1028.7 795.94,1028.3 796.08,1029.9 796.22,1026.0 796.36,1026.9 796.50,1024.8 796.64,1027.9 796.78,1024.7 796.92,1027.1 797.06,1025.7 797.20,1028.4 797.34,1024.8 797.48,1029.3 797.62,1024.4 797.76,1028.0 797.90,1025.6 798.04,1026.6 798.18,1029.1 798.32,1028.4 798.46,1030.8 798.60,1025.6 798.74,1029.2 798.88,1028.4 799.02,1025.9 799.16,1023.7 799.30,1031.9 799.44,1026.3 799.58,1026.9 799.72,1024.9 799.86,1030.6 800.00,1031.9 800.14,1031.1 800.28,1030.6 800.42,1028.6 800.56,1022.6 800.70,1030.0 800.84,1026.8 800.98,1025.6 801.12,1028.7 801.26,1024.8 801.40,1028.4 801.54,1027.2 801.68,1028.0 801.82,1027.3 801.96,1026.8 802.10,1027.4 802.24,1023.1 802.38,1027.5 802.52,1025.5 802.66,1024.3 802.80,1025.8 802.94,1022.2 803.08,1023.0 803.22,1026.6 803.36,1020.9 803.50,1024.3 803.64,1019.1 803.78,1013.4 803.92,1022.8 804.06,1018.9 804.20,1020.1 804.34,1025.1 804.48,1023.2 804.62,1021.0 804.76,1024.2 804.90,1025.1 805.04,1023.7 805.18,1022.2 805.32,1025.6 805.46,1022.5 805.60,1027.3 805.74,1022.1 805.88,1025.1 806.02,1024.1 806.16,1027.5 806.30,1028.4 806.44,1025.7 806.58,1026.4 806.72,1035.2 806.86,1026.8 807.00,1030.1 807.14,1025.0 807.28,1025.1 807.42,1023.5 807.56,1026.5 807.70,1023.0 807.84,1027.1 807.98,1023.9 808.12,1024.1 808.26,1025.0 808.40,1021.0 808.54,1024.7 808.68,1024.7 808.82,1025.3 808.96,1024.7 809.10,1029.0 809.24,1024.5 809.38,1028.9 809.52,1026.9 809.66,1023.8 809.80,1027.7 809.94,1025.9 810.08,1028.1 810.22,1029.4 810.36,1028.3 810.50,1026.4 810.64,1031.9 810.78,1024.0 810.92,1024.3 811.06,1026.4 811.20,1023.7 811.34,1028.0 811.48,1020.6 811.62,1031.1 811.76,1029.5 811.90,1026.9 812.04,1025.1 812.18,1023.6 812.32,1023.2 812.46,1017.1 812.60,1021.5 812.74,1022.7 812.88,1022.8 813.02,1025.6 813.16,1024.1 813.30,1031.0 813.44,1025.4 813.58,1021.6 813.72,1025.2 813.86,1017.8 814.00,1020.8 814.14,1025.9 814.28,1023.7 814.42,1025.0 814.56,1023.4 814.70,1024.1 814.84,1028.2 814.98,1027.2 815.12,1022.3 815.26,1021.2 815.40,1028.3 815.54,1023.9 815.68,1026.4 815.82,1026.2 815.96,1027.5 816.10,1024.0 816.24,1023.9 816.38,1023.6 816.52,1030.7 816.66,1021.1 816.80,1019.7 816.94,1020.0 817.08,1017.0 817.22,1014.9 817.36,1017.0 817.50,1022.4 817.64,1017.9 817.78,1025.4 817.92,1019.8 818.06,1016.0 818.20,1011.8 818.34,1017.3 818.48,1012.3 818.62,1003.0 818.76,1015.1 818.90,1005.3 819.04,1005.7 819.18,1010.5 819.32,1007.4 819.46,1002.3 819.60,1004.1 819.74,1000.9 819.88,1004.9 820.02,1008.7 820.16,996.8 820.30,995.5 820.44,999.1 820.58,1006.0 820.72,1006.9 820.86,1006.5 821.00,1003.7 821.14,1003.4 821.28,1001.0 821.42,1003.4 821.56,1016.4 821.70,1006.3 821.84,1006.9 821.98,1007.7 822.12,1001.8 822.26,1007.4 822.40,1009.4 822.54,1013.9 822.68,1011.4 822.82,1011.0 822.96,1012.4 823.10,1007.5 823.24,1010.6 823.38,1009.6 823.52,1014.1 823.66,1012.6 823.80,1012.2 823.94,1008.6 824.08,1018.9 824.22,1018.8 824.36,1017.7 824.50,1018.1 824.64,1018.6 824.78,1015.0 824.92,1018.0 825.06,1021.1 825.20,1019.0 825.34,1020.2 825.48,1019.3 825.62,1021.3 825.76,1019.2 825.90,1022.0 826.04,1021.5 826.18,1020.6 826.32,1017.5 826.46,1025.4 826.60,1019.6 826.74,1027.8 826.88,1023.4 827.02,1025.7 827.16,1027.6 827.30,1027.2 827.44,1023.3 827.58,1023.3 827.72,1026.5 827.86,1024.4 828.00,1024.0 828.14,1025.3 828.28,1024.8 828.42,1020.0 828.56,1023.9 828.70,1020.0 828.84,1023.7 828.98,1020.0 829.12,1024.3 829.26,1027.6 829.40,1024.9 829.54,1029.1 829.68,1026.3 829.82,1020.2 829.96,1026.5 830.10,1021.5 830.24,1027.1 830.38,1027.4 830.52,1026.1 830.66,1027.9 830.80,1026.7 830.94,1030.1 831.08,1028.7 831.22,1027.4 831.36,1033.0 831.50,1031.1 831.64,1031.5 831.78,1031.1 831.92,1029.0 832.06,1029.8 832.20,1032.1 832.34,1026.8 832.48,1025.8 832.62,1025.9 832.76,1027.8 832.90,1029.9 833.04,1027.0 833.18,1028.5 833.32,1028.0 833.46,1021.5 833.60,1027.1 833.74,1027.1 833.88,1024.6 834.02,1029.6 834.16,1025.0 834.30,1026.4 834.44,1026.4 834.58,1029.3 834.72,1028.4 834.86,1035.6 835.00,1032.3 835.14,1034.0 835.28,1030.7 835.42,1032.1 835.56,1030.8 835.70,1028.4 835.84,1031.7 835.98,1028.5 836.12,1026.4 836.26,1028.0 836.40,1026.0 836.54,1025.8 836.68,1029.0 836.82,1023.1 836.96,1020.6 837.10,1027.3 837.24,1033.5 837.38,1025.8 837.52,1028.7 837.66,1023.4 837.80,1027.0 837.94,1030.0 838.08,1025.2 838.22,1026.0 838.36,1024.2 838.50,1026.1 838.64,1027.2 838.78,1025.6 838.92,1022.8 839.06,1027.8 839.20,1027.4 839.34,1029.6 839.48,1027.9 839.62,1024.7 839.76,1027.0 839.90,1023.1 840.04,1029.7 840.18,1029.7 840.32,1031.3 840.46,1032.2 840.60,1025.3 840.74,1030.3 840.88,1027.8 841.02,1029.4 841.16,1026.0 841.30,1023.9 841.44,1031.2 841.58,1030.9 841.72,1027.7 841.86,1031.5 842.00,1027.1 842.14,1032.4 842.28,1028.6 842.42,1028.3 842.56,1029.3 842.70,1027.4 842.84,1027.0 842.98,1032.9 843.12,1027.9 843.26,1032.7 843.40,1026.0 843.54,1030.3 843.68,1030.0 843.82,1031.7 843.96,1027.4 844.10,1029.5 844.24,1025.1 844.38,1026.9 844.52,1025.9 844.66,1027.2 844.80,1030.6 844.94,1030.5 845.08,1029.0 845.22,1024.1 845.36,1026.8 845.50,1024.1 845.64,1027.8 845.78,1026.3 845.92,1023.3 846.06,1026.9 846.20,1026.8 846.34,1029.7 846.48,1022.1 846.62,1027.5 846.76,1023.5 846.90,1027.9 847.04,1030.7 847.18,1023.7 847.32,1021.5 847.46,1026.8 847.60,1031.0 847.74,1027.9 847.88,1028.6 848.02,1026.0 848.16,1036.7 848.30,1025.0 848.44,1026.3 848.58,1026.9 848.72,1026.6 848.86,1028.4 849.00,1028.0 849.14,1032.0 849.28,1028.7 849.42,1029.3 849.56,1032.3 849.70,1025.9 849.84,1027.3 849.98,1027.7 850.12,1028.5 850.26,1028.4 850.40,1023.8 850.54,1029.4 850.68,1024.9 850.82,1024.6 850.96,1029.6 851.10,1030.5 851.24,1035.8 851.38,1026.5 851.52,1029.3 851.66,1027.9 851.80,1028.1 851.94,1025.5 852.08,1026.6 852.22,1027.4 852.36,1033.8 852.50,1025.0 852.64,1030.9 852.78,1028.1 852.92,1025.5 853.06,1028.8 853.20,1026.5 853.34,1028.6 853.48,1024.4 853.62,1026.6 853.76,1025.1 853.90,1027.4 854.04,1022.4 854.18,1027.6 854.32,1026.7 854.46,1026.0 854.60,1029.8 854.74,1028.3 854.88,1030.0 855.02,1033.1 855.16,1028.8 855.30,1027.5 855.44,1027.4 855.58,1023.9 855.72,1029.4 855.86,1027.8 856.00,1030.5 856.14,1026.6 856.28,1027.2 856.42,1030.2 856.56,1029.1 856.70,1027.4 856.84,1027.4 856.98,1026.7 857.12,1031.8 857.26,1027.6 857.40,1030.7 857.54,1019.1 857.68,1023.1 857.82,1022.4 857.96,1021.3 858.10,1024.6 858.24,1021.6 858.38,1021.2 858.52,1020.1 858.66,1016.1 858.80,1013.1 858.94,1019.3 859.08,1018.8 859.22,1014.2 859.36,1010.7 859.50,1009.0 859.64,1006.4 859.78,1011.7 859.92,995.6 860.06,1003.1 860.20,1002.0 860.34,997.4 860.48,1001.7 860.62,997.4 860.76,1000.5 860.90,1002.4 861.04,1007.1 861.18,1004.0 861.32,1002.0 861.46,1003.9 861.60,1005.7 861.74,1009.4 861.88,1007.1 862.02,1010.5 862.16,1012.7 862.30,1013.3 862.44,1015.4 862.58,1015.0 862.72,1021.6 862.86,1019.6 863.00,1022.1 863.14,1018.6 863.28,1026.4 863.42,1026.7 863.56,1019.1 863.70,1024.0 863.84,1023.2 863.98,1028.2 864.12,1029.7 864.26,1025.6 864.40,1032.7 864.54,1025.7 864.68,1026.7 864.82,1029.3 864.96,1030.4 865.10,1027.4 865.24,1034.2 865.38,1030.5 865.52,1028.5 865.66,1028.0 865.80,1028.7 865.94,1029.4 866.08,1030.5 866.22,1032.0 866.36,1026.8 866.50,1025.6 866.64,1029.0 866.78,1028.3 866.92,1025.3 867.06,1026.5 867.20,1028.0 867.34,1034.1 867.48,1026.5 867.62,1026.9 867.76,1028.1 867.90,1025.5 868.04,1024.5 868.18,1029.2 868.32,1032.7 868.46,1032.0 868.60,1025.4 868.74,1029.7 868.88,1026.9 869.02,1030.3 869.16,1031.9 869.30,1027.9 869.44,1025.4 869.58,1026.5 869.72,1026.8 869.86,1031.2 870.00,1025.9 870.14,1033.6 870.28,1031.1 870.42,1028.9 870.56,1034.3 870.70,1031.6 870.84,1027.1 870.98,1021.3 871.12,1027.7 871.26,1030.7 871.40,1025.4 871.54,1027.8 871.68,1027.0 871.82,1026.7 871.96,1031.5 872.10,1029.1 872.24,1032.9 872.38,1024.1 872.52,1029.4 872.66,1035.4 872.80,1029.4 872.94,1030.4 873.08,1026.0 873.22,1027.4 873.36,1030.2 873.50,1028.9 873.64,1022.8 873.78,1020.7 873.92,1024.8 874.06,1026.9 874.20,1024.2 874.34,1023.8 874.48,1028.0 874.62,1032.7 874.76,1028.2 874.90,1026.1 875.04,1033.2 875.18,1030.3 875.32,1027.3 875.46,1026.2 875.60,1024.6 875.74,1023.5 875.88,1017.5 876.02,1023.8 876.16,1020.7 876.30,1019.9 876.44,1021.4 876.58,1023.9 876.72,1022.6 876.86,1024.2 877.00,1022.0 877.14,1018.8 877.28,1030.2 877.42,1021.5 877.56,1020.9 877.70,1021.6 877.84,1022.2 877.98,1017.5 878.12,1024.2 878.26,1021.0 878.40,1015.3 878.54,1015.3 878.68,1013.9 878.82,1016.1 878.96,1019.0 879.10,1015.3 879.24,1014.4 879.38,1020.0 879.52,1015.1 879.66,1015.8 879.80,1014.1 879.94,1011.3 880.08,1003.9 880.22,1006.6 880.36,1009.4 880.50,1007.2 880.64,1010.4 880.78,999.7 880.92,1000.7 881.06,1007.6 881.20,998.8 881.34,1006.0 881.48,1004.3 881.62,1005.3 881.76,1009.0 881.90,1005.2 882.04,1004.2 882.18,1004.1 882.32,1005.6 882.46,1005.6 882.60,1000.2 882.74,1005.5 882.88,998.6 883.02,998.5 883.16,999.8 883.30,996.7 883.44,999.6 883.58,993.5 883.72,997.5 883.86,996.4 884.00,991.2 884.14,988.2 884.28,995.2 884.42,989.1 884.56,984.4 884.70,975.7 884.84,966.4 884.98,974.4 885.12,973.1 885.26,965.5 885.40,961.1 885.54,951.2 885.68,949.8 885.82,952.9 885.96,945.4 886.10,946.5 886.24,942.4 886.38,952.7 886.52,945.4 886.66,945.9 886.80,939.1 886.94,955.1 887.08,951.3 887.22,950.8 887.36,959.5 887.50,958.6 887.64,968.1 887.78,965.4 887.92,973.0 888.06,978.4 888.20,980.5 888.34,976.8 888.48,979.0 888.62,985.1 888.76,993.9 888.90,983.9 889.04,990.8 889.18,984.1 889.32,989.7 889.46,992.1 889.60,995.0 889.74,994.3 889.88,992.4 890.02,1000.6 890.16,993.5 890.30,1001.7 890.44,989.5 890.58,996.8 890.72,1000.9 890.86,995.2 891.00,992.3 891.14,997.2 891.28,998.0 891.42,996.0 891.56,1001.5 891.70,996.9 891.84,1001.9 891.98,999.9 892.12,1001.6 892.26,999.8 892.40,997.3 892.54,1000.8 892.68,1002.8 892.82,1007.8 892.96,1008.5 893.10,1006.5 893.24,1008.6 893.38,1008.8 893.52,1009.1 893.66,1005.9 893.80,1012.9 893.94,1016.2 894.08,1010.1 894.22,1007.1 894.36,1014.7 894.50,1013.2 894.64,1014.2 894.78,1016.0 894.92,1014.6 895.06,1010.4 895.20,1008.0 895.34,1012.8 895.48,1008.7 895.62,1018.0 895.76,1013.5 895.90,1011.6 896.04,1010.3 896.18,1017.6 896.32,1014.6 896.46,1013.9 896.60,1014.7 896.74,1004.8 896.88,1014.2 897.02,1010.0 897.16,1008.1 897.30,1005.7 897.44,1001.8 897.58,1006.6 897.72,1007.9 897.86,1008.7 898.00,1011.8 898.14,1018.2 898.28,1007.6 898.42,1017.9 898.56,1010.9 898.70,1016.8 898.84,1015.4 898.98,1007.9 899.12,1018.3 899.26,1013.7 899.40,1013.4 899.54,1010.7 899.68,1003.0 899.82,1008.8 899.96,1006.8 900.10,1014.3 900.24,1004.8 900.38,1014.0 900.52,1011.4 900.66,1014.0 900.80,1008.8 900.94,1009.1 901.08,1013.4 901.22,1010.8 901.36,1012.6 901.50,1011.1 901.64,1016.5 901.78,1017.7 901.92,1017.3 902.06,1016.8 902.20,1014.5 902.34,1014.7 902.48,1009.5 902.62,1015.6 902.76,1010.4 902.90,1014.9 903.04,1006.9 903.18,1011.6 903.32,1005.9 903.46,1006.9 903.60,1011.1 903.74,1010.3 903.88,1011.7 904.02,1011.5 904.16,1017.1 904.30,1011.4 904.44,1006.6 904.58,1013.3 904.72,1012.6 904.86,1010.3 905.00,1014.6 905.14,1011.3 905.28,1017.8 905.42,1019.3 905.56,1015.9 905.70,1017.5 905.84,1016.2 905.98,1016.5 906.12,1019.2 906.26,1016.5 906.40,1014.8 906.54,1018.5 906.68,1015.2 906.82,1017.1 906.96,1020.7 907.10,1013.0 907.24,1016.2 907.38,1014.2 907.52,1021.8 907.66,1014.8 907.80,1018.4 907.94,1017.8 908.08,1016.2 908.22,1018.4 908.36,1014.4 908.50,1017.0 908.64,1019.4 908.78,1016.8 908.92,1019.8 909.06,1017.2 909.20,1020.9 909.34,1013.4 909.48,1019.7 909.62,1024.7 909.76,1017.2 909.90,1022.1 910.04,1021.0 910.18,1024.5 910.32,1017.6 910.46,1018.6 910.60,1018.0 910.74,1020.9 910.88,1017.3 911.02,1021.1 911.16,1022.9 911.30,1019.6 911.44,1020.7 911.58,1023.0 911.72,1027.3 911.86,1019.5 912.00,1024.1 912.14,1024.5 912.28,1024.9 912.42,1025.6 912.56,1026.8 912.70,1019.6 912.84,1024.2 912.98,1025.2 913.12,1023.1 913.26,1025.6 913.40,1019.5 913.54,1020.9 913.68,1018.7 913.82,1023.4 913.96,1022.1 914.10,1018.0 914.24,1019.2 914.38,1018.3 914.52,1025.1 914.66,1018.1 914.80,1021.8 914.94,1020.9 915.08,1023.1 915.22,1019.3 915.36,1014.3 915.50,1018.5 915.64,1019.8 915.78,1019.2 915.92,1018.2 916.06,1023.3 916.20,1017.8 916.34,1023.1 916.48,1025.4 916.62,1026.4 916.76,1024.1 916.90,1023.5 917.04,1023.9 917.18,1020.6 917.32,1027.7 917.46,1022.6 917.60,1016.5 917.74,1021.4 917.88,1021.7 918.02,1025.6 918.16,1015.2 918.30,1025.4 918.44,1023.2 918.58,1017.7 918.72,1022.3 918.86,1026.2 919.00,1023.1 919.14,1025.2 919.28,1023.0 919.42,1021.8 919.56,1018.1 919.70,1020.7 919.84,1022.4 919.98,1025.2 920.12,1025.3 920.26,1020.5 920.40,1023.7 920.54,1016.2 920.68,1021.4 920.82,1016.4 920.96,1021.9 921.10,1019.3 921.24,1020.5 921.38,1024.5 921.52,1014.7 921.66,1012.2 921.80,1015.9 921.94,1020.3 922.08,1018.0 922.22,1015.2 922.36,1015.7 922.50,1016.1 922.64,1011.6 922.78,1008.0 922.92,1014.5 923.06,1013.1 923.20,1011.0 923.34,1017.0 923.48,1011.0 923.62,1004.8 923.76,1008.7 923.90,1005.2 924.04,1004.6 924.18,1002.7 924.32,1000.7 924.46,1002.7 924.60,1010.3 924.74,1015.5 924.88,1009.2 925.02,1008.3 925.16,1015.1 925.30,1016.0 925.44,1012.0 925.58,1013.8 925.72,1012.5 925.86,1016.2 926.00,1017.5 926.14,1013.4 926.28,1022.0 926.42,1022.9 926.56,1017.9 926.70,1016.6 926.84,1016.0 926.98,1017.6 927.12,1021.2 927.26,1019.2 927.40,1014.6 927.54,1010.9 927.68,1019.1 927.82,1020.2 927.96,1022.1 928.10,1022.1 928.24,1024.4 928.38,1020.4 928.52,1023.0 928.66,1020.0 928.80,1022.7 928.94,1029.3 929.08,1019.3 929.22,1018.3 929.36,1018.2 929.50,1019.7 929.64,1018.9 929.78,1021.1 929.92,1024.3 930.06,1028.0 930.20,1022.6 930.34,1021.7 930.48,1025.2 930.62,1022.2 930.76,1022.2 930.90,1020.8 931.04,1019.7 931.18,1021.9 931.32,1020.0 931.46,1021.7 931.60,1018.9 931.74,1023.0 931.88,1020.1 932.02,1023.0 932.16,1028.4 932.30,1022.1 932.44,1022.3 932.58,1022.3 932.72,1019.8 932.86,1026.4 933.00,1022.0 933.14,1024.9 933.28,1024.2 933.42,1023.9 933.56,1021.4 933.70,1024.6 933.84,1024.4 933.98,1021.7 934.12,1020.3 934.26,1027.1 934.40,1023.3 934.54,1019.8 934.68,1028.9 934.82,1028.3 934.96,1024.8 935.10,1020.5 935.24,1024.5 935.38,1022.1 935.52,1027.1 935.66,1024.0 935.80,1023.3 935.94,1025.4 936.08,1026.0 936.22,1033.4 936.36,1025.6 936.50,1027.6 936.64,1029.4 936.78,1023.6 936.92,1025.9 937.06,1024.7 937.20,1025.4 937.34,1026.0 937.48,1028.2 937.62,1024.5 937.76,1029.4 937.90,1022.9 938.04,1028.1 938.18,1022.3 938.32,1024.4 938.46,1028.7 938.60,1024.2 938.74,1027.3 938.88,1026.2 939.02,1031.0 939.16,1021.9 939.30,1024.7 939.44,1026.8 939.58,1030.8 939.72,1027.9 939.86,1026.4 940.00,1022.7 940.14,1025.6 940.28,1024.8 940.42,1021.6 940.56,1027.4 940.70,1025.7 940.84,1022.3 940.98,1029.3 941.12,1030.0 941.26,1021.8 941.40,1031.3 941.54,1027.8 941.68,1027.9 941.82,1027.2 941.96,1027.0 942.10,1027.8 942.24,1024.6 942.38,1024.3 942.52,1031.3 942.66,1028.1 942.80,1032.4 942.94,1024.3 943.08,1027.7 943.22,1023.0 943.36,1023.0 943.50,1021.9 943.64,1029.8 943.78,1024.4 943.92,1025.7 944.06,1023.8 944.20,1030.8 944.34,1027.0 944.48,1027.3 944.62,1028.0 944.76,1029.5 944.90,1035.6 945.04,1024.6 945.18,1031.2 945.32,1030.6 945.46,1031.4 945.60,1027.5 945.74,1025.5 945.88,1027.0 946.02,1030.2 946.16,1029.0 946.30,1024.7 946.44,1025.5 946.58,1029.0 946.72,1032.4 946.86,1027.5 947.00,1030.9 947.14,1026.7 947.28,1029.4 947.42,1027.1 947.56,1029.1 947.70,1026.6 947.84,1032.6 947.98,1031.1 948.12,1029.2 948.26,1025.6 948.40,1029.3 948.54,1029.4 948.68,1028.9 948.82,1027.9 948.96,1029.2 949.10,1023.4 949.24,1027.0 949.38,1025.0 949.52,1028.1 949.66,1025.7 949.80,1026.7 949.94,1026.3 950.08,1027.9 950.22,1030.3 950.36,1028.5 950.50,1026.1 950.64,1029.0 950.78,1031.3 950.92,1026.5 951.06,1030.6 951.20,1031.8 951.34,1024.5 951.48,1025.4 951.62,1029.1 951.76,1023.1 951.90,1027.0 952.04,1027.7 952.18,1030.9 952.32,1028.5 952.46,1030.9 952.60,1028.7 952.74,1029.6 952.88,1030.0 953.02,1028.3 953.16,1028.9 953.30,1028.9 953.44,1031.6 953.58,1027.7 953.72,1028.5 953.86,1025.7 954.00,1032.1 954.14,1029.9 954.28,1024.3 954.42,1035.1 954.56,1029.3 954.70,1029.4 954.84,1028.6 954.98,1027.2 955.12,1028.3 955.26,1030.4 955.40,1025.5 955.54,1031.3 955.68,1020.2 955.82,1030.5 955.96,1027.9 956.10,1024.5 956.24,1028.2 956.38,1026.8 956.52,1027.7 956.66,1026.8 956.80,1033.1 956.94,1025.0 957.08,1024.9 957.22,1029.8 957.36,1027.7 957.50,1025.1 957.64,1026.8 957.78,1033.6 957.92,1029.7 958.06,1030.6 958.20,1025.4 958.34,1031.5 958.48,1028.5 958.62,1028.9 958.76,1028.3 958.90,1025.6 959.04,1028.7 959.18,1030.0 959.32,1024.9 959.46,1030.9 959.60,1029.9 959.74,1035.9 959.88,1032.0 960.02,1029.8 960.16,1031.3 960.30,1030.2 960.44,1025.5 960.58,1030.4 960.72,1028.9 960.86,1031.5 961.00,1028.8 961.14,1027.6 961.28,1028.7 961.42,1029.9 961.56,1031.9 961.70,1031.4 961.84,1030.8 961.98,1030.3 962.12,1034.4 962.26,1033.2 962.40,1028.3 962.54,1031.7 962.68,1033.4 962.82,1031.3 962.96,1030.4 963.10,1027.2 963.24,1033.6 963.38,1035.4 963.52,1033.0 963.66,1036.9 963.80,1032.9 963.94,1026.0 964.08,1030.8 964.22,1024.4 964.36,1030.2 964.50,1034.9 964.64,1031.9 964.78,1028.4 964.92,1028.8 965.06,1029.3 965.20,1028.9 965.34,1027.8 965.48,1031.8 965.62,1032.5 965.76,1029.1 965.90,1033.7 966.04,1036.5 966.18,1029.7 966.32,1031.8 966.46,1029.3 966.60,1027.1 966.74,1028.9 966.88,1030.3 967.02,1032.0 967.16,1027.6 967.30,1027.4 967.44,1023.7 967.58,1029.1 967.72,1030.4 967.86,1022.3 968.00,1026.5 968.14,1030.2 968.28,1030.0 968.42,1032.0 968.56,1023.1 968.70,1029.9 968.84,1027.9 968.98,1026.8 969.12,1026.6 969.26,1030.6 969.40,1029.2 969.54,1029.6 969.68,1029.9 969.82,1029.1 969.96,1028.6 970.10,1027.9 970.24,1026.0 970.38,1024.4 970.52,1024.3 970.66,1025.5 970.80,1029.5 970.94,1027.3 971.08,1029.0 971.22,1032.3 971.36,1029.2 971.50,1028.9 971.64,1029.1 971.78,1032.2 971.92,1026.5 972.06,1026.4 972.20,1031.4 972.34,1030.2 972.48,1030.0 972.62,1029.1 972.76,1030.3 972.90,1026.2 973.04,1026.5 973.18,1028.5 973.32,1027.7 973.46,1026.8 973.60,1030.4 973.74,1025.4 973.88,1029.3 974.02,1020.4 974.16,1021.8 974.30,1023.2 974.44,1020.6 974.58,1027.0 974.72,1026.0 974.86,1027.0 975.00,1026.8 975.14,1025.6 975.28,1027.4 975.42,1024.7 975.56,1031.3 975.70,1023.5 975.84,1028.7 975.98,1026.1 976.12,1026.1 976.26,1028.2 976.40,1028.4 976.54,1025.1 976.68,1030.3 976.82,1027.6 976.96,1031.6 977.10,1029.5 977.24,1030.7 977.38,1032.1 977.52,1028.9 977.66,1029.1 977.80,1030.5 977.94,1026.0 978.08,1033.3 978.22,1030.4 978.36,1028.0 978.50,1030.1 978.64,1027.1 978.78,1029.1 978.92,1027.8 979.06,1031.0 979.20,1026.2 979.34,1029.8 979.48,1026.8 979.62,1032.2 979.76,1030.0 979.90,1031.6 980.04,1032.1 980.18,1026.7 980.32,1029.8 980.46,1027.3 980.60,1030.0 980.74,1026.2 980.88,1023.6 981.02,1027.7 981.16,1029.9 981.30,1031.8 981.44,1036.5 981.58,1028.7 981.72,1030.3 981.86,1028.1 982.00,1029.1 982.14,1031.6 982.28,1029.9 982.42,1026.4 982.56,1025.8 982.70,1025.4 982.84,1024.9 982.98,1026.9 983.12,1027.5 983.26,1025.8 983.40,1024.2 983.54,1029.4 983.68,1026.3 983.82,1030.5 983.96,1027.4 984.10,1028.0 984.24,1032.1 984.38,1030.6 984.52,1030.0 984.66,1037.0 984.80,1028.9 984.94,1029.9 985.08,1029.1 985.22,1027.8 985.36,1030.0 985.50,1030.9 985.64,1029.4 985.78,1033.1 985.92,1028.6 986.06,1025.0 986.20,1032.0 986.34,1032.3 986.48,1027.1 986.62,1032.1 986.76,1027.5 986.90,1032.2 987.04,1032.8 987.18,1028.9 987.32,1026.0 987.46,1024.0 987.60,1022.9 987.74,1036.2 987.88,1024.2 988.02,1027.4 988.16,1027.9 988.30,1023.4 988.44,1024.5 988.58,1033.7 988.72,1026.0 988.86,1030.2 989.00,1022.6 989.14,1027.7 989.28,1020.2 989.42,1033.7 989.56,1028.6 989.70,1028.4 989.84,1024.1 989.98,1031.5 990.12,1031.9 990.26,1031.3 990.40,1031.7 990.54,1028.3 990.68,1025.9 990.82,1033.9 990.96,1027.3 991.10,1028.3 991.24,1026.6 991.38,1024.0 991.52,1029.8 991.66,1023.0 991.80,1027.0 991.94,1024.1 992.08,1018.1 992.22,1022.3 992.36,1014.6 992.50,1018.3 992.64,1017.6 992.78,1016.2 992.92,1015.1 993.06,1015.0 993.20,1012.6 993.34,1008.8 993.48,1004.4 993.62,1014.1 993.76,1010.4 993.90,1011.5 994.04,1017.7 994.18,1013.8 994.32,1010.9 994.46,1023.2 994.60,1012.0 994.74,1010.8 994.88,1024.2 995.02,1016.2 995.16,1013.4 995.30,1023.1 995.44,1027.6 995.58,1022.3 995.72,1020.4 995.86,1030.6 996.00,1031.1 996.14,1027.0 996.28,1030.6 996.42,1031.0 996.56,1032.1 996.70,1032.5 996.84,1030.2 996.98,1030.6 997.12,1027.5 997.26,1027.3 997.40,1028.8 997.54,1031.7 997.68,1030.2 997.82,1026.4 997.96,1029.1 998.10,1028.5 998.24,1027.7 998.38,1033.0 998.52,1033.2 998.66,1035.3 998.80,1033.4 998.94,1028.0 999.08,1030.0 999.22,1028.2 999.36,1029.3 999.50,1025.9 999.64,1028.0 999.78,1029.8 999.92,1030.8 1000.06,1028.7 1000.20,1031.9 1000.34,1033.9 1000.48,1033.2 1000.62,1030.8 1000.76,1032.0 1000.90,1033.2 1001.04,1036.8 1001.18,1035.2 1001.32,1032.4 1001.46,1030.1 1001.60,1031.2 1001.74,1036.7 1001.88,1034.7 1002.02,1030.1 1002.16,1035.8 1002.30,1034.1 1002.44,1033.5 1002.58,1033.0 1002.72,1031.8 1002.86,1037.8 1003.00,1033.4 1003.14,1040.0 1003.28,1036.1 1003.42,1033.5 1003.56,1027.9 1003.70,1029.3 1003.84,1028.5 1003.98,1029.7 1004.12,1036.5 1004.26,1029.4 1004.40,1033.3 1004.54,1029.0 1004.68,1028.2 1004.82,1027.4 1004.96,1033.6 1005.10,1030.8 1005.24,1026.5 1005.38,1026.5 1005.52,1023.4 1005.66,1028.7 1005.80,1023.6 1005.94,1027.1 1006.08,1027.6 1006.22,1021.1 1006.36,1025.0 1006.50,1019.9 1006.64,1022.7 1006.78,1024.0 1006.92,1024.6 1007.06,1023.3 1007.20,1025.0 1007.34,1021.6 1007.48,1020.4 1007.62,1025.0 1007.76,1024.7 1007.90,1019.3 1008.04,1024.5 1008.18,1026.0 1008.32,1023.3 1008.46,1023.0 1008.60,1020.1 1008.74,1017.4 1008.88,1019.8 1009.02,1016.1 1009.16,1020.5 1009.30,1022.0 1009.44,1014.7 1009.58,1017.1 1009.72,1016.3 1009.86,1015.9 1010.00,1015.5 1010.14,1020.9 1010.28,1017.7 1010.42,1018.6 1010.56,1013.5 1010.70,1018.9 1010.84,1021.4 1010.98,1014.9 1011.12,1016.4 1011.26,1017.1 1011.40,1018.3 1011.54,1014.1 1011.68,1012.3 1011.82,1012.6 1011.96,1015.1 1012.10,1016.1 1012.24,1008.3 1012.38,1013.4 1012.52,1006.1 1012.66,1016.0 1012.80,1020.9 1012.94,1011.5 1013.08,1015.2 1013.22,1015.3 1013.36,1013.3 1013.50,1020.8 1013.64,1019.5 1013.78,1019.0 1013.92,1021.7 1014.06,1020.8 1014.20,1015.3 1014.34,1020.6 1014.48,1019.2 1014.62,1018.2 1014.76,1015.6 1014.90,1022.4 1015.04,1023.4 1015.18,1017.1 1015.32,1019.0 1015.46,1017.0 1015.60,1018.5 1015.74,1023.2 1015.88,1016.4 1016.02,1013.7 1016.16,1020.1 1016.30,1017.7 1016.44,1018.8 1016.58,1018.7 1016.72,1022.1 1016.86,1026.4 1017.00,1018.8 1017.14,1021.9 1017.28,1020.5 1017.42,1020.4 1017.56,1026.1 1017.70,1020.9 1017.84,1023.0 1017.98,1021.3 1018.12,1025.5 1018.26,1018.3 1018.40,1020.6 1018.54,1018.6 1018.68,1019.0 1018.82,1019.0 1018.96,1018.4 1019.10,1022.3 1019.24,1016.8 1019.38,1017.5 1019.52,1016.1 1019.66,1020.6 1019.80,1012.1 1019.94,1018.0 1020.08,1014.0 1020.22,1016.0 1020.36,1019.2 1020.50,1015.9 1020.64,1008.6 1020.78,1011.0 1020.92,1001.8 1021.06,1009.3 1021.20,1007.4 1021.34,1002.5 1021.48,1004.3 1021.62,1002.9 1021.76,1006.3 1021.90,998.4 1022.04,1006.3 1022.18,1002.0 1022.32,997.2 1022.46,1002.4 1022.60,1002.6 1022.74,1009.1 1022.88,998.4 1023.02,1001.0 1023.16,1009.3 1023.30,1006.3 1023.44,994.6 1023.58,999.9 1023.72,1012.3 1023.86,1016.8 1024.00,1013.4 1024.14,1012.4 1024.28,1014.9 1024.42,1018.1 1024.56,1014.0 1024.70,1015.2 1024.84,1011.8 1024.98,1009.5 1025.12,1017.3 1025.26,1021.4 1025.40,1021.2 1025.54,1022.1 1025.68,1021.6 1025.82,1021.3 1025.96,1026.5 1026.10,1020.2 1026.24,1019.9 1026.38,1020.6 1026.52,1019.6 1026.66,1021.1 1026.80,1023.8 1026.94,1022.5 1027.08,1021.9 1027.22,1023.2 1027.36,1025.9 1027.50,1022.7 1027.64,1023.2 1027.78,1023.3 1027.92,1029.1 1028.06,1030.4 1028.20,1024.4 1028.34,1027.0 1028.48,1024.1 1028.62,1026.7 1028.76,1030.3 1028.90,1027.2 1029.04,1026.1 1029.18,1026.7 1029.32,1026.9 1029.46,1026.4 1029.60,1027.4 1029.74,1026.3 1029.88,1027.2 1030.02,1022.2 1030.16,1029.6 1030.30,1028.5 1030.44,1023.4 1030.58,1029.5 1030.72,1026.6 1030.86,1028.0 1031.00,1031.4 1031.14,1025.7 1031.28,1027.1 1031.42,1028.6 1031.56,1025.0 1031.70,1026.1 1031.84,1026.5 1031.98,1027.3 1032.12,1030.3 1032.26,1029.9 1032.40,1026.2 1032.54,1026.3 1032.68,1026.5 1032.82,1026.0 1032.96,1030.1 1033.10,1029.9 1033.24,1031.1 1033.38,1028.8 1033.52,1031.2 1033.66,1027.0 1033.80,1029.7 1033.94,1028.1 1034.08,1025.3 1034.22,1027.2 1034.36,1030.0 1034.50,1033.1 1034.64,1031.9 1034.78,1029.9 1034.92,1028.8 1035.06,1026.7 1035.20,1030.1 1035.34,1036.5 1035.48,1033.5 1035.62,1035.3 1035.76,1029.7 1035.90,1028.7 1036.04,1033.5 1036.18,1029.2 1036.32,1029.2 1036.46,1029.2 1036.60,1031.3 1036.74,1032.6 1036.88,1023.7 1037.02,1026.6 1037.16,1029.7 1037.30,1034.2 1037.44,1032.7 1037.58,1031.8 1037.72,1032.9 1037.86,1035.5 1038.00,1031.0 1038.14,1031.7 1038.28,1031.6 1038.42,1032.5 1038.56,1031.4 1038.70,1032.3 1038.84,1032.3 1038.98,1030.8 1039.12,1031.7 1039.26,1032.9 1039.40,1029.9 1039.54,1028.2 1039.68,1030.7 1039.82,1034.3 1039.96,1032.3 1040.10,1033.2 1040.24,1033.4 1040.38,1027.8 1040.52,1026.8 1040.66,1032.7 1040.80,1029.5 1040.94,1030.2 1041.08,1026.3 1041.22,1033.5 1041.36,1030.5 1041.50,1028.8 1041.64,1025.6 1041.78,1028.4 1041.92,1033.6 1042.06,1030.9 1042.20,1040.6 1042.34,1034.9 1042.48,1033.8 1042.62,1035.9 1042.76,1032.6 1042.90,1032.3 1043.04,1035.1 1043.18,1033.9 1043.32,1033.4 1043.46,1031.8 1043.60,1032.6 1043.74,1035.2 1043.88,1031.7 1044.02,1033.0 1044.16,1031.5 1044.30,1032.9 1044.44,1035.5 1044.58,1029.7 1044.72,1031.2 1044.86,1030.1 1045.00,1028.8 1045.14,1035.1 1045.28,1035.4 1045.42,1032.8 1045.56,1036.5 1045.70,1034.3 1045.84,1035.6 1045.98,1032.6 1046.12,1032.5 1046.26,1034.1 1046.40,1032.9"/>
<text class="pl" transform="translate(755.7,947.3) rotate(-90) scale(1,1.05)" font-size="16.2">12.22</text>
<text class="pl" transform="translate(790.8,975.7) rotate(-90) scale(1,1.05)" font-size="16.2">6.07</text>
<text class="pl" transform="translate(808.0,1016.9) rotate(-90) scale(1,1.05)" font-size="16.2">4.85<tspan font-style="italic" font-size="17.3">Mt</tspan></text>
<text class="pl" transform="translate(824.9,990.7) rotate(-90) scale(1,1.05)" font-size="16.2">4.07</text>
<text class="pl" transform="translate(865.3,998.2) rotate(-90) scale(1,1.05)" font-size="16.2">2.968<tspan font-style="italic" font-size="17.3">Mt</tspan></text>
<text class="pl" transform="translate(891.7,938.3) rotate(-90) scale(1,1.05)" font-size="16.2">2.532<tspan font-style="italic" font-size="17.3">Mt</tspan></text>
<text class="pl" transform="translate(911.9,1008.6) rotate(-90) scale(1,1.05)" font-size="16.2">2.272</text>
<text class="pl" transform="translate(928.0,1004.9) rotate(-90) scale(1,1.05)" font-size="16.2">2.102<tspan font-style="italic" font-size="17.3">Mt</tspan></text>
<text class="pl" transform="translate(980.4,1016.8) rotate(-90) scale(1,1.05)" font-size="16.2">1.713<tspan font-style="italic" font-size="17.3">Mt</tspan></text>
<text class="pl" transform="translate(999.0,1012.3) rotate(-90) scale(1,1.05)" font-size="16.2">1.612<tspan font-style="italic" font-size="17.3">Mt</tspan></text>
<text class="pl" transform="translate(1011.4,1010.1) rotate(-90) scale(1,1.05)" font-size="16.2">1.527</text>
<text class="pl" transform="translate(1027.1,997.4) rotate(-90) scale(1,1.05)" font-size="16.2">1.481<tspan font-style="italic" font-size="17.3">Mt</tspan></text>
<text class="yt" transform="translate(669.1,1001.8) rotate(-90) scale(0.94,1)" font-size="21.3" word-spacing="1.96"><tspan font-style="italic">I</tspan>, отн. ед.</text>
<text class="tk" transform="translate(1045.2,1135.6) scale(0.95,1)" text-anchor="end" font-size="21.8">2θ, град</text>
</svg>
</body></html>
